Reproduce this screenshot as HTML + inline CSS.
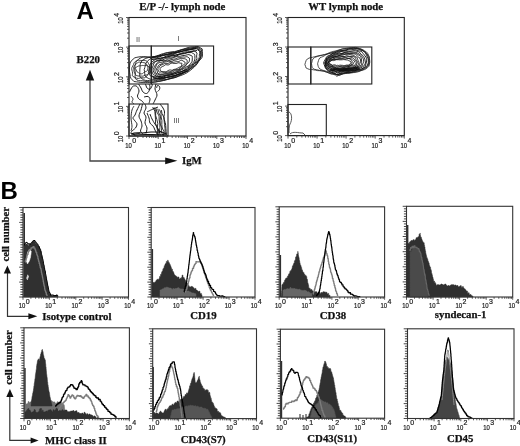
<!DOCTYPE html><html><head><meta charset="utf-8"><style>html,body{margin:0;padding:0;background:#fff;}svg{display:block;filter:blur(0.35px)}</style></head><body>
<svg width="520" height="446" viewBox="0 0 520 446">
<rect width="520" height="446" fill="#fff"/>
<text x="76.6" y="18.7" style="font-family:'Liberation Sans',sans-serif;font-weight:bold;font-size:24px" fill="#000" >A</text>
<text x="139.3" y="10" style="font-family:'Liberation Serif',serif;font-weight:bold;font-size:10.8px" fill="#111" stroke="#111" stroke-width="0.25" >E/P -/- lymph node</text>
<text x="308.3" y="10" style="font-family:'Liberation Serif',serif;font-weight:bold;font-size:10.8px" fill="#111" stroke="#111" stroke-width="0.25" >WT lymph node</text>
<text x="76.6" y="63.3" style="font-family:'Liberation Serif',serif;font-weight:bold;font-size:10.8px" fill="#111" stroke="#111" stroke-width="0.25" >B220</text>
<text x="182" y="163.5" style="font-family:'Liberation Serif',serif;font-weight:bold;font-size:10.8px" fill="#111" stroke="#111" stroke-width="0.25" >IgM</text>
<path d="M90 79 V161 H167" stroke="#444" stroke-width="1.3" fill="none"/>
<polygon points="90,69.8 85.8,80.6 94.2,80.6" fill="#111"/>
<polygon points="177.4,160.8 165.2,157.4 165.2,164.2" fill="#111"/>
<polygon points="129.3,70 129.5,67.7 129.7,65.3 130,63.1 131.1,61.1 133,59.3 134.8,57.8 136.9,57.3 139,56.9 141.2,56.7 143.4,56.8 145.7,57 147.9,57 150.3,56.8 152.4,56.7 154.6,56.5 156.7,55.9 158.8,55.2 161.2,54.2 163.4,53.6 165.7,52.9 167.8,52.5 169.9,52.1 172,51.8 174.4,51.6 176.8,51.1 179.2,50.5 181.4,49.6 183.7,49 185.9,48.3 188,47.5 190.1,47.1 192.1,46.9 194.2,46.8 196.2,46.5 198.3,46.5 200.2,47.7 202.2,48.9 202.4,51.3 202.5,53.9 202.4,56.6 201.4,58.5 199.9,60 198.6,61.6 197.3,63.6 195.7,65.6 193.9,67.4 192.2,68.8 190.7,70.1 189,71.3 187.2,72.6 185.2,73.7 183.1,74.6 180.9,75.5 178.8,76.2 176.8,77 174.5,77.8 172.1,78.4 169.7,78.9 167.8,79.4 165.8,80 163.6,80.5 161.2,81.1 158.7,81.4 156.5,81.9 154.2,82.1 152,82.4 149.6,82.3 147.4,82.4 145.2,82.4 143.1,82.4 140.9,82.4 138.5,82.1 136.3,81.8 133.9,81.5 132.4,79.9 130.9,78.3 130.3,76.5 130,74.3 129.6,72.3" fill="none" stroke="#1a1a1a" stroke-width="0.9" stroke-linejoin="round"/>
<polygon points="134.8,69.5 134.8,67.4 135.1,65.5 135.4,63.7 136.2,61.8 137.6,60.2 139.1,58.6 141,57.8 142.9,57.1 144.9,56.8 147,57.1 149.2,57.4 151.1,57.8 153.4,57.5 155.5,56.9 157.8,56.1 159.8,55.6 161.6,54.9 163.4,54.2 165.4,53.4 167.7,52.9 170.1,52.6 172.4,52.4 174.4,52.2 176,51.6 177.6,50.9 179.5,50.3 181.7,49.8 183.9,49.4 185.9,49 187.8,48.5 189.9,48.1 191.9,47.7 194.2,47.5 196.4,47.1 198.6,47.5 200.2,48.5 201.5,49.9 201.1,51.9 201.1,54 201.1,55.8 200.5,57.5 199.3,59.3 198.2,61.3 197.1,63.4 195.6,65.1 194,66.4 192.3,67.6 190.6,68.8 188.9,70.1 187.2,71.3 185.4,72.2 183.5,73.1 181.9,74.2 180.2,75.1 178.4,76.1 176.3,77 174.1,77.6 172,78.1 169.9,78.6 167.8,79.2 165.7,79.7 163.9,80.3 162.1,80.5 160,81 157.6,81.4 155.4,81.9 153.5,82.1 151.6,82.1 149.3,81.9 146.8,81.6 144.5,81.2 142.7,80.8 140.6,80.7 138.6,80.7 136.8,79.8 135.4,78.7 135,76.7 135.3,74.3 135.2,71.8" fill="none" stroke="#1a1a1a" stroke-width="0.9" stroke-linejoin="round"/>
<polygon points="139.8,69.9 140,67.9 140.1,66.3 140.2,64.3 140.7,62.6 141.8,60.9 143.4,59.6 145.2,58.7 146.9,58 148.7,57.5 150.7,57.4 153,57.4 155.1,57.2 157,56.9 158.8,56.4 160.5,56 162.4,55.4 164.2,55.1 166.1,54.7 167.7,54.3 169.4,53.5 171.2,53.1 173.2,52.6 175.2,52.5 177.1,52 179,51.3 180.9,50.3 182.6,49.6 184.5,49.2 186.2,49.1 188.1,49 190.1,48.9 192.3,48.5 194.4,48.2 196.6,47.7 198.4,48.3 200,49.3 201.2,50.6 201,52.5 200.9,54.6 200.9,56.4 200.3,58 199.1,59.7 198,61.5 196.9,63.4 195.7,64.8 194.3,65.8 192.6,66.8 191,68.1 189.4,69.2 187.8,70.5 186.1,71.3 184.6,72.3 183,73.2 181.5,73.9 179.6,74.8 177.7,75.7 175.9,76.3 174.5,76.8 172.8,77.4 170.9,78.2 168.6,78.9 166.7,79.4 164.8,79.6 163.1,79.7 161.1,79.8 159.2,80 157.3,80.4 155.2,80.6 153.2,80.8 151.2,80.8 149.4,80.6 147.5,80.5 145.6,80.4 143.7,79.9 142,78.7 140.4,77.4 139.7,75.8 139.8,73.9 139.8,71.8" fill="none" stroke="#1a1a1a" stroke-width="0.9" stroke-linejoin="round"/>
<polygon points="144.2,69.5 144.8,67.6 145.2,66 145.6,64.5 145.9,63.1 146.8,62 147.8,60.7 149.3,59.6 150.8,58.5 152.6,58 154.5,57.9 156.4,57.8 158.2,57.4 160,56.7 161.5,56.1 163.2,55.6 165,55.2 167.1,54.8 169,54.6 170.8,54.4 172.4,54 174,53.5 175.8,52.9 177.4,52.5 178.9,52.1 180.4,51.6 182.1,51.1 183.7,50.5 185.3,50 187,49.6 189.1,49.3 191.2,49 193.1,48.5 194.6,48.1 196,47.8 197.4,48.6 199,49.9 200.5,51.1 200.7,52.7 200.9,54.5 200.9,56.3 200.5,58.1 199.5,59.6 198.3,60.8 197,62.1 195.4,63.2 194,64.6 192.6,65.9 191.5,67.2 190.2,68.3 188.8,69.5 187.3,70.4 185.8,71.5 184.4,72.3 182.6,72.8 181,73.3 179.3,73.8 177.7,74.4 176,75 174.2,75.6 172.3,76.3 170.4,76.8 168.6,77.2 167,77.5 165.6,77.9 164,78.4 162.1,79 160.1,79.4 158.4,79.3 156.7,79.2 155.1,79.1 153.4,79.2 151.9,79.3 150.3,79.2 148.8,78.6 147.1,77.6 145.6,76.7 144.9,75.1 144.7,73.4 144.5,71.4" fill="none" stroke="#1a1a1a" stroke-width="0.9" stroke-linejoin="round"/>
<polygon points="149,70.4 149.3,68.7 149.6,66.7 150.1,64.9 150.7,63.2 151.7,62.1 152.9,61.2 154,60.4 155.2,59.5 156.7,59.1 158.6,58.8 160.4,58.5 162,58 163.3,57.5 164.7,56.9 166.2,56.2 167.8,55.5 169.5,55.1 171.3,54.9 172.9,54.6 174.2,54.2 175.4,53.5 176.8,52.9 178.4,52.4 180,52 181.6,51.5 183,51 184.5,50.6 186.1,50.2 187.9,50 189.8,49.7 191.5,49.6 193,49.1 194.6,48.9 196.3,48.7 197.7,49.8 199,50.8 199.8,51.9 199.6,53.5 199.3,55.1 199.4,56.6 199.1,58.1 198.3,59.3 197.2,60.6 196.2,61.7 195.1,63.1 194,64.2 192.7,65.3 191.6,66.2 190.2,67.2 188.9,68.2 187.5,69.4 186.2,70.3 184.9,71.3 183.5,71.9 182.1,72.8 180.7,73.4 179.5,74.1 178.1,74.6 176.7,75.2 175.1,75.9 173.8,76.4 172.2,76.8 170.7,76.9 168.9,77.1 167.1,77.4 165.2,77.9 163.5,78.3 162.1,78.4 160.8,78.3 159.4,78.4 157.7,78.5 156.1,78.5 154.6,78.2 153.4,77.3 151.9,76.5 150.2,75.7 149.5,74.5 149.3,73.2 149.3,72" fill="none" stroke="#111" stroke-width="0.9" stroke-linejoin="round"/>
<polygon points="149.8,70 150.3,68.7 150.9,67.2 151.5,65.4 152,63.8 153,62.6 154.1,62 155.2,61.5 156.3,60.8 157.8,60.4 159.3,59.9 160.9,59.3 162.3,58.7 163.8,58 165.1,57.7 166.4,57.4 167.6,56.9 169,56.1 170.4,55.6 172.3,55.3 173.9,55.4 175.5,55.2 176.8,54.9 178,54.4 179.2,53.9 180.6,53.4 182.2,52.9 183.5,52.4 184.8,52 186,51.8 187.6,51.8 189.3,51.7 191.2,51.3 192.7,51 194.1,50.7 195.1,51.5 196.2,52.1 197,53.1 196.8,54.5 196.6,55.9 196.7,57.2 196.9,58.6 196.2,60.1 195.3,61.5 194.4,62.6 193.7,63.5 193,64.2 191.8,65 190.5,66 189,67.1 187.8,68.1 186.4,69.2 185.1,70 183.7,70.7 182.6,71.2 181.4,71.7 180.2,72.6 178.9,73.6 177.6,74.5 176.4,75.1 175.1,75.5 173.6,75.7 171.8,75.8 170.2,76.1 168.8,76.3 167.6,76.8 166.3,77.2 165,77.5 163.5,77.5 162.1,77.5 160.7,77.7 159.2,77.8 157.5,78 155.8,77.8 154.3,77.2 153,76.6 151.9,76 151.3,74.5 150.8,72.9 150.2,71.3" fill="none" stroke="#111" stroke-width="0.9" stroke-linejoin="round"/>
<polygon points="151.4,70 151.8,68.9 152.5,67.4 153.1,65.8 153.6,64.2 154.1,63 154.9,62.3 155.7,61.6 156.9,61.1 158.3,60.7 160,60.6 161.6,60.2 163,59.8 164.2,59.2 165.3,58.7 166.7,58.3 168.1,57.8 169.4,57.5 170.5,57.2 171.6,57.2 172.8,57 174,56.8 175.3,56.4 176.8,55.8 178.4,55.1 179.8,54.5 181,54 182.2,53.9 183.5,53.8 184.7,53.6 186,53.1 187.3,52.7 188.8,52.6 190.1,52.6 191.4,52.5 192.3,53 193.4,53.6 194.5,54.3 194.8,55.5 194.9,57 194.9,58.5 194.7,60 194.1,61.3 193.3,62.4 192.4,63.4 191.4,64.4 190.2,65.3 188.8,66.1 187.7,66.9 186.7,67.8 185.9,68.6 185,69.4 184.1,70.1 183,70.9 181.9,71.4 180.5,71.7 179.1,72.2 177.6,72.7 176.3,73.4 175.1,73.8 174.2,74.2 173.1,74.3 171.8,74.7 170.4,75 168.9,75.5 167.6,75.7 166.3,75.9 165.1,76.3 163.6,76.8 162,77.2 160.4,77.4 159.1,77.4 158.1,77 157.1,76.6 156,75.7 154.6,75.2 153.3,74.7 152.8,73.8 152.4,72.5 151.9,71.3" fill="none" stroke="#111" stroke-width="0.9" stroke-linejoin="round"/>
<polygon points="152.9,69.9 153.5,68.8 154.1,67.6 154.8,66.2 155.3,65.1 156.1,64.2 157,63.4 157.9,62.4 158.8,61.4 160,60.8 161,60.6 162,60.5 163.1,60.7 164.4,60.7 165.6,60.4 166.6,59.8 167.7,59.2 168.9,58.9 170.1,58.8 171.3,58.5 172.4,58.1 173.6,57.5 174.9,57.1 176.1,56.7 177.4,56.5 178.5,56.4 179.6,56.4 180.6,56.2 181.8,55.8 182.9,55.6 184.2,55.5 185.3,55.3 186.5,55 187.7,54.7 188.9,54.6 190,55.1 191.2,55.5 192.2,56.2 192.3,57.5 192.3,58.9 192.2,60 192.2,61.2 191.6,62.2 190.7,63.4 189.8,64.4 189,65.4 188.5,66 187.7,66.3 186.8,66.7 185.5,67.4 184.3,68.3 183,69.1 181.9,69.6 180.8,70.2 179.8,70.7 178.7,71.4 177.7,71.7 176.6,72 175.6,72.3 174.5,72.7 173.5,73 172.5,73.4 171.3,73.8 170.3,74.3 169.2,74.4 168.1,74.6 166.8,74.8 165.3,75.5 164,75.8 162.6,76 161.2,75.9 159.8,76 158.7,76 157.8,75.9 157.1,75.2 156.3,74.5 155.2,74 154.5,73.1 153.8,72 153.3,70.9" fill="none" stroke="#111" stroke-width="0.9" stroke-linejoin="round"/>
<polygon points="154.8,69.5 155.1,68.6 155.4,67.7 155.8,66.9 156.1,65.8 156.6,64.7 157.4,63.8 158.4,63.1 159.5,62.6 160.7,62.4 161.8,62.2 162.8,61.9 163.7,61.5 164.6,61 165.6,60.9 166.6,60.7 167.6,60.8 168.7,60.6 169.9,60.3 171,59.8 172.1,59.5 173.3,59.2 174.4,59.1 175.7,58.8 176.8,58.3 177.8,57.9 178.7,57.7 179.5,57.7 180.4,57.6 181.5,57.3 182.5,57.1 183.5,57 184.6,57.1 185.6,56.9 186.5,56.7 187.3,56.8 188.2,57.3 189.1,57.9 189.6,58.9 189.5,59.8 189.4,60.7 189.1,61.7 188.6,62.5 187.9,63.1 187.2,63.7 186.6,64.4 185.9,65.3 185.1,66.3 184.2,67.3 183.4,68.1 182.5,68.5 181.5,68.9 180.5,69.5 179.7,70.1 178.8,70.6 177.9,71.1 176.8,71.6 175.8,72.1 174.8,72.5 174,72.8 173.1,73.2 172.2,73.3 171,73.3 169.9,73.3 168.6,73.4 167.6,73.8 166.5,74.1 165.5,74.6 164.6,74.7 163.6,74.6 162.7,74.4 161.6,74.4 160.6,74.7 159.6,74.8 158.6,74.5 157.5,74 156.2,73.4 155.6,72.5 155.2,71.5 155,70.5" fill="none" stroke="#111" stroke-width="0.9" stroke-linejoin="round"/>
<polygon points="156.2,69.1 156.8,68.3 157.2,67.7 157.8,66.9 158.1,66.1 158.6,65.4 159.2,64.8 159.9,64.5 161,64.2 161.8,63.7 162.8,63.2 163.5,62.6 164.5,62.2 165.5,61.9 166.5,61.8 167.3,61.7 168,61.4 168.6,61.2 169.2,61.2 170.1,61.5 171.1,61.4 172.2,61.2 173.2,60.7 174.2,60.3 175.4,60.1 176.6,59.8 177.7,59.5 178.6,59.2 179.4,58.9 180.1,58.7 180.8,58.6 181.5,58.6 182.4,58.6 183.3,58.6 184.4,58.7 185.4,59 186.2,59.3 186.8,59.8 187.1,60.5 187.2,61.5 187.1,62.4 186.9,63.3 186.4,64 185.9,64.6 185.3,65.3 184.8,66 183.8,66.6 182.9,67 182.1,67.6 181.6,68.2 180.8,68.8 180,69.2 179.1,69.7 178.3,70 177.4,70.4 176.4,70.5 175.5,70.8 174.7,70.9 174,71.2 173.3,71.5 172.5,72 171.7,72.4 170.7,72.5 169.8,72.6 168.8,72.8 167.9,73.1 166.9,73.3 165.9,73.4 164.9,73.5 164.1,73.8 163.2,73.9 162.4,74.1 161.4,74.1 160.3,74.2 159.1,73.9 158.1,73.4 157.5,72.9 157.3,71.7 157.1,70.8 156.7,69.9" fill="none" stroke="#111" stroke-width="0.9" stroke-linejoin="round"/>
<polygon points="157.6,68.9 158.2,68.4 158.8,67.8 159.3,67 159.5,66.2 159.9,65.8 160.2,65.5 161,65.3 161.6,64.8 162.5,64.5 163.1,64.2 163.9,63.9 164.5,63.6 165.1,63.4 165.7,63.5 166.5,63.5 167.3,63.6 168.3,63.3 169.3,62.8 170.2,62.4 170.7,62.2 171.4,62.3 172.4,62.3 173.7,62.3 174.5,62.1 175.1,62 175.6,61.8 176.4,61.7 177.3,61.7 178.4,61.6 179.4,61.2 180.2,60.6 180.7,60.4 181.3,60.2 182.1,60.4 182.9,60.9 183.7,61.4 184.4,61.8 185,62.2 185.2,62.8 185,63.6 184.5,64.3 184,64.7 183.4,65 182.8,65.5 182.1,66.1 181.5,66.7 180.8,67.1 180.2,67.5 179.5,68.1 179,68.9 178.6,69.4 178.2,69.5 177.4,69.5 176.4,69.5 175.3,69.8 174.4,70 173.8,70.2 173.3,70.3 172.7,70.6 171.9,71.1 170.8,71.5 169.7,71.7 168.7,71.8 168,72 167.3,72.1 166.6,72.4 165.9,72.4 165.1,72.6 164.5,72.6 163.8,72.7 163.2,72.3 162.4,72.1 161.7,71.9 160.9,71.9 160.1,72.1 159.4,72.2 158.9,71.7 158.5,70.7 158,69.8" fill="none" stroke="#111" stroke-width="0.9" stroke-linejoin="round"/>
<polygon points="159.9,68.7 160.4,68.3 160.7,67.9 161,67.4 161.2,67.1 161.7,66.8 162.1,66.5 162.8,66.3 163.4,66.1 164,65.8 164.7,65.3 165.1,64.9 165.6,64.7 166.1,64.7 166.9,64.8 167.5,64.9 168.2,64.9 168.6,64.9 168.9,64.8 169.2,64.4 169.9,64 170.8,63.4 171.8,63.1 172.5,63.1 173,63.3 173.5,63.5 173.9,63.6 174.6,63.5 175.3,63.5 176.1,63.5 176.8,63.3 177.5,63 178,62.9 178.6,62.7 179.1,62.8 179.9,63 180.7,63.2 181.4,63.2 181.9,63.3 181.9,63.8 181.7,64.6 181.7,65.3 181.6,66.1 181,66.5 180.2,67 179.4,67.2 178.7,67.5 178.2,67.7 177.7,68.1 177.2,68.4 176.6,68.6 176.1,68.9 175.6,69.1 175.2,69.3 174.7,69.3 174.2,69.4 173.6,69.5 173,69.8 172.6,70.1 172,70.3 171.3,70.2 170.5,70 169.7,70 169.1,70.2 168.3,70.5 167.6,70.9 167,71.3 166.6,71.5 165.9,71.7 165.4,71.7 164.8,71.7 164.3,71.5 163.7,71.6 163,71.7 162.3,71.6 161.4,71.4 160.7,71 160.4,70.5 160.2,69.9 160.1,69.3" fill="none" stroke="#111" stroke-width="0.9" stroke-linejoin="round"/>
<polygon points="132,67.4 132.7,66.1 133.5,64.6 134.1,62.8 135.4,61.4 136.9,60.6 138.1,60.1 139.1,60.2 140.3,60.4 142.1,60.6 144.1,60.3 145.6,60.6 146.7,61.1 147.8,62.1 148.6,63.7 149.7,65.5 150.1,67.1 150.1,68.7 150.2,70.1 150.5,71.3 150.3,72 149.3,72.9 148.2,74.2 147.1,75.8 145.9,76.8 145,77.5 144.1,78 142.9,77.8 141.7,77.7 140.2,77.9 138.3,78.5 136.3,78.1 134.5,77.3 132.9,76.4 132.4,75.8 132.4,74.5 132.6,73.2 132.3,71.4 131.9,70 131.7,68.6" fill="none" stroke="#222" stroke-width="0.85" stroke-linejoin="round"/>
<polygon points="133.6,67.9 133.9,66.8 134.4,65.7 135.2,64.8 136.3,63.8 137.4,62.9 138.4,62.3 139.5,62.1 141,62.5 142.4,62.4 143.9,62.7 145,62.9 146,63.7 146.6,64.2 147.1,65.2 147.9,65.9 149,66.9 149.3,68.3 149.2,69.7 148.7,70.8 148.4,71.9 148.3,72.9 148.5,74 147.9,74.6 146.5,74.9 145,75.2 143.9,75.8 142.9,76.2 141.8,76.1 140.4,76 139,76 138,76 137.1,75.7 136.2,75.3 135.2,74.4 134.8,73.2 134.2,72.1 134,71.1 133.9,70.1 133.9,69" fill="none" stroke="#222" stroke-width="0.85" stroke-linejoin="round"/>
<polygon points="135,67.8 135.7,67.5 136.5,67.1 137.5,66.5 138.2,66.1 139.2,65.9 140.3,65.8 141.5,65.6 142.2,65.5 142.9,65.4 143.6,65.5 144.7,65.3 145.8,65.4 146.8,65.3 147.2,66.1 147.7,66.9 147.9,67.7 147.8,68.5 147.5,69.2 147.7,70 147.5,70.5 147.1,70.8 146.5,71.2 145.6,71.5 144.7,71.9 144,72.3 143.4,73 142.5,73.6 141.3,73.9 140.1,73.8 139.2,73.5 138.6,73 138.1,72.4 137.6,72.2 137.3,72 137.1,71.8 136.7,71 136.3,70.1 135.6,69 135.2,68.4" fill="none" stroke="#222" stroke-width="0.85" stroke-linejoin="round"/>
<path d="M152 57 C165 55 178 52 196 48.5 M152 59.5 C166 57.5 180 54 197 50.5 M153 79 C165 78.5 176 76 188 71 M153 77 C165 76.5 176 74 187 69.5" stroke="#111" stroke-width="1.0" fill="none"/>
<polyline points="129.5,92 129.9,91.2 130.4,90.1 131,89 131.5,88 132,87.3 132.4,86.7 132.9,86.3 133.5,86 134.3,85.9 135.2,85.8 136.2,86 137,86.5 137.7,87.3 138.3,88.5 138.8,89.7 139,91 138.8,92.3 138.3,93.6 137.7,94.9 137.5,96 137.6,96.9 138,97.7 138.4,98.4 139,99 139.7,99.6 140.5,100 141.3,100.5 142,101 142.6,101.6 143.2,102.4 143.7,103 144,103.5" fill="none" stroke="#1a1a1a" stroke-width="1.0" stroke-linejoin="round"/>
<polyline points="138.5,84 139,84.7 139.6,85.8 140.4,86.9 141,88 141.5,89.1 141.9,90.2 142.4,91.2 143,92 143.8,92.6 144.7,93.2 145.7,93.5 146.5,93.5 147.2,93.2 147.9,92.6 148.5,91.8 149,91 149.4,90.1 149.7,89 149.9,88 150,87 149.9,86.1 149.6,85.2 149.2,84.5 149,84" fill="none" stroke="#1a1a1a" stroke-width="1.0" stroke-linejoin="round"/>
<polyline points="145.5,84 145.7,84.8 146.1,85.9 146.5,87.1 147,88 147.7,88.6 148.5,89.1 149.3,89.3 150,89.2 150.6,88.7 151.2,87.8 151.6,86.8 152,86 152.2,85.4 152.4,84.8 152.4,84.3 152.5,84" fill="none" stroke="#1a1a1a" stroke-width="1.0" stroke-linejoin="round"/>
<polyline points="156,84 155.8,84.9 155.4,86.1 155.1,87.6 155,89 155.4,90.5 156.1,92 156.7,93.5 157,95 156.8,96.3 156.2,97.6 155.6,98.8 155,100 154.5,101.2 153.9,102.3 153.4,103.3 153,104" fill="none" stroke="#1a1a1a" stroke-width="1.0" stroke-linejoin="round"/>
<polyline points="156.5,88 156.7,87.5 156.9,86.7 157.2,85.9 157.5,85.5 158,85.5 158.6,85.7 159.1,86 159.5,86.5 159.7,87.1 159.8,87.9 159.7,88.8 159.5,89.5 159.1,90.1 158.5,90.7 157.9,91.2 157.5,91.5" fill="none" stroke="#1a1a1a" stroke-width="1.0" stroke-linejoin="round"/>
<polyline points="144,97 144.8,96.8 145.9,96.6 147,96.4 148,96.5 148.7,96.9 149.3,97.4 149.8,98.2 150,99 149.9,100.1 149.6,101.4 149.2,102.6 149,103.5" fill="none" stroke="#1a1a1a" stroke-width="1.0" stroke-linejoin="round"/>
<polyline points="131,96 131.4,96.5 132.1,97.3 132.7,98.2 133,99 132.9,99.8 132.5,100.6 132.1,101.3 132,102 132.3,102.6 132.9,103.2 133.6,103.7 134,104" fill="none" stroke="#333" stroke-width="1.0" stroke-linejoin="round"/>
<polyline points="140,104 139.4,105.1 138.6,106.7 137.8,108.4 137,110 136.4,111.4 135.9,112.7 135.5,113.9 135,115 134.4,115.9 133.8,116.6 133.2,117.3 133,118 133.2,118.8 133.8,119.5 134.4,120.2 135,121 135.6,121.7 136.2,122.4 136.7,123.2 137,124 136.9,125 136.6,126 136.1,127 135.5,128 134.7,128.8 133.7,129.6 132.7,130.3 132,131 131.5,131.7 131.1,132.4 130.9,133 131,133.5 131.4,133.9 132.1,134.2 132.9,134.5 134,134.5 135.4,134.3 137.2,133.8 138.9,133.3 140,133" fill="none" stroke="#1a1a1a" stroke-width="1.0" stroke-linejoin="round"/>
<polyline points="142.5,104 142.2,105.1 141.9,106.6 141.4,108.4 141,110 140.4,111.5 139.8,113.1 139.2,114.6 139,116 139.2,117.3 139.8,118.6 140.5,119.8 141,121 141.4,122.2 141.7,123.5 141.9,124.8 142,126 141.7,127.3 141.2,128.6 140.7,129.9 140.5,131 140.9,132 141.7,132.8 142.5,133.5 143,134" fill="none" stroke="#1a1a1a" stroke-width="1.0" stroke-linejoin="round"/>
<polyline points="145,104 145.2,104.7 145.6,105.7 145.9,106.8 146,108 145.6,109.2 144.9,110.5 144.3,111.8 144,113 144.3,114 144.9,114.9 145.6,115.9 146,117 145.9,118.4 145.5,119.9 145.1,121.5 145,123 145.4,124.3 146,125.5 146.6,126.7 147,128 146.9,129.5 146.6,131.1 146.2,132.5 146,133.5" fill="none" stroke="#1a1a1a" stroke-width="1.0" stroke-linejoin="round"/>
<polyline points="147,112 147.5,111.7 148.3,111.3 149.2,110.9 150,110.5 150.7,110.1 151.4,109.8 152.1,109.4 153,109 154.2,108.5 155.7,107.9 157.1,107.4 158,107" fill="none" stroke="#1a1a1a" stroke-width="1.0" stroke-linejoin="round"/>
<polyline points="147,113 147.4,113.9 147.9,115.2 148.5,116.6 149,118 149.3,119.3 149.4,120.6 149.6,121.9 150,123 150.6,123.9 151.4,124.6 152.3,125.2 153,126 153.6,126.9 154.1,127.9 154.5,129 155,130 155.5,131.1 156.1,132.2 156.6,133.3 157,134" fill="none" stroke="#1a1a1a" stroke-width="1.0" stroke-linejoin="round"/>
<polyline points="150,114 150.3,114.9 150.8,116.2 151.4,117.6 152,119 152.7,120.2 153.4,121.5 154.2,122.8 155,124 155.8,125.3 156.6,126.6 157.3,127.8 158,129 158.6,130.2 159.2,131.3 159.7,132.3 160,133" fill="none" stroke="#1a1a1a" stroke-width="1.0" stroke-linejoin="round"/>
<polyline points="160,104 160.6,104.7 161.4,105.8 162.3,106.9 163,108 163.5,109 164,109.9 164.3,110.9 164.5,112 164.5,113.4 164.2,114.9 164,116.5 164,118 164.3,119.5 164.7,121 165.1,122.5 165.5,124 165.7,125.5 165.8,127.1 165.9,128.6 166,130 166.1,131.4 166.3,132.9 166.4,134.1 166.5,135" fill="none" stroke="#1a1a1a" stroke-width="1.0" stroke-linejoin="round"/>
<polyline points="134,106 133.6,106.6 133.1,107.5 132.5,108.6 132,110 131.6,111.7 131.3,113.8 131.1,115.9 131,118 131.2,120.1 131.5,122.2 131.8,124.2 132,126 131.9,127.6 131.6,129 131.2,130.2 131,131" fill="none" stroke="#333" stroke-width="1.0" stroke-linejoin="round"/>
<path d="M152.7 107 L154.8 111.1 L155.2 115.1 L155.5 119.2 L155.5 123.3 L157 127.4 L157.6 131.4 L157.5 135.5 M154.6 107.6 L155.6 111.6 L155.7 115.6 L156.9 119.6 L157.8 123.5 L157.3 127.5 L159.1 131.5 L158.6 135.5 M155.9 108.2 L156.9 112.1 L159.1 116 L159.1 119.9 L159.9 123.8 L159.9 127.7 L159.4 131.6 L160.4 135.5 M157.8 108.8 L158.6 112.6 L160.6 116.4 L160.1 120.2 L160.2 124.1 L161.9 127.9 L161.1 131.7 L163.1 135.5 M159.4 109.4 L161 113.1 L161.1 116.9 L161.9 120.6 L161.8 124.3 L162.1 128 L164.1 131.8 L163.4 135.5 M161.3 110 L162 113.6 L163.8 117.3 L164.2 120.9 L164.5 124.6 L165 128.2 L165.1 131.9 L165.9 135.5" stroke="#111" stroke-width="0.85" fill="none"/>
<path d="M131 134 C137 131.5 141 134 146 132.5 C151 131 156 133 161 131.5 L166 134 M134 135.2 C142 133.8 150 134.8 165 134.8" stroke="#111" stroke-width="1.1" fill="none"/>
<rect x="129" y="46" width="22.3" height="38" fill="none" stroke="#222" stroke-width="1.1"/>
<rect x="151.3" y="46" width="62.3" height="38" fill="none" stroke="#222" stroke-width="1.1"/>
<rect x="129" y="104" width="39" height="32" fill="none" stroke="#222" stroke-width="1.1"/>
<rect x="129" y="17.5" width="117" height="118.5" fill="none" stroke="#222" stroke-width="1.1"/>
<path d="M129 136v3M137.8 136v2M143 136v2M146.6 136v2M149.4 136v2M151.8 136v2M153.7 136v2M155.4 136v2M156.9 136v2M158.2 136v3M167.1 136v2M172.2 136v2M175.9 136v2M178.7 136v2M181 136v2M183 136v2M184.7 136v2M186.2 136v2M187.5 136v3M196.3 136v2M201.5 136v2M205.1 136v2M207.9 136v2M210.3 136v2M212.2 136v2M213.9 136v2M215.4 136v2M216.8 136v3M225.6 136v2M230.7 136v2M234.4 136v2M237.2 136v2M239.5 136v2M241.5 136v2M243.2 136v2M244.7 136v2M246 136v3" stroke="#333" stroke-width="0.8" fill="none"/>
<path d="M129 136h-3M129 127.1h-2M129 121.9h-2M129 118.2h-2M129 115.3h-2M129 112.9h-2M129 111h-2M129 109.2h-2M129 107.7h-2M129 106.4h-3M129 97.5h-2M129 92.2h-2M129 88.5h-2M129 85.7h-2M129 83.3h-2M129 81.3h-2M129 79.6h-2M129 78.1h-2M129 76.8h-3M129 67.8h-2M129 62.6h-2M129 58.9h-2M129 56h-2M129 53.7h-2M129 51.7h-2M129 50h-2M129 48.5h-2M129 47.1h-3M129 38.2h-2M129 33h-2M129 29.3h-2M129 26.4h-2M129 24.1h-2M129 22.1h-2M129 20.4h-2M129 18.9h-2M129 17.5h-3" stroke="#333" stroke-width="0.8" fill="none"/>
<text x="125.2" y="148" style="font-family:'Liberation Sans',sans-serif;font-size:7.0px" fill="#1a1a1a" stroke="#1a1a1a" stroke-width="0.2" textLength="6.6" lengthAdjust="spacingAndGlyphs">10</text>
<text x="132.2" y="143.4" style="font-family:'Liberation Sans',sans-serif;font-size:7.0px" fill="#1a1a1a" stroke="#1a1a1a" stroke-width="0.2">0</text>
<text x="154.4" y="148" style="font-family:'Liberation Sans',sans-serif;font-size:7.0px" fill="#1a1a1a" stroke="#1a1a1a" stroke-width="0.2" textLength="6.6" lengthAdjust="spacingAndGlyphs">10</text>
<text x="161.4" y="143.4" style="font-family:'Liberation Sans',sans-serif;font-size:7.0px" fill="#1a1a1a" stroke="#1a1a1a" stroke-width="0.2">1</text>
<text x="183.7" y="148" style="font-family:'Liberation Sans',sans-serif;font-size:7.0px" fill="#1a1a1a" stroke="#1a1a1a" stroke-width="0.2" textLength="6.6" lengthAdjust="spacingAndGlyphs">10</text>
<text x="190.7" y="143.4" style="font-family:'Liberation Sans',sans-serif;font-size:7.0px" fill="#1a1a1a" stroke="#1a1a1a" stroke-width="0.2">2</text>
<text x="212.9" y="148" style="font-family:'Liberation Sans',sans-serif;font-size:7.0px" fill="#1a1a1a" stroke="#1a1a1a" stroke-width="0.2" textLength="6.6" lengthAdjust="spacingAndGlyphs">10</text>
<text x="219.9" y="143.4" style="font-family:'Liberation Sans',sans-serif;font-size:7.0px" fill="#1a1a1a" stroke="#1a1a1a" stroke-width="0.2">3</text>
<text x="242.2" y="148" style="font-family:'Liberation Sans',sans-serif;font-size:7.0px" fill="#1a1a1a" stroke="#1a1a1a" stroke-width="0.2" textLength="6.6" lengthAdjust="spacingAndGlyphs">10</text>
<text x="249.2" y="143.4" style="font-family:'Liberation Sans',sans-serif;font-size:7.0px" fill="#1a1a1a" stroke="#1a1a1a" stroke-width="0.2">4</text>
<g transform="translate(123.2,142.2) rotate(-90)"><text x="0" y="0" style="font-family:'Liberation Sans',sans-serif;font-size:7.0px" fill="#1a1a1a" stroke="#1a1a1a" stroke-width="0.2" textLength="6.6" lengthAdjust="spacingAndGlyphs">10</text><text x="7" y="-4.2" style="font-family:'Liberation Sans',sans-serif;font-size:7.0px" fill="#1a1a1a" stroke="#1a1a1a" stroke-width="0.2">0</text></g>
<g transform="translate(123.2,112.6) rotate(-90)"><text x="0" y="0" style="font-family:'Liberation Sans',sans-serif;font-size:7.0px" fill="#1a1a1a" stroke="#1a1a1a" stroke-width="0.2" textLength="6.6" lengthAdjust="spacingAndGlyphs">10</text><text x="7" y="-4.2" style="font-family:'Liberation Sans',sans-serif;font-size:7.0px" fill="#1a1a1a" stroke="#1a1a1a" stroke-width="0.2">1</text></g>
<g transform="translate(123.2,83) rotate(-90)"><text x="0" y="0" style="font-family:'Liberation Sans',sans-serif;font-size:7.0px" fill="#1a1a1a" stroke="#1a1a1a" stroke-width="0.2" textLength="6.6" lengthAdjust="spacingAndGlyphs">10</text><text x="7" y="-4.2" style="font-family:'Liberation Sans',sans-serif;font-size:7.0px" fill="#1a1a1a" stroke="#1a1a1a" stroke-width="0.2">2</text></g>
<g transform="translate(123.2,53.3) rotate(-90)"><text x="0" y="0" style="font-family:'Liberation Sans',sans-serif;font-size:7.0px" fill="#1a1a1a" stroke="#1a1a1a" stroke-width="0.2" textLength="6.6" lengthAdjust="spacingAndGlyphs">10</text><text x="7" y="-4.2" style="font-family:'Liberation Sans',sans-serif;font-size:7.0px" fill="#1a1a1a" stroke="#1a1a1a" stroke-width="0.2">3</text></g>
<g transform="translate(123.2,23.7) rotate(-90)"><text x="0" y="0" style="font-family:'Liberation Sans',sans-serif;font-size:7.0px" fill="#1a1a1a" stroke="#1a1a1a" stroke-width="0.2" textLength="6.6" lengthAdjust="spacingAndGlyphs">10</text><text x="7" y="-4.2" style="font-family:'Liberation Sans',sans-serif;font-size:7.0px" fill="#1a1a1a" stroke="#1a1a1a" stroke-width="0.2">4</text></g>
<text x="136" y="41.8" style="font-family:'Liberation Sans',sans-serif;font-size:7.4px" fill="#444" >II</text>
<text x="177.4" y="41.2" style="font-family:'Liberation Sans',sans-serif;font-size:7.4px" fill="#444" >I</text>
<text x="173.4" y="122.9" style="font-family:'Liberation Sans',sans-serif;font-size:7.4px" fill="#444" >III</text>
<polygon points="304.9,64.4 305.5,62.3 306.2,60.4 307.3,59 309,58.1 310.5,57.6 312.6,57.3 314.7,56.7 317,56.2 318.9,55.7 320.8,55.3 322.7,55.1 324.5,54.7 326.2,54.3 327.7,53.5 329.3,52.7 331.2,52 333.3,51.4 335.2,51.1 336.8,50.6 338.4,50.1 340.2,49.6 342,49.1 344,48.7 346.1,48.3 348.2,48.1 350,47.8 351.8,47.7 353.5,47.5 355.4,47.4 357.3,47.7 359.3,48.4 361,49 362.9,49.7 364.7,50.9 366.5,52 367.7,53.4 368.5,55.1 369.2,56.7 369.4,58.6 369.7,60.3 369.8,62.2 369.4,64.1 369,66.2 367.5,67.7 366.1,68.8 364.5,69.6 362.9,70.1 361,70.7 359,71.5 357,72.1 355,72.5 353.3,72.6 351.7,72.9 349.9,73.1 347.9,73.2 345.8,73.3 343.9,73.4 341.9,73.9 340,74.6 338.1,75.6 336.8,76.3 335.5,75.1 333.9,74.5 332,74 330,73.5 328.1,72.7 326.4,72.2 324.9,71.5 323.2,70.9 321.3,70.7 319.4,70.7 317.5,70.6 315.5,70.1 313.4,69.8 311.4,69.4 309.4,69.4 307.8,68.8 306.1,68 305.5,66.3" fill="none" stroke="#222" stroke-width="0.8" stroke-linejoin="round"/>
<polygon points="311.5,63.6 312,61.8 312.3,60.1 313.1,58.9 314.3,57.7 315.9,57 317.7,56.3 319.4,55.9 321.2,55.5 322.8,55 324.4,54.6 326,54.1 327.5,53.8 329.1,53.4 330.8,53 332.7,52.4 334.4,51.7 336.3,51.1 338,50.6 339.7,49.9 341.1,49.4 342.6,48.9 344.5,48.7 346.5,48.5 348.3,48.3 349.9,48.2 351.4,48 353.1,48 355.1,48.1 357.1,48.3 359,48.5 360.7,49 362.1,49.8 363.5,50.6 364.6,51.6 365.8,52.6 367,53.9 368.1,55.3 369.1,57 369.2,58.8 369.3,60.6 369.4,62.3 369,63.8 368.6,65.4 367.4,66.8 365.9,68 364.3,69 362.8,69.6 361.2,70.1 359.5,70.7 357.8,71.1 356.1,71.5 354.4,71.9 352.8,72.4 351.1,72.5 349.2,72.6 347.4,72.7 345.5,72.8 344,73.3 342.4,74 340.8,74.9 339.1,75.5 337.6,74.6 335.9,74.1 334.1,73.8 332.6,73.8 331.1,73.9 329.7,73.3 328.1,72.6 326.7,72 324.9,71.5 323.1,71.1 321.2,70.8 319.6,70.4 318,70 316.4,69.7 314.7,69.4 313.2,68.6 312.1,67.3 311.8,65.6" fill="none" stroke="#222" stroke-width="0.8" stroke-linejoin="round"/>
<polygon points="317.6,63.8 318,62.2 318.5,60.6 319,59.1 319.9,57.9 321.3,57.2 322.8,56.6 324.2,55.9 325.6,55 327.1,54.2 328.7,53.7 330.3,53.3 331.8,52.9 333.5,52.5 335.1,52.1 336.6,51.7 337.9,51.3 339.4,51 341,50.6 342.5,50.4 344,50 345.4,49.7 347,49.2 348.7,48.9 350.3,48.7 351.8,48.4 353.1,48.2 354.7,48.2 356.3,48.6 357.9,49 359.5,49.3 360.9,49.7 362.4,50.4 363.9,51.3 365.4,52.3 366.4,53.5 367.1,54.8 367.8,56.1 368.5,57.5 368.7,58.9 368.9,60.5 368.9,62 368.5,63.6 368.1,65.1 367.2,66.3 365.8,67.4 364.3,68.6 362.9,69.6 361.5,70.3 360,70.7 358.7,71 357.1,71.1 355.7,71.3 354.1,71.7 352.6,72.2 350.8,72.5 349.1,72.8 347.2,73.1 345.6,73.5 343.9,73.8 342.4,74.2 340.9,74.6 339.5,74.3 338.2,74.4 336.9,74.5 335.8,74.4 334.6,74.5 333.3,73.7 331.9,73.1 330.4,72.6 328.7,72.1 326.8,71.4 325.2,70.9 323.8,70.5 322.7,70.2 321.3,69.6 319.9,69 318.9,67.8 318.3,66.6 317.9,65.1" fill="none" stroke="#222" stroke-width="0.8" stroke-linejoin="round"/>
<polygon points="323.6,62.8 324.1,61.4 324.8,60.1 325.6,58.9 326.1,57.4 327.1,56.5 328,55.9 329.3,55.4 330.7,54.7 332,53.8 333.3,53.2 334.8,52.8 336.1,52.2 337.4,51.7 338.7,51.1 340.1,50.8 341.6,50.7 343.1,50.5 344.6,50.4 345.9,50.1 347,49.7 348.3,49.2 349.4,48.7 350.8,48.7 352.1,48.8 353.6,48.8 355.2,48.7 356.9,48.6 358.2,48.9 359.4,49.5 360.7,50.1 362,50.4 363.2,51.1 364.3,51.9 365.4,52.9 366,54.1 366.6,55.6 367.3,57.1 368,58.6 368.3,60 368.3,61.3 368.3,62.8 367.8,64.1 367.4,65.3 366.6,66.2 365.4,66.9 364.1,67.7 363,68.4 361.7,68.8 360.6,69.2 359.4,69.7 358,70.1 356.4,70.4 354.9,70.8 353.4,71.3 351.9,72 350.6,72.5 349.4,72.7 348.4,72.7 347,72.6 345.3,72.8 343.7,73 342.2,73.3 341,73.5 339.5,73.9 338.1,74.3 337.1,75.3 336.3,74.5 335.6,73.9 334.6,73.3 333.3,72.9 331.7,72.4 330.2,71.8 328.7,71.4 327.8,70.6 326.7,69.7 325.8,68.7 325.2,67.5 324.7,66 324.1,64.5" fill="none" stroke="#111" stroke-width="0.9" stroke-linejoin="round"/>
<polygon points="325.1,62.7 325.7,61.5 326.1,60.2 326.4,58.9 326.7,57.7 327.5,57.1 328.6,56.5 329.8,55.6 331,54.6 332.4,53.7 333.8,53.4 335.2,53.3 336.4,52.9 337.7,52.5 338.8,52.1 339.9,51.8 340.9,51.5 342.1,51.1 343.5,50.9 345,50.7 346.1,50.6 347.5,50.3 348.7,50 350.3,49.8 351.7,49.7 353.1,49.6 354.3,49.7 355.7,49.7 356.9,50.2 358.4,50.7 359.7,51 361.1,51.2 362.1,52.1 362.9,53.2 363.7,54.1 364.4,55 365,55.9 365.9,57 366.5,58.3 366.6,59.6 366.6,60.9 366.5,62.3 366,63.7 365.6,65.2 365.2,66.4 364.3,67.3 363.2,68.1 361.9,69 360.6,69.6 359.4,69.8 358.3,69.9 357.1,69.9 355.8,70.1 354.4,70.2 353,70.5 351.9,70.8 350.7,71.2 349.3,71.6 347.7,71.8 346.1,72.2 344.6,72.2 343.2,72.2 342.1,72.3 341.3,72.9 340.3,73.3 339.1,73.8 337.9,74.8 336.6,74.4 335.3,73.8 334,73.2 332.8,72.7 331.5,72.2 330.3,71.7 329.1,70.9 328.1,69.9 327,68.9 326,68.2 325.6,67.1 325.4,65.5 325.3,64.1" fill="none" stroke="#111" stroke-width="0.9" stroke-linejoin="round"/>
<polygon points="324.8,62.7 325.3,61.7 325.8,60.8 326.2,59.8 326.8,58.6 327.8,58 329,57.2 329.9,56.4 330.8,55.7 331.8,55.1 333.1,54.8 334.2,54.4 335.4,54.1 336.7,53.7 338.3,53.1 339.6,52.3 340.6,51.8 341.5,51.6 342.6,51.7 343.8,52 345.3,52.1 346.9,51.9 348.4,51.7 349.8,51.4 351,51.2 352.2,51 353.3,50.7 354.6,50.6 355.7,50.8 357.1,51.3 358.3,51.7 359.5,52.2 360.1,53.1 360.8,54 361.8,54.7 362.8,55.5 363.7,56.6 364.3,57.8 364.8,59.1 365.1,60.4 365.4,61.8 365.5,63 364.9,64.2 364.4,65.1 363.8,66.1 362.9,66.6 361.9,67.3 360.9,67.8 359.7,68.4 358.5,69 357.2,69.6 356.1,70.1 355,70.6 353.8,70.8 352.6,70.9 351.2,71 349.8,71.1 348.3,71.3 347,71.2 345.7,71.2 344.5,71.2 343.5,71.5 342.4,71.6 341.3,72.1 340,72.2 338.9,72.6 337.7,73 336.6,72.5 335.4,72.1 334.1,72 332.9,71.6 331.7,71.1 330.6,70.6 329.4,70.3 328.5,69.7 327.5,68.9 326.5,67.9 325.8,66.7 325.4,65.4 325.2,63.9" fill="none" stroke="#111" stroke-width="0.9" stroke-linejoin="round"/>
<polygon points="325.5,62.9 325.8,62.1 326.1,61 326.3,59.9 326.6,58.8 327.5,58.3 328.5,57.8 329.5,57.2 330.6,56.4 331.9,55.8 333.2,55.3 334.6,54.7 335.7,54.2 336.9,54 337.8,54.1 338.8,54 339.9,53.8 341.1,53.6 342.1,53.4 343.2,53.1 344.2,52.6 345.4,52.2 346.7,52 348.3,52 349.8,52 351.3,52 352.5,52 353.9,52 355.2,52.2 356.2,52.5 357,52.8 357.7,53.1 358.6,53.7 359.7,54.5 360.8,55.2 361.6,55.9 362,56.6 362.6,57.4 363.1,58.6 363.6,59.8 363.7,61.3 363.6,62.4 362.9,63.7 362.5,64.8 361.9,66 361.1,66.6 360.1,67 359,67.6 357.9,67.9 356.6,68.3 355.5,68.6 354.4,68.9 353.4,69.3 352.3,69.6 351.3,69.9 350.3,70.2 349.2,70.5 347.8,70.7 346.6,70.7 345.3,70.6 343.9,70.6 342.5,70.5 341.3,70.7 340.3,71 339.3,71.6 338.3,72.2 337.5,73 336.5,72.3 335.5,71.5 334.4,70.9 333.4,70.4 332.4,69.9 331.4,69.7 330.2,69.3 329.1,68.8 328,68.1 327.2,67.3 326.7,66.3 326.3,65.1 325.8,63.9" fill="none" stroke="#111" stroke-width="0.9" stroke-linejoin="round"/>
<polygon points="325.4,63.4 326,62.4 326.6,61.3 327.1,60.3 327.5,59.2 328.3,58.5 329.2,57.9 330.1,57.2 331.3,56.7 332.6,56.1 334,55.9 335.3,55.5 336.2,55.1 337.1,54.5 337.7,54.3 338.6,54.1 339.7,54.1 341.1,53.9 342.2,53.5 343.3,53.2 344.2,53 345.1,53 346.1,53 347.2,53.1 348.2,53.3 349.3,53.4 350.6,53.2 352,53 353.3,53 354.6,53.1 355.7,53.3 356.7,53.7 357.6,54.4 358.6,55 359.7,55.6 360.6,56.5 361,57.5 361.3,58.3 361.4,59.1 361.5,60.1 361.6,61.2 361.7,62.4 361.6,63.6 361.3,64.8 360.7,65.6 359.6,66 358.6,66.6 357.4,67.3 356.3,67.9 355.3,68.2 354.3,68.6 353.3,68.7 352.3,68.9 351.2,68.7 350.3,68.8 349.2,69 348.5,69.5 347.4,69.9 346.2,70 344.7,70.2 343.4,70.3 342.4,70.6 341.3,70.7 340.2,70.8 338.9,70.7 337.7,70.9 336.7,71.6 336,71.3 335.4,71 334.6,70.7 333.4,70.6 332.2,70.5 331.1,70.2 330.3,69.7 329.5,68.9 328.7,68.1 327.7,67.3 326.9,66.4 326.3,65.4 325.7,64.4" fill="none" stroke="#111" stroke-width="0.9" stroke-linejoin="round"/>
<polygon points="326.1,62.9 326.5,62 327,61.3 327.3,60.5 327.7,59.8 328.4,59.1 329.5,58.5 330.6,57.7 331.6,57.1 332.4,56.7 333.4,56.6 334.7,56.5 336.1,56.4 337.2,56.1 338.1,55.8 339,55.5 340.1,55.2 341.1,54.8 342.2,54.4 343,54.1 343.9,54 344.7,54.2 345.8,54 346.9,54 348.2,53.8 349.2,53.8 350.1,53.6 350.9,53.6 352.1,53.7 353.3,53.8 354.4,53.9 355.3,54.1 355.9,54.7 356.7,55.3 357.5,56.1 358.5,56.9 359.2,57.8 360,58.4 360.4,59.1 360.5,60.1 360.6,61.3 360.4,62.5 359.9,63.4 359.5,64.4 359.2,65.2 358.6,66.1 357.9,66.8 357,67.5 355.9,67.7 354.6,67.8 353.3,67.9 352.4,68.2 351.6,68.4 350.8,68.5 349.6,68.6 348.4,68.8 347.1,69.3 346.1,69.7 345.2,69.8 344.5,69.8 343.6,69.9 342.6,69.9 341.2,70.1 340.1,70.2 338.8,70.3 337.9,70.2 337,70.4 336.2,70 335.4,69.9 334.5,69.8 333.4,69.5 332.5,69 331.5,68.5 330.5,68.2 329.6,67.7 329,67.1 328.3,66.6 327.7,65.9 327,65 326.5,63.8" fill="none" stroke="#111" stroke-width="0.9" stroke-linejoin="round"/>
<polygon points="326.5,63.2 326.8,62.1 327.3,61.2 327.9,60.4 328.6,59.8 329.4,59.4 330.3,58.9 331.2,58.3 332,57.8 333,57.5 334,57.3 335,56.9 335.9,56.4 336.6,56.2 337.3,56 337.9,55.8 338.9,55.6 339.9,55.4 341,55.2 342,55.1 343.1,54.9 344.1,54.6 345.4,54.2 346.5,54.1 347.6,54.1 348.6,54.2 349.3,54.4 350.2,54.6 350.9,54.7 351.9,55 352.7,55.1 353.7,55.5 354.6,56 355.6,56.7 356.7,57.1 357.3,57.8 357.5,58.6 357.7,59.4 358,60.3 358.4,61 358.7,61.7 358.9,62.5 358.6,63.4 358.2,64.7 357.5,65.5 356.7,65.9 356,66.1 355.2,66.7 354.4,67.3 353.5,67.8 352.7,68 351.8,67.9 350.8,68 349.6,67.9 348.2,68.1 347.1,68.3 345.9,68.5 345,68.7 344,69 343,69.2 342.2,69.3 341.4,69.2 340.6,69.4 339.6,69.6 338.6,69.7 337.7,69.7 337,69.9 336.3,69.7 335.5,69.5 334.7,69.4 333.6,69.2 332.7,68.9 331.7,68.4 330.8,68 329.8,67.6 329,67 328.4,66.4 328.1,65.7 327.7,65 327.1,64.1" fill="none" stroke="#111" stroke-width="0.9" stroke-linejoin="round"/>
<polygon points="327.4,62.9 327.9,62.4 328.6,61.8 329.1,60.9 329.5,59.9 329.9,59.1 330.3,58.7 331,58.3 332,57.8 333,57.5 334,57.2 334.6,57.1 335.3,57 336.1,56.9 337.2,56.7 338.1,56.6 338.9,56.7 339.6,56.7 340.4,56.7 341.3,56.5 342.4,56.4 343.5,56.4 344.4,56.5 345.1,56.3 345.8,56 346.6,55.7 347.4,55.8 348.4,56.1 349.7,56.4 351,56.4 352.1,56.4 353,56.3 353.5,56.6 354.1,56.9 354.9,57.2 355.4,57.6 355.8,58.6 356,59.5 356.5,60.4 356.9,61 357.4,61.7 357.3,62.5 356.9,63.7 356.4,64.9 356.1,65.7 355.3,66.1 354.5,66.2 353.6,66.6 353,66.9 352.2,67.1 351.4,67.2 350.4,67.3 349.6,67.4 348.8,67.5 347.8,67.8 346.8,68.1 345.9,68.3 344.9,68.4 344,68.4 342.9,68.6 341.9,68.7 340.9,68.8 340.1,68.7 339.3,68.8 338.6,68.7 337.6,68.9 336.8,69.2 335.9,69.1 335.1,68.8 334,68.5 333.2,68 332.5,67.5 331.9,67.2 331.1,67 330.3,66.9 329.6,66.5 329.2,66 328.8,65.3 328.5,64.4 327.8,63.6" fill="none" stroke="#111" stroke-width="0.9" stroke-linejoin="round"/>
<polygon points="327.4,63.5 327.7,62.8 328.2,62.1 328.7,61.4 329.2,60.5 329.8,59.9 330.4,59.4 331.2,59.3 332,59.2 332.8,59.2 333.5,58.9 334.3,58.5 335.1,58 336.1,57.8 337,57.7 337.8,57.6 338.7,57.5 339.8,57.3 340.8,57.1 341.6,56.8 342.1,56.6 342.9,56.6 343.9,56.7 344.9,57 345.7,57.1 346.3,57 347.2,56.8 348.1,56.7 349,56.8 349.6,56.9 350.3,57 350.8,57.3 351.4,57.5 352.1,57.8 352.9,57.9 353.6,58.4 354.3,59.2 354.8,59.9 355.3,60.4 355.9,61 356.2,61.9 356.2,62.9 355.7,63.8 355.2,64.6 354.8,65.3 354.2,65.5 353.6,65.7 352.9,65.8 351.9,65.9 350.9,66 349.9,66.2 348.9,66.5 348,66.7 347.2,66.7 346.6,66.8 345.8,67.1 344.9,67.4 343.7,67.6 342.7,67.6 341.8,67.7 341,67.8 340.3,67.9 339.6,68.1 339,68.2 338.5,68.4 337.7,68.4 337,68.6 336.3,68.2 335.6,67.8 334.7,67.4 333.8,67.2 333,66.9 332.1,66.8 331.1,66.6 330.2,66.6 329.6,66.1 329.2,65.8 328.7,65.1 328.4,64.6 327.9,64.1" fill="none" stroke="#111" stroke-width="0.9" stroke-linejoin="round"/>
<polygon points="328,63.4 328.4,62.5 328.9,61.7 329.4,61 329.9,60.5 330.5,60.1 331.1,60 331.8,59.7 332.6,59.4 333.4,59 334.2,59 335,59.1 335.7,59.3 336.5,59.2 337.3,59.1 338.1,58.9 338.8,58.8 339.7,58.6 340.3,58.5 340.9,58.4 341.5,58.3 342.3,58 343.2,57.7 343.9,57.6 344.8,57.7 345.5,57.8 346.3,57.8 346.9,57.9 347.5,58.2 348.2,58.4 349.1,58.6 350.1,58.6 350.9,58.8 351.3,58.9 351.6,59.1 352,59.4 352.5,59.9 353.4,60.3 354.1,60.7 354.6,61.1 354.4,61.8 353.8,62.6 353.4,63.6 353.1,64.2 352.9,64.7 352.1,64.8 351.4,65.1 350.9,65.3 350.3,65.7 349.6,66 348.8,66.5 348,66.7 347.3,66.9 346.7,66.9 346,66.8 345.1,66.9 344.2,67 343.2,67.3 342.6,67.3 342.1,67.2 341.6,66.9 340.9,66.7 340.1,66.8 339.3,66.9 338.6,67 337.9,67.2 337.3,67.6 336.6,67.7 335.8,67.5 335,67.3 334.2,67 333.5,66.8 332.8,66.6 332,66.3 331.4,66.1 330.7,65.5 330.1,65.1 329.2,64.7 328.7,64.5 328.2,64.1" fill="none" stroke="#111" stroke-width="0.9" stroke-linejoin="round"/>
<polygon points="328.1,62.8 328.5,62.4 329.1,62.1 329.7,61.6 330.4,61.1 331,60.6 331.7,60.4 332.1,59.9 332.5,59.7 333.2,59.4 334,59.5 334.9,59.4 335.6,59.5 336.2,59.3 336.7,59.4 337.4,59.2 338,59 338.6,58.9 339.3,58.9 340.1,59 340.9,59 341.5,58.9 342,58.7 342.8,58.6 343.9,58.8 344.8,59 345.6,59.1 346.1,58.9 346.5,58.6 347.1,58.5 347.9,58.6 348.8,58.6 349.6,58.7 350,58.9 350.4,59.2 350.6,59.5 351,59.9 351.3,60.4 351.8,60.9 352.1,61.4 352.3,61.9 352,62.7 351.9,63.4 351.8,64.2 351.6,64.7 351,65 350.2,65.1 349.5,65.3 348.8,65.3 348.1,65.4 347.5,65.4 347,65.7 346.5,65.8 345.9,65.9 345.2,65.9 344.6,66 344,66.2 343.5,66.4 342.9,66.5 342.2,66.2 341.3,66.1 340.3,66.2 339.4,66.6 338.8,66.8 338.3,66.9 337.8,66.7 337.2,66.7 336.4,66.3 335.4,66.1 334.4,66 333.7,66.1 333.3,66 333.1,65.8 332.5,65.5 331.6,65.3 330.8,64.9 330.2,64.6 329.6,64 329.1,63.4 328.5,62.9" fill="none" stroke="#111" stroke-width="0.9" stroke-linejoin="round"/>
<polygon points="328.7,62.9 329.3,62.1 330,61.5 330.6,61.1 331.1,60.8 331.4,60.6 332,60.5 332.3,60.5 332.8,60.6 333.4,60.6 334.2,60.5 334.9,60.2 335.7,59.9 336.2,59.6 336.6,59.7 336.9,59.7 337.4,59.7 338,59.7 338.8,59.7 339.5,59.8 340,59.8 340.5,59.8 341.2,59.8 342.1,59.7 342.8,59.7 343.4,59.6 343.7,59.5 343.9,59.4 344.4,59.6 345.2,59.7 346.1,59.9 346.8,59.9 347.3,60 347.8,60.1 348.2,60.4 348.6,60.6 349,60.9 349.7,61 350.3,61.3 351,61.8 351,62.5 350.7,63.2 350.2,63.8 350,64.2 349.8,64.6 349.4,64.7 348.7,65.1 348.1,65.3 347.4,65.2 346.9,65.2 346.4,65.1 345.9,65.3 345.4,65.4 344.7,65.7 344,65.7 343.2,65.6 342.7,65.4 342.1,65.3 341.6,65.3 340.8,65.2 340.3,65.2 339.8,65.2 339.3,65.4 338.7,65.5 338,65.3 337.4,65.3 336.8,65.4 336.3,65.5 335.8,65.2 335.2,65 334.6,64.9 333.8,64.9 333.1,65.1 332.5,65.2 332.3,65.2 331.9,64.8 331.3,64.4 330.6,64.1 329.9,63.8 329.3,63.4" fill="none" stroke="#111" stroke-width="0.9" stroke-linejoin="round"/>
<path d="M330 70 C338 72 348 71.5 360 69 M331 69 C340 70.8 350 70.3 359 68 M333 68 C342 69.5 351 69 358 66.8" stroke="#111" stroke-width="1.1" fill="none"/>
<path d="M289 112 C292 113 292.5 120 290 124 C289 126 289 130 289 133 M290 134 C293 131 298 133 303 133 L305 135" stroke="#444" stroke-width="0.9" fill="none"/>
<rect x="288" y="47" width="22.8" height="37" fill="none" stroke="#222" stroke-width="1.1"/>
<rect x="310.8" y="47" width="61" height="37" fill="none" stroke="#222" stroke-width="1.1"/>
<rect x="288" y="104.5" width="38.3" height="31.1" fill="none" stroke="#222" stroke-width="1.1"/>
<rect x="288" y="17.5" width="116.3" height="118.1" fill="none" stroke="#222" stroke-width="1.1"/>
<path d="M288 135.6v3M296.8 135.6v2M301.9 135.6v2M305.5 135.6v2M308.3 135.6v2M310.6 135.6v2M312.6 135.6v2M314.3 135.6v2M315.7 135.6v2M317.1 135.6v3M325.8 135.6v2M330.9 135.6v2M334.6 135.6v2M337.4 135.6v2M339.7 135.6v2M341.6 135.6v2M343.3 135.6v2M344.8 135.6v2M346.1 135.6v3M354.9 135.6v2M360 135.6v2M363.7 135.6v2M366.5 135.6v2M368.8 135.6v2M370.7 135.6v2M372.4 135.6v2M373.9 135.6v2M375.2 135.6v3M384 135.6v2M389.1 135.6v2M392.7 135.6v2M395.5 135.6v2M397.8 135.6v2M399.8 135.6v2M401.5 135.6v2M403 135.6v2M404.3 135.6v3" stroke="#333" stroke-width="0.8" fill="none"/>
<path d="M288 135.6h-3M288 126.7h-2M288 121.5h-2M288 117.8h-2M288 115h-2M288 112.6h-2M288 110.6h-2M288 108.9h-2M288 107.4h-2M288 106.1h-3M288 97.2h-2M288 92h-2M288 88.3h-2M288 85.4h-2M288 83.1h-2M288 81.1h-2M288 79.4h-2M288 77.9h-2M288 76.5h-3M288 67.7h-2M288 62.5h-2M288 58.8h-2M288 55.9h-2M288 53.6h-2M288 51.6h-2M288 49.9h-2M288 48.4h-2M288 47h-3M288 38.1h-2M288 32.9h-2M288 29.2h-2M288 26.4h-2M288 24.1h-2M288 22.1h-2M288 20.4h-2M288 18.9h-2M288 17.5h-3" stroke="#333" stroke-width="0.8" fill="none"/>
<text x="284.2" y="148" style="font-family:'Liberation Sans',sans-serif;font-size:7.0px" fill="#1a1a1a" stroke="#1a1a1a" stroke-width="0.2" textLength="6.6" lengthAdjust="spacingAndGlyphs">10</text>
<text x="291.2" y="143.4" style="font-family:'Liberation Sans',sans-serif;font-size:7.0px" fill="#1a1a1a" stroke="#1a1a1a" stroke-width="0.2">0</text>
<text x="313.3" y="148" style="font-family:'Liberation Sans',sans-serif;font-size:7.0px" fill="#1a1a1a" stroke="#1a1a1a" stroke-width="0.2" textLength="6.6" lengthAdjust="spacingAndGlyphs">10</text>
<text x="320.3" y="143.4" style="font-family:'Liberation Sans',sans-serif;font-size:7.0px" fill="#1a1a1a" stroke="#1a1a1a" stroke-width="0.2">1</text>
<text x="342.3" y="148" style="font-family:'Liberation Sans',sans-serif;font-size:7.0px" fill="#1a1a1a" stroke="#1a1a1a" stroke-width="0.2" textLength="6.6" lengthAdjust="spacingAndGlyphs">10</text>
<text x="349.3" y="143.4" style="font-family:'Liberation Sans',sans-serif;font-size:7.0px" fill="#1a1a1a" stroke="#1a1a1a" stroke-width="0.2">2</text>
<text x="371.4" y="148" style="font-family:'Liberation Sans',sans-serif;font-size:7.0px" fill="#1a1a1a" stroke="#1a1a1a" stroke-width="0.2" textLength="6.6" lengthAdjust="spacingAndGlyphs">10</text>
<text x="378.4" y="143.4" style="font-family:'Liberation Sans',sans-serif;font-size:7.0px" fill="#1a1a1a" stroke="#1a1a1a" stroke-width="0.2">3</text>
<text x="400.5" y="148" style="font-family:'Liberation Sans',sans-serif;font-size:7.0px" fill="#1a1a1a" stroke="#1a1a1a" stroke-width="0.2" textLength="6.6" lengthAdjust="spacingAndGlyphs">10</text>
<text x="407.5" y="143.4" style="font-family:'Liberation Sans',sans-serif;font-size:7.0px" fill="#1a1a1a" stroke="#1a1a1a" stroke-width="0.2">4</text>
<g transform="translate(282.2,141.8) rotate(-90)"><text x="0" y="0" style="font-family:'Liberation Sans',sans-serif;font-size:7.0px" fill="#1a1a1a" stroke="#1a1a1a" stroke-width="0.2" textLength="6.6" lengthAdjust="spacingAndGlyphs">10</text><text x="7" y="-4.2" style="font-family:'Liberation Sans',sans-serif;font-size:7.0px" fill="#1a1a1a" stroke="#1a1a1a" stroke-width="0.2">0</text></g>
<g transform="translate(282.2,112.3) rotate(-90)"><text x="0" y="0" style="font-family:'Liberation Sans',sans-serif;font-size:7.0px" fill="#1a1a1a" stroke="#1a1a1a" stroke-width="0.2" textLength="6.6" lengthAdjust="spacingAndGlyphs">10</text><text x="7" y="-4.2" style="font-family:'Liberation Sans',sans-serif;font-size:7.0px" fill="#1a1a1a" stroke="#1a1a1a" stroke-width="0.2">1</text></g>
<g transform="translate(282.2,82.8) rotate(-90)"><text x="0" y="0" style="font-family:'Liberation Sans',sans-serif;font-size:7.0px" fill="#1a1a1a" stroke="#1a1a1a" stroke-width="0.2" textLength="6.6" lengthAdjust="spacingAndGlyphs">10</text><text x="7" y="-4.2" style="font-family:'Liberation Sans',sans-serif;font-size:7.0px" fill="#1a1a1a" stroke="#1a1a1a" stroke-width="0.2">2</text></g>
<g transform="translate(282.2,53.2) rotate(-90)"><text x="0" y="0" style="font-family:'Liberation Sans',sans-serif;font-size:7.0px" fill="#1a1a1a" stroke="#1a1a1a" stroke-width="0.2" textLength="6.6" lengthAdjust="spacingAndGlyphs">10</text><text x="7" y="-4.2" style="font-family:'Liberation Sans',sans-serif;font-size:7.0px" fill="#1a1a1a" stroke="#1a1a1a" stroke-width="0.2">3</text></g>
<g transform="translate(282.2,23.7) rotate(-90)"><text x="0" y="0" style="font-family:'Liberation Sans',sans-serif;font-size:7.0px" fill="#1a1a1a" stroke="#1a1a1a" stroke-width="0.2" textLength="6.6" lengthAdjust="spacingAndGlyphs">10</text><text x="7" y="-4.2" style="font-family:'Liberation Sans',sans-serif;font-size:7.0px" fill="#1a1a1a" stroke="#1a1a1a" stroke-width="0.2">4</text></g>
<text x="0.4" y="198.8" style="font-family:'Liberation Sans',sans-serif;font-weight:bold;font-size:24px" fill="#000" >B</text>
<g transform="translate(9.3,261.5) rotate(-90)"><text x="0" y="0" style="font-family:'Liberation Serif',serif;font-weight:bold;font-size:10.3px" fill="#111" stroke="#111" stroke-width="0.25" textLength="54.6" lengthAdjust="spacingAndGlyphs">cell number</text></g>
<g transform="translate(11.5,384.7) rotate(-90)"><text x="0" y="0" style="font-family:'Liberation Serif',serif;font-weight:bold;font-size:10.3px" fill="#111" stroke="#111" stroke-width="0.25" textLength="54.6" lengthAdjust="spacingAndGlyphs">cell number</text></g>
<path d="M7.5 272 V316.3 H29" stroke="#333" stroke-width="1.2" fill="none"/>
<polygon points="7.4,265.5 3.8,273.5 11,273.5" fill="#111"/>
<polygon points="37.3,316.3 28.4,313.3 28.4,319.3" fill="#111"/>
<path d="M9.8 396 V440.4 H31" stroke="#333" stroke-width="1.2" fill="none"/>
<polygon points="9.9,389 6.3,397 13.5,397" fill="#111"/>
<polygon points="38.6,440.4 30.6,437.4 30.6,443.4" fill="#111"/>
<rect x="23.4" y="213" width="1.6" height="84" fill="#303030"/>
<polygon points="24,297 24,297 24,295.4 24,295.4 24,295.5 24,295.5 24,294.4 24,294.4 24,292.6 24,292.6 24,291.9 24,291.9 24,290.9 24,290.9 24,290.2 24,290.2 24,289.4 24,289.4 24,287.3 24,287.3 24,286.1 24,286.1 24,286.4 24,286.4 24,284.8 24,284.8 24,284.3 24,284.3 24,282.1 24,282.1 24,281.8 24,281.8 24,281.2 24,281.2 24,279.4 24,279.4 24,279.5 24,279.5 24,278.5 24,278.5 24,276.1 24,276.1 24,275 24,275 24,274.9 24,274.9 24,274.5 24,274.5 24,272.6 24,272.6 24,271.3 24,271.3 24,270.6 24,270.6 24,269 24,269 24,268.3 24,268.3 24,267.6 24,267.6 24,266.7 24,266.7 24,265.3 24,265.3 24,264.3 24,264.3 24,263.2 24,263.2 24,262.6 24,262.6 24,261.3 24,261.3 24,259.9 24,259.9 24,260.2 24,260.2 24,258.7 24,258.7 24,257.9 24,257.9 24,256.1 24,256.1 24,256.4 24,256.4 24,255.2 24,255.2 24,253 24,253 24,252.3 24,252.3 24,251.9 24,251.9 24,250.9 24,250.9 24,250.2 24,250.2 24,248.4 24,248.4 24,248.1 24,248.1 24,246.8 24,246.8 24,245.2 24,245.2 24,244.6 25,244.6 25,244.6 26,244.6 26,244.1 27,244.1 27,244.5 28,244.5 28,245.6 29,245.6 29,244.3 30,244.3 30,244.1 31,244.1 31,244 32,244 32,242.4 33,242.4 33,241.5 34,241.5 34,241.6 35,241.6 35,242.8 35.7,242.8 35.7,243.8 36.3,243.8 36.3,244.3 37,244.3 37,245.4 38,245.4 38,246.5 39,246.5 39,247.9 39.4,247.9 39.4,248.6 39.8,248.6 39.8,249.5 40.2,249.5 40.2,250.8 40.6,250.8 40.6,251.1 41,251.1 41,252.3 41.2,252.3 41.2,254.3 41.4,254.3 41.4,255.8 41.7,255.8 41.7,256.1 41.9,256.1 41.9,256.8 42.1,256.8 42.1,257.5 42.3,257.5 42.3,259 42.6,259 42.6,260.8 42.8,260.8 42.8,261.4 43,261.4 43,262.1 43.2,262.1 43.2,263.6 43.4,263.6 43.4,263.6 43.6,263.6 43.6,265 43.8,265 43.8,266.7 44,266.7 44,267.1 44.2,267.1 44.2,267.9 44.4,267.9 44.4,268.6 44.6,268.6 44.6,270.1 44.8,270.1 44.8,271.7 45,271.7 45,271.2 45.2,271.2 45.2,273.5 45.4,273.5 45.4,274.5 45.5,274.5 45.5,275.6 45.7,275.6 45.7,276.4 45.9,276.4 45.9,277.5 46.1,277.5 46.1,278 46.3,278 46.3,279.1 46.5,279.1 46.5,279.9 46.6,279.9 46.6,280.3 46.8,280.3 46.8,282.6 47,282.6 47,283.1 47.2,283.1 47.2,283.5 47.4,283.5 47.4,285 47.6,285 47.6,286 47.8,286 47.8,286.8 48,286.8 48,287.8 48.2,287.8 48.2,289.1 48.4,289.1 48.4,290.2 48.6,290.2 48.6,291.2 48.8,291.2 48.8,291.9 49,291.9 49,292.2 49.5,292.2 49.5,293.8 50,293.8 50,295 51,295 51,295.5 52,295.5 52,295.8 53,295.8 53,295.6 54,295.6 54,295.5 55,295.5 55,295.7 56,295.7 56,295 57,295 57,296.1 58,296.1 58,296.1 58,296.1 58,297" fill="#303030" stroke="#303030" stroke-width="0.5"/>
<polygon points="26.3,261 26.4,261 26.4,260.2 26.6,260.2 26.6,259.2 26.7,259.2 26.7,257.8 26.8,257.8 26.8,256.8 27,256.8 27,256.1 27.1,256.1 27.1,255.1 27.2,255.1 27.2,254.1 27.4,254.1 27.4,252.9 27.5,252.9 27.5,252 28.2,252 28.2,251.2 28.8,251.2 28.8,250.4 29.5,250.4 29.5,249.4 30.1,249.4 30.1,250.3 30.6,250.3 30.6,251.1 31.2,251.1 31.2,252.1 31.1,252.1 31.1,253.2 31,253.2 31,254.2 30.9,254.2 30.9,255 30.7,255 30.7,256 30.6,256 30.6,256.9 30.5,256.9 30.5,257.8 30.1,257.8 30.1,258.8 29.8,258.8 29.8,260 29.4,260 29.4,260.9 29,260.9 29,262 28.2,262 28.2,263.2 27.5,263.2 27.5,264" fill="#fff" stroke="#fff" stroke-width="0.5"/>
<polygon points="26.5,278 26.8,278 26.8,277.1 27.2,277.1 27.2,276.1 27.5,276.1 27.5,274.9 28,274.9 28,275.9 28.5,275.9 28.5,277.1 28.2,277.1 28.2,278 27.8,278 27.8,279 27.5,279 27.5,280" fill="#ddd" stroke="#ddd" stroke-width="0.5"/>
<polyline points="25,262 25.3,262 25.3,260.7 25.7,260.7 25.7,260.1 26,260.1 26,258.8 26.3,258.8 26.3,258.1 26.7,258.1 26.7,257.2 27,257.2 27,255.5 27.3,255.5 27.3,254.4 27.7,254.4 27.7,254.4 28,254.4 28,252.7 28.3,252.7 28.3,251.7 28.7,251.7 28.7,251.6 29,251.6 29,250 30,250 30,249.4 31,249.4 31,248 32,248 32,247.7 33,247.7 33,246.6 34,246.6 34,248.2 35,248.2 35,249.4 35.3,249.4 35.3,250 35.7,250 35.7,251.3 36,251.3 36,252.2 36.3,252.2 36.3,252.5 36.7,252.5 36.7,254.3 37,254.3 37,255.1 37.3,255.1 37.3,255.8 37.6,255.8 37.6,256.4 37.9,256.4 37.9,258.4 38.1,258.4 38.1,259 38.4,259 38.4,260.3 38.7,260.3 38.7,261.5 39,261.5 39,262.3 39.2,262.3 39.2,263.5 39.5,263.5 39.5,263.9 39.8,263.9 39.8,265.4 40,265.4 40,265.9 40.2,265.9 40.2,267.5 40.5,267.5 40.5,268.5 40.8,268.5 40.8,268.5 41,268.5 41,269.6 41.2,269.6 41.2,270.7 41.4,270.7 41.4,272.6 41.6,272.6 41.6,272.9 41.8,272.9 41.8,274.2 42,274.2 42,274.8 42.2,274.8 42.2,276 42.4,276 42.4,276.9 42.6,276.9 42.6,277.8 42.8,277.8 42.8,279.1 43,279.1 43,280.1 43.2,280.1 43.2,281.5 43.4,281.5 43.4,282.2 43.6,282.2 43.6,283.5 43.8,283.5 43.8,284.4 44,284.4 44,285.6 44.2,285.6 44.2,286.2 44.4,286.2 44.4,286.6 44.6,286.6 44.6,288.4 44.8,288.4 44.8,289.6 45,289.6 45,290.5 45.3,290.5 45.3,291.1 45.7,291.1 45.7,292.3 46,292.3 46,292.7 46.3,292.7 46.3,294.4 46.7,294.4 46.7,295.1 47,295.1 47,296" fill="none" stroke="#7c7c7c" stroke-width="1.3" stroke-linejoin="round"/>
<polyline points="24,245 24.7,245 24.7,243.8 25.3,243.8 25.3,242.9 26,242.9 26,242.4 27,242.4 27,243.1 28,243.1 28,244 29,244 29,243.9 30,243.9 30,244 31,244 31,242.9 32,242.9 32,241.8 33,241.8 33,240.7 34,240.7 34,240.5 35,240.5 35,241.7 35.7,241.7 35.7,242.4 36.3,242.4 36.3,243.2 37,243.2 37,244.2 38,244.2 38,246 39,246 39,246.9 39.4,246.9 39.4,248 39.8,248 39.8,249.1 40.2,249.1 40.2,249.4 40.6,249.4 40.6,250.7 41,250.7 41,252.2 41.2,252.2 41.2,253.3 41.4,253.3 41.4,254.4 41.7,254.4 41.7,255.5 41.9,255.5 41.9,255.5 42.1,255.5 42.1,257.1 42.3,257.1 42.3,258.2 42.6,258.2 42.6,259 42.8,259 42.8,259.6 43,259.6 43,261 43.2,261 43.2,261.5 43.4,261.5 43.4,263.5 43.6,263.5 43.6,264.4 43.8,264.4 43.8,265.1 44,265.1 44,265.8 44.2,265.8 44.2,267.5 44.4,267.5 44.4,268.1 44.6,268.1 44.6,269.5 44.8,269.5 44.8,270.4 45,270.4 45,271 45.2,271 45.2,271.9 45.4,271.9 45.4,273.1 45.5,273.1 45.5,273.9 45.7,273.9 45.7,274.6 45.9,274.6 45.9,275.8 46.1,275.8 46.1,277.4 46.3,277.4 46.3,277.5 46.5,277.5 46.5,278.5 46.6,278.5 46.6,280.2 46.8,280.2 46.8,280.7 47,280.7 47,282 47.2,282 47.2,283 47.4,283 47.4,283.8 47.6,283.8 47.6,285.6 47.8,285.6 47.8,285.6 48,285.6 48,286.9 48.2,286.9 48.2,287.6 48.4,287.6 48.4,289.2 48.6,289.2 48.6,289.7 48.8,289.7 48.8,290.8 49,290.8 49,292.3 49.5,292.3 49.5,292.7 50,292.7 50,293.8 50.5,293.8 50.5,295.1 51,295.1 51,295 52,295 52,295 53,295 53,295.2 54,295.2 54,295.8 55,295.8 55,295.6 56,295.6 56,295.2 57,295.2 57,295.3 58,295.3 58,295.5" fill="none" stroke="#000" stroke-width="1.0" stroke-linejoin="round"/>
<rect x="151.6" y="249" width="1.5" height="48" fill="#303030"/>
<polygon points="153,297 153,297 153,296.2 153,296.2 153,295.4 153,295.4 153,294.5 153,294.5 153,293.7 153,293.7 153,292.4 153,292.4 153,291.7 153,291.7 153,289.2 153,289.2 153,288.9 153,288.9 153,288.7 153,288.7 153,287.2 153,287.2 153,286.6 153,286.6 153,284.4 153,284.4 153,284 153,284 153,282.6 154,282.6 154,282.4 155,282.4 155,281.8 156,281.8 156,280.2 156.8,280.2 156.8,279.8 157.5,279.8 157.5,279.1 158.2,279.1 158.2,279.4 159,279.4 159,278.4 159.5,278.4 159.5,276.5 160,276.5 160,276.5 160.5,276.5 160.5,274.4 161,274.4 161,274.2 161.5,274.2 161.5,272.4 162,272.4 162,271.2 162.4,271.2 162.4,271.6 162.8,271.6 162.8,269.5 163.1,269.5 163.1,268.5 163.5,268.5 163.5,268.8 163.9,268.8 163.9,267.6 164.2,267.6 164.2,265.7 164.6,265.7 164.6,265.7 165,265.7 165,264.1 165.7,264.1 165.7,263.2 166.3,263.2 166.3,261.4 167,261.4 167,261.6 167.7,261.6 167.7,260.1 168.1,260.1 168.1,261.6 168.6,261.6 168.6,262.6 169,262.6 169,262.7 169.4,262.7 169.4,263.8 169.8,263.8 169.8,264.5 170.2,264.5 170.2,265.4 170.6,265.4 170.6,266.3 171,266.3 171,267.7 171.5,267.7 171.5,269.2 172,269.2 172,269.2 172.5,269.2 172.5,271.3 173,271.3 173,271.7 173.5,271.7 173.5,272.7 174,272.7 174,274.5 174.5,274.5 174.5,275 175,275 175,275.7 176,275.7 176,276.5 177,276.5 177,277.3 178,277.3 178,277 179,277 179,279.1 180,279.1 180,278.2 180.7,278.2 180.7,278.4 181.3,278.4 181.3,277.6 182,277.6 182,275.2 183,275.2 183,277.5 184,277.5 184,277.8 184.3,277.8 184.3,279.1 184.7,279.1 184.7,279.2 185,279.2 185,280.3 185.7,280.3 185.7,281.5 186.3,281.5 186.3,283.7 187,283.7 187,283.5 188,283.5 188,285.4 189,285.4 189,286.7 190,286.7 190,287 191,287 191,286.4 192,286.4 192,286.8 193,286.8 193,287.7 194,287.7 194,288.8 195,288.8 195,288.4 196,288.4 196,290.1 197,290.1 197,290.8 198,290.8 198,291.6 199,291.6 199,291.3 200,291.3 200,293.7 200.7,293.7 200.7,293.3 201.3,293.3 201.3,294.7 202,294.7 202,296.2 202,296.2 202,297" fill="#303030" stroke="#303030" stroke-width="0.5"/>
<polygon points="160,297 160,297 160,296.2 160,296.2 160,295.3 160,295.3 160,294 160,294 160,292.8 160,292.8 160,291.6 160,291.6 160,291.1 160,291.1 160,290 161,290 161,289.7 162,289.7 162,288.9 163,288.9 163,288.7 164,288.7 164,287.8 165,287.8 165,287.7 166,287.7 166,287.2 167,287.2 167,287.3 168,287.3 168,287.7 169,287.7 169,288.1 170,288.1 170,288.1 171,288.1 171,288.7 172,288.7 172,289.2 173,289.2 173,288.6 174,288.6 174,288.9 175,288.9 175,288.6 176,288.6 176,288.6 177,288.6 177,288 178,288 178,287.7 179,287.7 179,288.6 180,288.6 180,288.9 181,288.9 181,289 182,289 182,289 183,289 183,289.4 184,289.4 184,290.1 185,290.1 185,290.2 186,290.2 186,291 187,291 187,291.1 188,291.1 188,291.1 189,291.1 189,291.8 190,291.8 190,291.9 191,291.9 191,292.7 192,292.7 192,293 193,293 193,293 194,293 194,293.4 195,293.4 195,293.8 196,293.8 196,294.2 196,294.2 196,295.4 196,295.4 196,295.6 196,295.6 196,297" fill="#666" stroke="#666" stroke-width="0.5"/>
<polyline points="185,292 185.5,292 185.5,290.7 186,290.7 186,289.4 186.5,289.4 186.5,289 187,289 187,287.2 187.3,287.2 187.3,286.6 187.6,286.6 187.6,285.3 187.9,285.3 187.9,283.9 188.1,283.9 188.1,283.3 188.4,283.3 188.4,281.6 188.7,281.6 188.7,281 189,281 189,279.5 189.2,279.5 189.2,278.5 189.5,278.5 189.5,277.9 189.8,277.9 189.8,277.4 190,277.4 190,275.5 190.2,275.5 190.2,274.7 190.5,274.7 190.5,274.2 190.8,274.2 190.8,273.5 191,273.5 191,272.1 191.5,272.1 191.5,270.9 192,270.9 192,270.6 192.5,270.6 192.5,268.5 193,268.5 193,268.4 193.5,268.4 193.5,266.7 194,266.7 194,265.6 194.5,265.6 194.5,264.5 195,264.5 195,263.8 195.5,263.8 195.5,263.4 196,263.4 196,261.6 197,261.6 197,261.9 198,261.9 198,261.9 199,261.9 199,261.7 200,261.7 200,262.1 200.5,262.1 200.5,262.5 201,262.5 201,263.5 201.5,263.5 201.5,264.6 202,264.6 202,266.2 202.3,266.2 202.3,266.9 202.7,266.9 202.7,267.8 203,267.8 203,269.1 203.3,269.1 203.3,269.9 203.7,269.9 203.7,270.8 204,270.8 204,272.4 204.3,272.4 204.3,273.2 204.7,273.2 204.7,273.7 205,273.7 205,275.1 205.3,275.1 205.3,276 205.7,276 205.7,277.5 206,277.5 206,278.3 206.3,278.3 206.3,278.7 206.7,278.7 206.7,280.6 207,280.6 207,280.5 207.3,280.5 207.3,281.9 207.7,281.9 207.7,283.3 208,283.3 208,283.6 208.4,283.6 208.4,285 208.8,285 208.8,285.4 209.2,285.4 209.2,287.2 209.6,287.2 209.6,288.3 210,288.3 210,289.1 210.5,289.1 210.5,290.5 211,290.5 211,290.8 211.5,290.8 211.5,292.2 212,292.2 212,293.1 212.5,293.1 212.5,294.1 213,294.1 213,294.9 213.5,294.9 213.5,296" fill="none" stroke="#7c7c7c" stroke-width="1.35" stroke-linejoin="round"/>
<polyline points="184,292 184.2,292 184.2,290.7 184.5,290.7 184.5,290.6 184.8,290.6 184.8,288.6 185,288.6 185,288.2 185.2,288.2 185.2,286.5 185.5,286.5 185.5,285.7 185.8,285.7 185.8,285.6 186,285.6 186,283.7 186.2,283.7 186.2,283.2 186.5,283.2 186.5,282 186.7,282 186.7,280.9 186.8,280.9 186.8,280 186.9,280 186.9,278.6 187.1,278.6 187.1,278.4 187.2,278.4 187.2,276.5 187.4,276.5 187.4,275.7 187.6,275.7 187.6,274.4 187.7,274.4 187.7,273.7 187.8,273.7 187.8,272.9 188,272.9 188,272.5 188.1,272.5 188.1,270.9 188.2,270.9 188.2,269.5 188.4,269.5 188.4,268.7 188.5,268.7 188.5,268.6 188.6,268.6 188.6,266.5 188.7,266.5 188.7,266.1 188.8,266.1 188.8,264.9 188.9,264.9 188.9,264.2 189.1,264.2 189.1,262.8 189.2,262.8 189.2,262.2 189.3,262.2 189.3,261 189.4,261 189.4,260.2 189.5,260.2 189.5,259.5 189.6,259.5 189.6,258.1 189.8,258.1 189.8,256.6 189.9,256.6 189.9,255.5 190,255.5 190,255.5 190.1,255.5 190.1,254 190.3,254 190.3,252.6 190.4,252.6 190.4,252.5 190.5,252.5 190.5,251.1 190.7,251.1 190.7,250.3 190.8,250.3 190.8,249.5 190.9,249.5 190.9,247.7 191.1,247.7 191.1,246.8 191.2,246.8 191.2,246.5 191.3,246.5 191.3,244.6 191.5,244.6 191.5,244.3 191.6,244.3 191.6,242.5 191.7,242.5 191.7,242.2 191.9,242.2 191.9,241.2 192,241.2 192,240.5 192.2,240.5 192.2,239.4 192.4,239.4 192.4,238 192.6,238 192.6,236.6 192.7,236.6 192.7,235.6 192.9,235.6 192.9,235 193.1,235 193.1,234 193.3,234 193.3,232.5 193.6,232.5 193.6,234.5 194,234.5 194,235 194.3,235 194.3,236.2 194.7,236.2 194.7,236.7 195,236.7 195,237.7 195.2,237.7 195.2,238.4 195.4,238.4 195.4,239.8 195.5,239.8 195.5,240.7 195.7,240.7 195.7,241.9 195.9,241.9 195.9,242.9 196.1,242.9 196.1,244.4 196.3,244.4 196.3,245.5 196.5,245.5 196.5,245.6 196.6,245.6 196.6,246.9 196.8,246.9 196.8,247.6 197,247.6 197,249.2 197.2,249.2 197.2,250.5 197.4,250.5 197.4,250.6 197.6,250.6 197.6,252.3 197.8,252.3 197.8,252.7 198,252.7 198,253.3 198.2,253.3 198.2,255.2 198.4,255.2 198.4,255.7 198.6,255.7 198.6,256.4 198.8,256.4 198.8,257.7 199,257.7 199,258.5 199.5,258.5 199.5,259.7 200,259.7 200,260.8 200.5,260.8 200.5,261.9 201,261.9 201,263.1 201.4,263.1 201.4,263.7 201.8,263.7 201.8,264.5 202.2,264.5 202.2,265.5 202.6,265.5 202.6,266.5 203,266.5 203,268 203.3,268 203.3,268.8 203.7,268.8 203.7,270.4 204,270.4 204,271 204.3,271 204.3,272.2 204.7,272.2 204.7,273.6 205,273.6 205,273.5 205.4,273.5 205.4,274.4 205.8,274.4 205.8,275.6 206.2,275.6 206.2,276.9 206.5,276.9 206.5,278.1 206.9,278.1 206.9,279.3 207.3,279.3 207.3,279.8 207.7,279.8 207.7,281.6 208.2,281.6 208.2,281.4 208.6,281.4 208.6,283.4 209.1,283.4 209.1,283.7 209.5,283.7 209.5,285.5 210,285.5 210,285.4 210.6,285.4 210.6,287.4 211.2,287.4 211.2,287.9 211.8,287.9 211.8,289 212.4,289 212.4,289.3 213,289.3 213,289.6 213.6,289.6 213.6,291.4 214.2,291.4 214.2,291.6 214.8,291.6 214.8,292.1 215.5,292.1 215.5,293.6 216.1,293.6 216.1,294.3 216.7,294.3 216.7,295.1 217.3,295.1 217.3,295.6 218.4,295.6 218.4,295.6 219.5,295.6 219.5,296.2 220.6,296.2 220.6,296.2 221.7,296.2 221.7,295.8 222.8,295.8 222.8,296.3 223.9,296.3 223.9,296.7 225,296.7 225,296.5" fill="none" stroke="#000" stroke-width="1.2" stroke-linejoin="round"/>
<rect x="279.6" y="255" width="1.5" height="42" fill="#303030"/>
<polygon points="281,297 281.1,297 281.1,295.9 281.2,295.9 281.2,294.8 281.2,294.8 281.2,293.4 281.3,293.4 281.3,293.5 281.4,293.5 281.4,291.1 281.5,291.1 281.5,290.9 281.6,290.9 281.6,290.5 281.7,290.5 281.7,288.2 281.8,288.2 281.8,287.9 281.8,287.9 281.8,287 281.9,287 281.9,285.1 282,285.1 282,284.6 282.6,284.6 282.6,284.2 283.2,284.2 283.2,282.8 283.8,282.8 283.8,282.3 284.4,282.3 284.4,280.4 285,280.4 285,279.6 285.6,279.6 285.6,278.4 286.2,278.4 286.2,278.1 286.8,278.1 286.8,277.8 287.4,277.8 287.4,276.3 288,276.3 288,275.6 288.6,275.6 288.6,274 289.2,274 289.2,273.5 289.8,273.5 289.8,271.5 290.4,271.5 290.4,270.7 291,270.7 291,270.3 291.5,270.3 291.5,269.3 292,269.3 292,267.7 292.4,267.7 292.4,266.1 292.9,266.1 292.9,265.3 293.4,265.3 293.4,264.1 293.8,264.1 293.8,263.1 294.1,263.1 294.1,262.9 294.4,262.9 294.4,260.8 294.8,260.8 294.8,260.8 295.1,260.8 295.1,259.7 295.5,259.7 295.5,257.3 295.9,257.3 295.9,256.8 296.3,256.8 296.3,256 296.6,256 296.6,254.2 297,254.2 297,253.9 297.4,253.9 297.4,253.7 297.8,253.7 297.8,251.4 298,251.4 298,253.2 298.1,253.2 298.1,253.4 298.3,253.4 298.3,255.1 298.5,255.1 298.5,256.6 298.6,256.6 298.6,256.5 298.8,256.5 298.8,257.2 299,257.2 299,258.3 299.2,258.3 299.2,260.1 299.3,260.1 299.3,260.2 299.5,260.2 299.5,261.3 299.8,261.3 299.8,263 300.1,263 300.1,264.8 300.4,264.8 300.4,265 300.8,265 300.8,266 301.1,266 301.1,267.5 301.4,267.5 301.4,267.6 301.7,267.6 301.7,269.5 302,269.5 302,269.9 302.5,269.9 302.5,271.5 303,271.5 303,272.9 303.5,272.9 303.5,272.4 304,272.4 304,274.1 304.7,274.1 304.7,275.2 305.4,275.2 305.4,275.4 306.1,275.4 306.1,276.6 306.8,276.6 306.8,278.8 307,278.8 307,279.9 307.2,279.9 307.2,279.5 307.5,279.5 307.5,281.6 307.7,281.6 307.7,283 307.9,283 307.9,283 308.1,283 308.1,284.6 308.4,284.6 308.4,284.8 308.6,284.8 308.6,286.4 308.8,286.4 308.8,288 309.6,288 309.6,288.7 310.4,288.7 310.4,289.8 311.2,289.8 311.2,289.5 312,289.5 312,290.8 313,290.8 313,291.8 314,291.8 314,291.6 315,291.6 315,291.7 316,291.7 316,291.8 317,291.8 317,293 318,293 318,292.6 319,292.6 319,292 320,292 320,293.5 321,293.5 321,292.5 322,292.5 322,292.4 323,292.4 323,291.8 324,291.8 324,291.9 325,291.9 325,292.2 326,292.2 326,292.3 327,292.3 327,293.7 328,293.7 328,293.4 328.7,293.4 328.7,295.5 329.3,295.5 329.3,295.2 330,295.2 330,297" fill="#303030" stroke="#303030" stroke-width="0.5"/>
<polygon points="283,297 283,297 283,296.1 283,296.1 283,294.9 283,294.9 283,294.1 283,294.1 283,292.8 283,292.8 283,292.3 283,292.3 283,291.3 283,291.3 283,290.1 284,290.1 284,289.4 285,289.4 285,289.4 286,289.4 286,289 287,289 287,288.7 288,288.7 288,288.9 289,288.9 289,288.7 290,288.7 290,287.6 291,287.6 291,288.5 292,288.5 292,288.4 293,288.4 293,288.4 294,288.4 294,288.5 295,288.5 295,289 296,289 296,289 297,289 297,289.3 298,289.3 298,289.5 299,289.5 299,289.2 300,289.2 300,289.9 301,289.9 301,290.2 302,290.2 302,290.4 303,290.4 303,290.4 304,290.4 304,290.3 305,290.3 305,290.6 306,290.6 306,291 307,291 307,292 308,292 308,291.8 309,291.8 309,292.4 310,292.4 310,293.3 311,293.3 311,293.4 312,293.4 312,294 312,294 312,294.9 312,294.9 312,295.7 312,295.7 312,297" fill="#666" stroke="#666" stroke-width="0.5"/>
<polyline points="313,294 313.3,294 313.3,292.9 313.6,292.9 313.6,292 313.9,292 313.9,291.4 314.2,291.4 314.2,289.9 314.6,289.9 314.6,288.9 314.9,288.9 314.9,288 315.2,288 315.2,286.4 315.5,286.4 315.5,285.8 315.8,285.8 315.8,285 316,285 316,284.2 316.2,284.2 316.2,282.4 316.5,282.4 316.5,281.6 316.8,281.6 316.8,280.4 317,280.4 317,280.3 317.2,280.3 317.2,279.2 317.5,279.2 317.5,277.4 317.8,277.4 317.8,277.6 318,277.6 318,276.6 318.3,276.6 318.3,275.1 318.6,275.1 318.6,274.1 318.9,274.1 318.9,272.5 319.2,272.5 319.2,271.3 319.5,271.3 319.5,270.9 319.8,270.9 319.8,269.3 320.1,269.3 320.1,268.4 320.4,268.4 320.4,267.4 320.7,267.4 320.7,266.1 321,266.1 321,265.6 321.3,265.6 321.3,264.5 321.6,264.5 321.6,264.1 321.9,264.1 321.9,262.7 322.2,262.7 322.2,261.9 322.5,261.9 322.5,260.8 322.8,260.8 322.8,260 323.1,260 323.1,258.8 323.4,258.8 323.4,257.6 323.7,257.6 323.7,257.6 324,257.6 324,256.6 324.3,256.6 324.3,255.4 324.7,255.4 324.7,254.2 325,254.2 325,252.8 325.4,252.8 325.4,251.7 325.7,251.7 325.7,250.7 326.1,250.7 326.1,251.5 326.4,251.5 326.4,253.3 326.8,253.3 326.8,253.9 327.1,253.9 327.1,255.4 327.5,255.4 327.5,255.9 327.7,255.9 327.7,257.5 327.8,257.5 327.8,258.4 328,258.4 328,258.4 328.2,258.4 328.2,259.7 328.3,259.7 328.3,261.5 328.5,261.5 328.5,262 328.7,262 328.7,263.6 328.8,263.6 328.8,263.9 329,263.9 329,264.5 329.3,264.5 329.3,266.2 329.5,266.2 329.5,267.4 329.8,267.4 329.8,267.9 330.1,267.9 330.1,268.7 330.4,268.7 330.4,270 330.6,270 330.6,271.8 330.9,271.8 330.9,272.6 331.2,272.6 331.2,272.9 331.5,272.9 331.5,274.2 331.8,274.2 331.8,275.1 332.1,275.1 332.1,276.2 332.4,276.2 332.4,278.2 332.7,278.2 332.7,278.5 333,278.5 333,280.1 333.2,280.1 333.2,280.9 333.5,280.9 333.5,281.6 333.8,281.6 333.8,283.3 334,283.3 334,283.6 334.2,283.6 334.2,285.2 334.5,285.2 334.5,285.5 334.8,285.5 334.8,286.9 335,286.9 335,287.7 335.3,287.7 335.3,288.7 335.6,288.7 335.6,290.6 336,290.6 336,291.4 336.3,291.4 336.3,291.8 336.6,291.8 336.6,293.5 337,293.5 337,293.7 337.3,293.7 337.3,294.9 337.6,294.9 337.6,296" fill="none" stroke="#7c7c7c" stroke-width="1.35" stroke-linejoin="round"/>
<polyline points="316,296 316.7,296 316.7,295.1 317.3,295.1 317.3,294.4 318,294.4 318,293.5 318.6,293.5 318.6,292 319.3,292 319.3,290.9 319.5,290.9 319.5,290.3 319.7,290.3 319.7,289.1 319.9,289.1 319.9,288.7 320.1,288.7 320.1,287.5 320.2,287.5 320.2,286.3 320.4,286.3 320.4,285.2 320.6,285.2 320.6,284.3 320.8,284.3 320.8,282.6 321,282.6 321,281.9 321.1,281.9 321.1,280.6 321.3,280.6 321.3,280.5 321.4,280.5 321.4,278.5 321.6,278.5 321.6,278.4 321.7,278.4 321.7,276.5 321.9,276.5 321.9,276.2 322,276.2 322,274.8 322.1,274.8 322.1,273.9 322.3,273.9 322.3,273.4 322.4,273.4 322.4,271.4 322.6,271.4 322.6,270.5 322.7,270.5 322.7,270.5 322.9,270.5 322.9,269 323,269 323,267.5 323.1,267.5 323.1,267.6 323.2,267.6 323.2,266.5 323.4,266.5 323.4,264.5 323.5,264.5 323.5,263.9 323.6,263.9 323.6,262.6 323.8,262.6 323.8,261.8 323.9,261.8 323.9,261.1 324,261.1 324,259.6 324.1,259.6 324.1,259.2 324.2,259.2 324.2,257.5 324.4,257.5 324.4,256.6 324.5,256.6 324.5,256.4 324.6,256.4 324.6,254.9 324.8,254.9 324.8,253.9 324.9,253.9 324.9,253.1 325,253.1 325,252 325.1,252 325.1,250.9 325.3,250.9 325.3,249.4 325.4,249.4 325.4,249.3 325.6,249.3 325.6,248.6 325.7,248.6 325.7,247.6 325.9,247.6 325.9,246.2 326,246.2 326,244.8 326.1,244.8 326.1,243.8 326.3,243.8 326.3,243.2 326.4,243.2 326.4,242.2 326.6,242.2 326.6,240.5 326.7,240.5 326.7,239.7 326.9,239.7 326.9,238.8 327,238.8 327,238 327.3,238 327.3,237.3 327.5,237.3 327.5,235.8 327.8,235.8 327.8,234.2 328.1,234.2 328.1,234.1 328.3,234.1 328.3,232.5 328.6,232.5 328.6,231.5 329,231.5 329,232.3 329.3,232.3 329.3,233.7 329.6,233.7 329.6,234.7 330,234.7 330,236.3 330.1,236.3 330.1,236.5 330.3,236.5 330.3,238.1 330.4,238.1 330.4,238.6 330.6,238.6 330.6,240.2 330.7,240.2 330.7,240.4 330.9,240.4 330.9,241.7 331,241.7 331,242.8 331.1,242.8 331.1,244.2 331.3,244.2 331.3,244.5 331.4,244.5 331.4,246 331.6,246 331.6,246.7 331.7,246.7 331.7,247.7 331.9,247.7 331.9,249 332,249 332,250.6 332.1,250.6 332.1,251 332.3,251 332.3,252.7 332.4,252.7 332.4,252.8 332.6,252.8 332.6,254.7 332.8,254.7 332.8,255.1 332.9,255.1 332.9,256 333.1,256 333.1,257.7 333.2,257.7 333.2,259 333.4,259 333.4,258.9 333.5,258.9 333.5,260.3 333.7,260.3 333.7,262 333.8,262 333.8,262.5 334.1,262.5 334.1,263.4 334.4,263.4 334.4,264.2 334.6,264.2 334.6,265.3 334.9,265.3 334.9,267 335.2,267 335.2,268.5 335.4,268.5 335.4,269.5 335.7,269.5 335.7,270 336,270 336,270.4 336.4,270.4 336.4,271.8 336.7,271.8 336.7,273.3 337.1,273.3 337.1,274.4 337.4,274.4 337.4,275.2 337.8,275.2 337.8,275.7 338.1,275.7 338.1,277 338.4,277 338.4,278 338.8,278 338.8,279.2 339.1,279.2 339.1,279.7 339.5,279.7 339.5,281.5 340.1,281.5 340.1,282.3 340.7,282.3 340.7,282.3 341.3,282.3 341.3,283.3 341.9,283.3 341.9,284.8 342.5,284.8 342.5,284.9 343.1,284.9 343.1,286.6 343.7,286.6 343.7,286.9 344.3,286.9 344.3,287.9 345,287.9 345,288.8 345.8,288.8 345.8,289.1 346.5,289.1 346.5,290 347.3,290 347.3,290.8 348,290.8 348,292.2 348.8,292.2 348.8,292.8 349.7,292.8 349.7,292.7 350.5,292.7 350.5,294.2 351.3,294.2 351.3,294.2 352.2,294.2 352.2,294.5 353,294.5 353,295.3 354,295.3 354,296.1 355,296.1 355,295.8 356,295.8 356,296 357,296 357,296.5 358,296.5 358,296.7 359,296.7 359,296.7 360,296.7 360,296.5" fill="none" stroke="#000" stroke-width="1.2" stroke-linejoin="round"/>
<rect x="406.9" y="225" width="1.5" height="72" fill="#303030"/>
<polygon points="408,297 408,297 408,295.6 408,295.6 408,295.3 408,295.3 408,294.3 408,294.3 408,293.6 408,293.6 408,291.5 408,291.5 408,290.6 408,290.6 408,289.4 408,289.4 408,288.6 408,288.6 408,288.4 408,288.4 408,286.4 408,286.4 408,286.1 408,286.1 408,284.5 408,284.5 408,283.7 408,283.7 408,282.9 408,282.9 408,282.5 408,282.5 408,281.2 408,281.2 408,279.2 408,279.2 408,278.6 408,278.6 408,277.4 408,277.4 408,277.6 408,277.6 408,276.5 408,276.5 408,275.5 408,275.5 408,274.5 408,274.5 408,273.4 408,273.4 408,272.7 408,272.7 408,271.5 408,271.5 408,269.6 408,269.6 408,269.6 408,269.6 408,268 408,268 408,267.4 408,267.4 408,266.1 408,266.1 408,264.9 408,264.9 408,263.8 408,263.8 408,262.9 408,262.9 408,261.7 408,261.7 408,260.4 408,260.4 408,260.5 408,260.5 408,259.5 408,259.5 408,258.8 408,258.8 408,257.3 408,257.3 408,256.1 408,256.1 408,255.4 408,255.4 408,253.4 408,253.4 408,253.3 408,253.3 408,251.9 408,251.9 408,250.5 408,250.5 408,249.5 408,249.5 408,249 408,249 408,247.6 408,247.6 408,246.9 408,246.9 408,246.2 408,246.2 408,244.8 408,244.8 408,243.4 408.8,243.4 408.8,243.2 409.5,243.2 409.5,242.1 410.2,242.1 410.2,241.3 411,241.3 411,240.5 412,240.5 412,240.5 413,240.5 413,239.7 414,239.7 414,240.2 415,240.2 415,239.7 416,239.7 416,237.8 417,237.8 417,237.4 418,237.4 418,236.7 419,236.7 419,234.2 420,234.2 420,233.2 420.2,233.2 420.2,235.3 420.5,235.3 420.5,236.4 420.8,236.4 420.8,237.2 421,237.2 421,237.5 421.5,237.5 421.5,238.9 422,238.9 422,240.6 422.5,240.6 422.5,241.6 423.1,241.6 423.1,242.6 423.6,242.6 423.6,242.8 424.2,242.8 424.2,245 424.4,245 424.4,245.3 424.6,245.3 424.6,246.9 424.8,246.9 424.8,247 425,247 425,249.4 425.2,249.4 425.2,249.8 425.3,249.8 425.3,251.1 425.5,251.1 425.5,251.3 425.7,251.3 425.7,253 425.9,253 425.9,254 426.1,254 426.1,255.1 426.3,255.1 426.3,255.8 426.6,255.8 426.6,257.4 426.9,257.4 426.9,257.7 427.2,257.7 427.2,258.7 427.6,258.7 427.6,259.5 427.9,259.5 427.9,261.3 428.2,261.3 428.2,261.4 428.5,261.4 428.5,262.6 428.9,262.6 428.9,263.3 429.2,263.3 429.2,265.2 429.6,265.2 429.6,266.1 429.9,266.1 429.9,267.1 430.2,267.1 430.2,267.3 430.6,267.3 430.6,268.9 430.8,268.9 430.8,269.7 431.1,269.7 431.1,270.3 431.3,270.3 431.3,271.2 431.5,271.2 431.5,273.8 431.8,273.8 431.8,273.4 432,273.4 432,274.7 432.3,274.7 432.3,275.6 432.5,275.6 432.5,277.1 432.8,277.1 432.8,277.2 433,277.2 433,278.8 433.3,278.8 433.3,279.6 433.5,279.6 433.5,281.4 433.8,281.4 433.8,281 434.5,281 434.5,282.4 435.3,282.4 435.3,283.6 436,283.6 436,285.3 437,285.3 437,284.7 438,284.7 438,284.7 439,284.7 439,285.1 440,285.1 440,284.7 441,284.7 441,284 442,284 442,284.5 443,284.5 443,284.9 444,284.9 444,284.4 445,284.4 445,284.1 446,284.1 446,285.3 447,285.3 447,286.1 448,286.1 448,285.6 449,285.6 449,285.9 450,285.9 450,285.3 451,285.3 451,284.8 452,284.8 452,284.7 453,284.7 453,284.8 454,284.8 454,285.3 455,285.3 455,285 456,285 456,285.8 457,285.8 457,285.5 458,285.5 458,286.7 459,286.7 459,286.5 460,286.5 460,285.7 461.3,285.7 461.3,287.2 462.6,287.2 462.6,286.5 463.3,286.5 463.3,287.8 464,287.8 464,288.7 464.6,288.7 464.6,289.1 465.3,289.1 465.3,289.9 466,289.9 466,290.9 466.8,290.9 466.8,291.2 467.6,291.2 467.6,293.2 468.4,293.2 468.4,292.8 469.2,292.8 469.2,294.7 470,294.7 470,294.5 471,294.5 471,295.4 472,295.4 472,296.2 473,296.2 473,297" fill="#303030" stroke="#303030" stroke-width="0.5"/>
<polygon points="410,297 410,297 410,295.8 410,295.8 410,295.1 410,295.1 410,294.1 410,294.1 410,293.3 410,293.3 410,291.9 410,291.9 410,290.9 410,290.9 410,290.1 410,290.1 410,289.1 410,289.1 410,287.9 410,287.9 410,287.1 410,287.1 410,285.9 410,285.9 410,285.2 410,285.2 410,283.8 410,283.8 410,282.8 410,282.8 410,282.2 410,282.2 410,280.9 410,280.9 410,279.9 410,279.9 410,279.2 410,279.2 410,278.1 410,278.1 410,276.8 410,276.8 410,276 410,276 410,275.1 410,275.1 410,273.8 410,273.8 410,273.1 410,273.1 410,271.8 410,271.8 410,270.9 410,270.9 410,269.7 410,269.7 410,268.8 410,268.8 410,268.3 410,268.3 410,266.9 410,266.9 410,266.3 410,266.3 410,265 410,265 410,264.1 410,264.1 410,263.2 410,263.2 410,262.1 410,262.1 410,260.8 410,260.8 410,260.1 410,260.1 410,259.1 410,259.1 410,257.8 410,257.8 410,256.8 410,256.8 410,256.2 410,256.2 410,255 410,255 410,253.8 410,253.8 410,253 410,253 410,251.8 410.6,251.8 410.6,251.4 411.2,251.4 411.2,250.4 411.8,250.4 411.8,249.4 412.4,249.4 412.4,249 413,249 413,247.8 414,247.8 414,247.7 415,247.7 415,247.5 416,247.5 416,247.7 417,247.7 417,248.2 418,248.2 418,249.2 419,249.2 419,249.8 419.4,249.8 419.4,251 419.8,251 419.8,252.1 420.1,252.1 420.1,253 420.5,253 420.5,254 420.9,254 420.9,255 421.2,255 421.2,256 421.6,256 421.6,257.1 422,257.1 422,257.8 422.2,257.8 422.2,259 422.4,259 422.4,259.8 422.5,259.8 422.5,261.2 422.7,261.2 422.7,262.3 422.9,262.3 422.9,262.7 423.1,262.7 423.1,263.8 423.3,263.8 423.3,265.1 423.5,265.1 423.5,266 423.6,266 423.6,266.7 423.8,266.7 423.8,268.1 424,268.1 424,269.3 424.2,269.3 424.2,270 424.4,270 424.4,270.9 424.5,270.9 424.5,272 424.7,272 424.7,273.3 424.9,273.3 424.9,273.9 425.1,273.9 425.1,274.9 425.3,274.9 425.3,275.8 425.5,275.8 425.5,277.1 425.6,277.1 425.6,278 425.8,278 425.8,278.9 426,278.9 426,279.9 426.1,279.9 426.1,280.7 426.2,280.7 426.2,281.9 426.4,281.9 426.4,283.3 426.5,283.3 426.5,284.1 426.6,284.1 426.6,284.9 426.7,284.9 426.7,286.3 426.8,286.3 426.8,286.9 426.9,286.9 426.9,287.9 427.1,287.9 427.1,288.7 427.2,288.7 427.2,289.8 427.3,289.8 427.3,290.8 427.4,290.8 427.4,291.8 427.5,291.8 427.5,293.2 427.6,293.2 427.6,293.9 427.8,293.9 427.8,294.8 427.9,294.8 427.9,296.1 428,296.1 428,297" fill="#4a4a4a" stroke="#4a4a4a" stroke-width="0.5"/>
<polyline points="409,250 409.8,250 409.8,250.2 410.5,250.2 410.5,247.5 411.2,247.5 411.2,248.2 412,248.2 412,246.3 413,246.3 413,247.8 414,247.8 414,245.7 415,245.7 415,247.3 416,247.3 416,247.4 417,247.4 417,248.2 418,248.2 418,249 418.4,249 418.4,248.5 418.9,248.5 418.9,249.7 419.3,249.7 419.3,251.4 419.7,251.4 419.7,251.6 420.1,251.6 420.1,252.5 420.6,252.5 420.6,253.5 421,253.5 421,255.7 421.2,255.7 421.2,256.7 421.4,256.7 421.4,257.6 421.6,257.6 421.6,257.4 421.8,257.4 421.8,259.8 422,259.8 422,260 422.2,260 422.2,260.5 422.4,260.5 422.4,261.9 422.6,261.9 422.6,262.8 422.8,262.8 422.8,263.2 423,263.2 423,265.1 423.2,265.1 423.2,265.7 423.4,265.7 423.4,267.1 423.5,267.1 423.5,268.9 423.7,268.9 423.7,269.3 423.9,269.3 423.9,269.8 424.1,269.8 424.1,271.7 424.3,271.7 424.3,273 424.5,273 424.5,273 424.6,273 424.6,274.9 424.8,274.9 424.8,274 425,274 425,275.3 425.2,275.3 425.2,276.3 425.3,276.3 425.3,278.9 425.5,278.9 425.5,279.4 425.7,279.4 425.7,280.4 425.8,280.4 425.8,280.6 426,280.6 426,282 426.2,282 426.2,283.8 426.3,283.8 426.3,283.2 426.5,283.2 426.5,284.2 426.7,284.2 426.7,285.1 426.8,285.1 426.8,286.9 427,286.9 427,288.7 427.2,288.7 427.2,289.1 427.5,289.1 427.5,289.8 427.8,289.8 427.8,291 428,291 428,291.4 428.2,291.4 428.2,293.9 428.5,293.9 428.5,293.7 428.8,293.7 428.8,294.5 429,294.5 429,296" fill="none" stroke="#666" stroke-width="1.1" stroke-linejoin="round"/>
<rect x="24.2" y="368" width="1.5" height="50.5" fill="#303030"/>
<polygon points="25,418.5 25,418.5 25,417.2 25,417.2 25,416.4 25,416.4 25,415.3 25,415.3 25,414.3 25,414.3 25,413.2 25,413.2 25,412.5 25,412.5 25,410.8 25,410.8 25,410.4 25,410.4 25,408.4 25,408.4 25,407.8 25,407.8 25,406.8 25,406.8 25,405.5 25,405.5 25,405.4 25.8,405.4 25.8,403.9 26.5,403.9 26.5,404 27.2,404 27.2,403.5 28,403.5 28,401.6 29,401.6 29,402.4 30,402.4 30,402 31,402 31,401.5 32,401.5 32,400.2 33,400.2 33,401.1 34,401.1 34,401.5 35,401.5 35,401 36,401 36,401.1 37,401.1 37,401.3 38,401.3 38,401.4 39,401.4 39,402.3 40,402.3 40,401.8 41,401.8 41,401.8 42,401.8 42,402 43,402 43,402.4 44,402.4 44,401.3 45,401.3 45,400.8 46,400.8 46,402.2 47,402.2 47,401.8 48,401.8 48,401.7 49,401.7 49,401.1 50,401.1 50,400.6 51,400.6 51,400.8 52,400.8 52,401.5 53,401.5 53,402.1 54,402.1 54,401.9 55,401.9 55,403.3 56,403.3 56,403.2 57,403.2 57,401.8 58,401.8 58,402.9 59,402.9 59,402.2 60,402.2 60,402.7 60.8,402.7 60.8,402.6 61.6,402.6 61.6,403.7 62.4,403.7 62.4,403.7 63.2,403.7 63.2,404.6 64,404.6 64,405 64.2,405 64.2,405.3 64.3,405.3 64.3,406.5 64.5,406.5 64.5,407.7 64.6,407.7 64.6,409 64.8,409 64.8,410 64.9,410 64.9,411.3 65.1,411.3 65.1,412.5 65.2,412.5 65.2,413.1 65.4,413.1 65.4,414.1 65.5,414.1 65.5,415.4 65.7,415.4 65.7,417.1 65.8,417.1 65.8,417.9 66,417.9 66,418.5" fill="#707070" stroke="#707070" stroke-width="0.5"/>
<polygon points="31,406 31.1,406 31.1,405 31.2,405 31.2,404.4 31.2,404.4 31.2,403.6 31.3,403.6 31.3,401.7 31.4,401.7 31.4,401.3 31.5,401.3 31.5,400.2 31.7,400.2 31.7,399.2 31.9,399.2 31.9,397.5 32.1,397.5 32.1,396.4 32.2,396.4 32.2,395.9 32.4,395.9 32.4,395.3 32.6,395.3 32.6,393.7 32.8,393.7 32.8,393 33,393 33,391.8 33.1,391.8 33.1,391.4 33.3,391.4 33.3,390.5 33.5,390.5 33.5,388.9 33.6,388.9 33.6,388.6 33.8,388.6 33.8,386.5 33.9,386.5 33.9,386.4 34.1,386.4 34.1,385.5 34.2,385.5 34.2,383.6 34.3,383.6 34.3,383.2 34.5,383.2 34.5,382.1 34.6,382.1 34.6,381.5 34.8,381.5 34.8,379.7 34.9,379.7 34.9,379 35,379 35,378.5 35.2,378.5 35.2,377.2 35.3,377.2 35.3,375.8 35.4,375.8 35.4,374.5 35.6,374.5 35.6,374.5 35.7,374.5 35.7,373 35.8,373 35.8,372.6 36,372.6 36,370.6 36.1,370.6 36.1,370.4 36.2,370.4 36.2,369.4 36.4,369.4 36.4,368.5 36.5,368.5 36.5,366.4 36.6,366.4 36.6,365.8 36.8,365.8 36.8,364.5 37,364.5 37,364.3 37.1,364.3 37.1,362.8 37.2,362.8 37.2,362.6 37.4,362.6 37.4,360.8 37.8,360.8 37.8,360.1 38.2,360.1 38.2,358.9 38.6,358.9 38.6,359.4 39,359.4 39,361.1 39.2,361.1 39.2,360.5 39.5,360.5 39.5,359 39.8,359 39.8,357.8 40,357.8 40,356.7 40.2,356.7 40.2,356.3 40.5,356.3 40.5,354.6 40.7,354.6 40.7,354.1 41,354.1 41,353.1 41.2,353.1 41.2,352.1 41.7,352.1 41.7,350.2 42.2,350.2 42.2,349.5 42.5,349.5 42.5,351 42.7,351 42.7,351.4 43,351.4 43,352.6 43.2,352.6 43.2,354.5 43.4,354.5 43.4,355.1 43.6,355.1 43.6,355.7 43.8,355.7 43.8,356.4 44,356.4 44,358.3 44.4,358.3 44.4,358.8 44.9,358.8 44.9,360 45.3,360 45.3,360.7 45.4,360.7 45.4,362.2 45.5,362.2 45.5,363.3 45.6,363.3 45.6,363.8 45.7,363.8 45.7,364.5 45.8,364.5 45.8,366.6 45.9,366.6 45.9,367.5 46,367.5 46,367.4 46.1,367.4 46.1,369.1 46.2,369.1 46.2,370.2 46.3,370.2 46.3,370.9 46.4,370.9 46.4,372.3 46.5,372.3 46.5,373.6 46.6,373.6 46.6,374.1 46.7,374.1 46.7,374.9 46.8,374.9 46.8,375.6 46.9,375.6 46.9,376.7 47,376.7 47,377.6 47.2,377.6 47.2,378.5 47.3,378.5 47.3,379.7 47.4,379.7 47.4,381.4 47.5,381.4 47.5,382 47.7,382 47.7,383.4 47.8,383.4 47.8,384.5 47.9,384.5 47.9,385.4 48.1,385.4 48.1,385.5 48.2,385.5 48.2,387.5 48.4,387.5 48.4,387.5 48.5,387.5 48.5,389.3 48.7,389.3 48.7,390.4 48.9,390.4 48.9,391.2 49,391.2 49,391.9 49.2,391.9 49.2,392.5 49.4,392.5 49.4,393.5 49.6,393.5 49.6,395.2 49.8,395.2 49.8,395.7 49.9,395.7 49.9,397 50.1,397 50.1,397.7 50.3,397.7 50.3,398.6 50.5,398.6 50.5,399.8 50.8,399.8 50.8,401.3 51,401.3 51,402 51.2,402 51.2,402.9 51.5,402.9 51.5,404 51.8,404 51.8,405.1 52,405.1 52,406" fill="#303030" stroke="#303030" stroke-width="0.5"/>
<polygon points="25,418.5 25,418.5 25,416.8 25,416.8 25,416.7 25,416.7 25,414.9 25,414.9 25,413.6 25,413.6 25,413.1 25,413.1 25,412 25.8,412 25.8,411.2 26.5,411.2 26.5,410.4 27.2,410.4 27.2,409.3 28,409.3 28,408.5 28.8,408.5 28.8,410.1 29.5,410.1 29.5,410.1 30.2,410.1 30.2,411.6 31,411.6 31,412.6 32,412.6 32,412.1 33,412.1 33,411.6 34,411.6 34,409.5 34.8,409.5 34.8,410.2 35.5,410.2 35.5,412 36.2,412 36.2,412.4 37,412.4 37,412.4 37.6,412.4 37.6,412.6 38.2,412.6 38.2,412.1 38.8,412.1 38.8,411.3 39.4,411.3 39.4,409.2 40,409.2 40,408.6 40.8,408.6 40.8,408.6 41.6,408.6 41.6,411.2 42.4,411.2 42.4,410.2 43.2,410.2 43.2,411.9 44,411.9 44,412.1 45,412.1 45,411.7 46,411.7 46,411.1 47,411.1 47,411.2 48,411.2 48,410.2 49,410.2 49,409.9 50,409.9 50,409.7 51,409.7 51,410.7 52,410.7 52,411.8 53,411.8 53,409.8 54,409.8 54,410.4 55,410.4 55,409.8 56,409.8 56,408.3 57,408.3 57,408.9 58,408.9 58,410.4 59,410.4 59,410.4 60,410.4 60,410.8 61,410.8 61,410.8 62,410.8 62,409.8 63,409.8 63,410.8 64,410.8 64,410.4 65,410.4 65,410.1 66,410.1 66,410.1 67,410.1 67,411.4 68,411.4 68,411.8 69,411.8 69,411.7 70,411.7 70,411.2 71,411.2 71,411.1 72,411.1 72,410.9 73,410.9 73,410.6 74,410.6 74,411.5 75,411.5 75,411.1 76,411.1 76,410.8 77,410.8 77,412.6 78,412.6 78,412.5 79,412.5 79,413.2 80,413.2 80,413.6 81,413.6 81,413.4 82,413.4 82,413.1 83,413.1 83,414 84,414 84,412.3 85,412.3 85,413.4 86,413.4 86,414.2 87,414.2 87,413.8 88,413.8 88,414.8 89,414.8 89,414 90,414 90,414.8 91,414.8 91,414.9 92,414.9 92,415.6 93,415.6 93,416.6 94,416.6 94,415.9 95,415.9 95,416.7 96,416.7 96,418.2 97,418.2 97,417.6 98,417.6 98,418.5" fill="#303030" stroke="#303030" stroke-width="0.5"/>
<polyline points="58,410 58.6,410 58.6,409.4 59.1,409.4 59.1,408.6 59.7,408.6 59.7,407.5 60.3,407.5 60.3,406.6 60.9,406.6 60.9,405.6 61.4,405.6 61.4,405.5 62,405.5 62,403.7 62.8,403.7 62.8,402.8 63.6,402.8 63.6,402.1 64.4,402.1 64.4,401.3 65.2,401.3 65.2,400.6 66,400.6 66,399.7 66.4,399.7 66.4,398.5 66.8,398.5 66.8,397.8 67.2,397.8 67.2,396.8 67.6,396.8 67.6,396.1 68,396.1 68,394.6 68.7,394.6 68.7,395.5 69.3,395.5 69.3,396.6 70,396.6 70,398.1 70.7,398.1 70.7,396.7 71.3,396.7 71.3,396 72,396 72,395 72.6,395 72.6,395.4 73.2,395.4 73.2,395.9 73.8,395.9 73.8,397.5 74.4,397.5 74.4,398.4 75,398.4 75,398.9 75.5,398.9 75.5,398.2 76,398.2 76,396.8 76.5,396.8 76.5,396.5 77,396.5 77,395.4 78,395.4 78,395.7 79,395.7 79,396.2 80,396.2 80,395.7 81,395.7 81,396.7 82,396.7 82,397.6 83,397.6 83,398.4 83.8,398.4 83.8,397.1 84.5,397.1 84.5,396.1 85.2,396.1 85.2,395.9 86,395.9 86,394.5 86.8,394.5 86.8,396 87.5,396 87.5,395.9 88.2,395.9 88.2,397.2 89,397.2 89,398 89.7,398 89.7,398.5 90.3,398.5 90.3,400 91,400 91,401 91.4,401 91.4,401.8 91.9,401.8 91.9,403.5 92.3,403.5 92.3,404.4 92.7,404.4 92.7,405.5 93.1,405.5 93.1,405.7 93.6,405.7 93.6,406.4 94,406.4 94,407.9 94.3,407.9 94.3,408.5 94.7,408.5 94.7,410.2 95,410.2 95,410.7 95.3,410.7 95.3,411.6 95.7,411.6 95.7,412.7 96,412.7 96,413.9 96.6,413.9 96.6,415.3 97.2,415.3 97.2,416 97.9,416 97.9,416.8 98.5,416.8 98.5,418" fill="none" stroke="#7c7c7c" stroke-width="1.35" stroke-linejoin="round"/>
<polyline points="55,406 55.8,406 55.8,405.7 56.5,405.7 56.5,404.7 57.2,404.7 57.2,404.1 58,404.1 58,403.5 59,403.5 59,402.4 60,402.4 60,402.5 60.5,402.5 60.5,401.7 61,401.7 61,400.6 61.5,400.6 61.5,399.2 62,399.2 62,397.7 62.5,397.7 62.5,396.9 63,396.9 63,396.6 63.5,396.6 63.5,394.6 64,394.6 64,394 64.4,394 64.4,393.8 64.9,393.8 64.9,392.3 65.4,392.3 65.4,391.2 65.9,391.2 65.9,390.4 66.4,390.4 66.4,390.2 67,390.2 67,388.6 67.5,388.6 67.5,387.8 68,387.8 68,387.2 68.9,387.2 68.9,386.8 69.8,386.8 69.8,385.8 70.6,385.8 70.6,384.7 71.5,384.7 71.5,384.7 72.1,384.7 72.1,384.9 72.8,384.9 72.8,385.8 73.4,385.8 73.4,386.8 74,386.8 74,388.2 75,388.2 75,388.4 76,388.4 76,389.6 77,389.6 77,389.6 77.3,389.6 77.3,388.5 77.7,388.5 77.7,387.4 78,387.4 78,387.2 78.3,387.2 78.3,386.4 78.7,386.4 78.7,384.7 79,384.7 79,383.7 79.7,383.7 79.7,382.3 80.5,382.3 80.5,382 81.2,382 81.2,380.6 81.7,380.6 81.7,381.4 82.1,381.4 82.1,383.1 82.5,383.1 82.5,384.1 83,384.1 83,384.9 84,384.9 84,384.9 85,384.9 85,385.8 86,385.8 86,386.1 86.8,386.1 86.8,386.7 87.5,386.7 87.5,387.1 88.2,387.1 88.2,388.8 89,388.8 89,389.4 89.7,389.4 89.7,390.2 90.3,390.2 90.3,391.5 91,391.5 91,392 91.6,392 91.6,392.7 92.3,392.7 92.3,393.3 93.2,393.3 93.2,394.7 94.1,394.7 94.1,395.3 95,395.3 95,395.9 95.9,395.9 95.9,397.4 96.8,397.4 96.8,398 97.6,398 97.6,397.9 98.5,397.9 98.5,399.7 99.3,399.7 99.3,399.5 100.2,399.5 100.2,401.2 101,401.2 101,401.8 101.6,401.8 101.6,403.1 102.2,403.1 102.2,404.2 102.8,404.2 102.8,404.5 103.4,404.5 103.4,405.6 104,405.6 104,405.6 104.6,405.6 104.6,407.2 105.3,407.2 105.3,407.3 106,407.3 106,408.5 106.6,408.5 106.6,409.2 107.3,409.2 107.3,409.7 108,409.7 108,411.3 108.8,411.3 108.8,411.3 109.5,411.3 109.5,412.2 110.2,412.2 110.2,412.8 111,412.8 111,414.2 111.9,414.2 111.9,414.4 112.9,414.4 112.9,414.8 113.8,414.8 113.8,415.4 114.9,415.4 114.9,416.7 116,416.7 116,418" fill="none" stroke="#000" stroke-width="1.3" stroke-linejoin="round"/>
<rect x="152.4" y="367" width="1.5" height="51.6" fill="#303030"/>
<polygon points="153.5,418.6 153.5,418.6 153.5,416.9 153.5,416.9 153.5,416.7 153.5,416.7 153.5,415.5 153.5,415.5 153.5,414.1 153.5,414.1 153.5,412.5 154.8,412.5 154.8,413.2 156,413.2 156,413 157,413 157,413.3 158,413.3 158,414 159,414 159,412.6 160,412.6 160,411.2 161,411.2 161,412.3 162,412.3 162,413.1 163,413.1 163,412.8 163.5,412.8 163.5,413.1 164,413.1 164,411.3 164.5,411.3 164.5,410.4 165,410.4 165,409.3 165.9,409.3 165.9,410.2 166.8,410.2 166.8,409.2 167.6,409.2 167.6,408.7 168.4,408.7 168.4,407.6 169.2,407.6 169.2,406 170,406 170,405.7 171,405.7 171,405.4 172,405.4 172,404.2 173,404.2 173,404.9 174,404.9 174,403.4 175,403.4 175,402.4 176,402.4 176,402.8 177,402.8 177,401.1 178,401.1 178,401.7 178.9,401.7 178.9,400.4 179.8,400.4 179.8,400.1 180.6,400.1 180.6,399.2 181.5,399.2 181.5,399 183,399 183,397.5 183.7,397.5 183.7,396.3 184.3,396.3 184.3,396.6 185,396.6 185,394.6 185.8,394.6 185.8,394.6 186.5,394.6 186.5,392.9 187.2,392.9 187.2,393.3 188,393.3 188,392.3 188.3,392.3 188.3,391.1 188.6,391.1 188.6,390.2 188.9,390.2 188.9,388.9 189.2,388.9 189.2,388.2 189.5,388.2 189.5,386.2 189.8,386.2 189.8,385.8 190.1,385.8 190.1,385.4 190.4,385.4 190.4,383.5 190.7,383.5 190.7,383.6 191,383.6 191,382.6 191.3,382.6 191.3,380.9 191.7,380.9 191.7,379.8 192,379.8 192,378.9 192.3,378.9 192.3,377.8 192.7,377.8 192.7,377.8 193,377.8 193,375.8 193.4,375.8 193.4,374 193.8,374 193.8,372.8 194.2,372.8 194.2,372.5 194.3,372.5 194.3,374 194.4,374 194.4,374.2 194.5,374.2 194.5,375.3 194.6,375.3 194.6,376.4 194.7,376.4 194.7,377.7 194.8,377.7 194.8,377.9 194.9,377.9 194.9,379.6 195,379.6 195,380.5 195.1,380.5 195.1,381.6 195.2,381.6 195.2,382 195.3,382 195.3,383 195.9,383 195.9,382.4 196.4,382.4 196.4,382.5 197,382.5 197,380.8 197.5,380.8 197.5,380.2 198,380.2 198,378.7 198.5,378.7 198.5,377.4 199,377.4 199,376.3 199.3,376.3 199.3,378.6 199.6,378.6 199.6,379.6 199.8,379.6 199.8,380.1 200.1,380.1 200.1,381.7 200.4,381.7 200.4,382.8 200.9,382.8 200.9,384.3 201.5,384.3 201.5,385.6 202,385.6 202,385.9 202.6,385.9 202.6,387.7 203.2,387.7 203.2,388.6 203.9,388.6 203.9,388.9 204.5,388.9 204.5,390.3 205.8,390.3 205.8,389.8 207,389.8 207,389.8 207.7,389.8 207.7,390.5 208.3,390.5 208.3,392.5 209,392.5 209,392.3 209.7,392.3 209.7,393.1 209.9,393.1 209.9,395.3 210.2,395.3 210.2,396.3 210.4,396.3 210.4,396.8 210.7,396.8 210.7,398.4 210.9,398.4 210.9,398.2 211.2,398.2 211.2,399.6 211.4,399.6 211.4,400.6 211.7,400.6 211.7,401.9 212.3,401.9 212.3,402.5 212.8,402.5 212.8,403.3 213.4,403.3 213.4,404.7 214,404.7 214,406.6 214.7,406.6 214.7,407.7 215.3,407.7 215.3,408.2 215.9,408.2 215.9,408.6 216.6,408.6 216.6,409.1 217.2,409.1 217.2,411.2 217.9,411.2 217.9,411.3 218.7,411.3 218.7,412.6 219.4,412.6 219.4,412.4 220.2,412.4 220.2,413.6 221,413.6 221,415.5 221.8,415.5 221.8,416.1 222.7,416.1 222.7,416.8 223.5,416.8 223.5,417 224.3,417 224.3,417.3 225.2,417.3 225.2,418.1 226,418.1 226,418.6" fill="#303030" stroke="#303030" stroke-width="0.5"/>
<polygon points="170,418.6 170.2,418.6 170.2,417.9 170.5,417.9 170.5,416.2 170.8,416.2 170.8,415 171,415 171,414.7 171.2,414.7 171.2,413 171.5,413 171.5,411.8 171.8,411.8 171.8,411.2 172,411.2 172,409.9 173,409.9 173,410.1 174,410.1 174,409.3 175,409.3 175,409.6 176,409.6 176,408.9 177,408.9 177,408.8 178,408.8 178,408.8 179,408.8 179,408.4 180,408.4 180,408.3 181,408.3 181,407.9 182,407.9 182,407 183,407 183,407.4 184,407.4 184,406.9 185,406.9 185,406.3 186,406.3 186,406 187,406 187,406.2 188,406.2 188,405.7 189,405.7 189,405.7 190,405.7 190,405.2 191,405.2 191,405.6 192,405.6 192,405.5 193,405.5 193,405.8 194,405.8 194,405.9 195,405.9 195,405.8 196,405.8 196,406.6 197,406.6 197,406.2 198,406.2 198,406.8 199,406.8 199,407.2 200,407.2 200,407.1 201,407.1 201,407.1 202,407.1 202,408 203,408 203,408.3 204,408.3 204,408.2 205,408.2 205,408.5 206,408.5 206,409.3 207,409.3 207,409.3 208,409.3 208,410.3 208.4,410.3 208.4,411 208.9,411 208.9,411.9 209.3,411.9 209.3,412.8 209.8,412.8 209.8,414 210.2,414 210.2,415.1 210.7,415.1 210.7,415.6 211.1,415.6 211.1,416.6 211.6,416.6 211.6,417.7 212,417.7 212,418.6" fill="#555" stroke="#555" stroke-width="0.5"/>
<polyline points="156,412 156.3,412 156.3,411.5 156.6,411.5 156.6,410.5 156.9,410.5 156.9,409.5 157.1,409.5 157.1,407.5 157.4,407.5 157.4,407.1 157.7,407.1 157.7,405.9 158,405.9 158,405 158.6,405 158.6,403.6 159.2,403.6 159.2,402.6 159.8,402.6 159.8,401.9 160.4,401.9 160.4,400.7 161,400.7 161,399.9 161.4,399.9 161.4,398.4 161.9,398.4 161.9,397.5 162.3,397.5 162.3,397.3 162.8,397.3 162.8,395.9 163.2,395.9 163.2,395 163.6,395 163.6,394.3 164.1,394.3 164.1,392.8 164.5,392.8 164.5,391.5 165,391.5 165,391.3 165.4,391.3 165.4,390.1 165.6,390.1 165.6,389.2 165.8,389.2 165.8,388.1 166.1,388.1 166.1,387.6 166.3,387.6 166.3,385.8 166.5,385.8 166.5,385.3 166.7,385.3 166.7,383.8 166.9,383.8 166.9,383.1 167.1,383.1 167.1,382.2 167.3,382.2 167.3,380.8 167.6,380.8 167.6,379.5 167.8,379.5 167.8,379 168,379 168,378.3 168.2,378.3 168.2,377.1 168.4,377.1 168.4,375.9 168.7,375.9 168.7,375.2 168.9,375.2 168.9,373.6 169.1,373.6 169.1,372.6 169.3,372.6 169.3,371.8 169.5,371.8 169.5,371.4 169.7,371.4 169.7,369.6 169.9,369.6 169.9,368.5 170.2,368.5 170.2,367.5 170.4,367.5 170.4,366.4 170.6,366.4 170.6,365.7 171.6,365.7 171.6,367.1 172.5,367.1 172.5,368.4 172.7,368.4 172.7,368.8 172.9,368.8 172.9,369.8 173.1,369.8 173.1,370.7 173.4,370.7 173.4,371.8 173.6,371.8 173.6,373.3 173.8,373.3 173.8,374.1 174,374.1 174,374.7 174.2,374.7 174.2,375.5 174.4,375.5 174.4,377.3 174.6,377.3 174.6,378.2 174.8,378.2 174.8,379.4 175,379.4 175,379.7 175.2,379.7 175.2,381.1 175.4,381.1 175.4,382.5 175.6,382.5 175.6,383.1 175.8,383.1 175.8,384.5 176,384.5 176,384.6 176.4,384.6 176.4,386.6 176.7,386.6 176.7,386.5 177.1,386.5 177.1,387.9 177.4,387.9 177.4,388.4 177.8,388.4 177.8,390.4 178,390.4 178,391.2 178.1,391.2 178.1,392.6 178.3,392.6 178.3,393.4 178.5,393.4 178.5,394.5 178.7,394.5 178.7,395 178.8,395 178.8,396.6 179,396.6 179,397.3 179.2,397.3 179.2,397.8 179.3,397.8 179.3,399.6 179.5,399.6 179.5,399.9 179.7,399.9 179.7,400.6 179.8,400.6 179.8,401.5 179.9,401.5 179.9,403 180.1,403 180.1,403.6 180.2,403.6 180.2,405.5 180.4,405.5 180.4,406.5 180.6,406.5 180.6,406.7 180.7,406.7 180.7,407.5 180.8,407.5 180.8,409 181,409 181,409.6 181.1,409.6 181.1,411.1 181.2,411.1 181.2,412.4 181.4,412.4 181.4,412.7 181.5,412.7 181.5,413.9 181.6,413.9 181.6,415.5 181.8,415.5 181.8,415.9 181.9,415.9 181.9,416.8 182,416.8 182,418" fill="none" stroke="#7c7c7c" stroke-width="1.35" stroke-linejoin="round"/>
<polyline points="153.5,410 153.9,410 153.9,409.3 154.3,409.3 154.3,408.4 154.8,408.4 154.8,406.6 155.2,406.6 155.2,406.6 155.6,406.6 155.6,404.6 156,404.6 156,404.2 156.5,404.2 156.5,402.6 157,402.6 157,402.5 157.4,402.5 157.4,400.8 157.9,400.8 157.9,400.6 158.4,400.6 158.4,399.7 158.9,399.7 158.9,398.9 159.3,398.9 159.3,397.6 159.8,397.6 159.8,397.2 160.3,397.2 160.3,396.4 160.6,396.4 160.6,394.4 161,394.4 161,393.9 161.3,393.9 161.3,393.4 161.6,393.4 161.6,392.2 162,392.2 162,390.9 162.3,390.9 162.3,389.8 162.7,389.8 162.7,389.5 163,389.5 163,387.3 163.4,387.3 163.4,387.1 163.7,387.1 163.7,386.1 164.1,386.1 164.1,384.2 164.4,384.2 164.4,383.3 164.7,383.3 164.7,382.2 165,382.2 165,381.4 165.3,381.4 165.3,380.1 165.6,380.1 165.6,379.7 165.9,379.7 165.9,378.7 166.2,378.7 166.2,376.9 166.5,376.9 166.5,376.5 166.8,376.5 166.8,374.5 167.1,374.5 167.1,373.5 167.4,373.5 167.4,373.2 167.6,373.2 167.6,372.4 167.9,372.4 167.9,371.4 168.2,371.4 168.2,370.6 168.5,370.6 168.5,369.4 169,369.4 169,367.6 169.5,367.6 169.5,367 170,367 170,366.1 170.5,366.1 170.5,364 171.3,364 171.3,363.5 172.2,363.5 172.2,362.1 173.2,362.1 173.2,361.8 174.2,361.8 174.2,362 174.4,362 174.4,363.2 174.5,363.2 174.5,364.6 174.7,364.6 174.7,364.6 174.9,364.6 174.9,366 175,366 175,367.6 175.2,367.6 175.2,368.3 175.4,368.3 175.4,369 175.5,369 175.5,369.7 175.7,369.7 175.7,371.2 175.9,371.2 175.9,371.7 176.2,371.7 176.2,373.2 176.4,373.2 176.4,374.2 176.6,374.2 176.6,374.9 176.9,374.9 176.9,376.4 177.1,376.4 177.1,376.9 177.3,376.9 177.3,378 177.6,378 177.6,379.4 177.8,379.4 177.8,379.7 178.1,379.7 178.1,380.6 178.3,380.6 178.3,382.1 178.6,382.1 178.6,382.9 178.9,382.9 178.9,384.4 179.2,384.4 179.2,384.7 179.4,384.7 179.4,385.8 179.7,385.8 179.7,386.5 180,386.5 180,387.9 180.2,387.9 180.2,388.8 180.5,388.8 180.5,389.9 180.7,389.9 180.7,391.3 180.8,391.3 180.8,391.4 180.9,391.4 180.9,393.6 181.1,393.6 181.1,394.3 181.2,394.3 181.2,395.4 181.4,395.4 181.4,396 181.6,396 181.6,397.1 181.7,397.1 181.7,397.9 181.8,397.9 181.8,398.9 182,398.9 182,399.7 182.2,399.7 182.2,400.8 182.4,400.8 182.4,401.8 182.6,401.8 182.6,402.8 182.8,402.8 182.8,404.5 182.9,404.5 182.9,405.4 183.1,405.4 183.1,406.2 183.3,406.2 183.3,406.4 183.5,406.4 183.5,407.7 183.7,407.7 183.7,409.1 183.8,409.1 183.8,410.2 183.9,410.2 183.9,410.9 184.1,410.9 184.1,412.2 184.2,412.2 184.2,413.5 184.4,413.5 184.4,413.7 184.6,413.7 184.6,414.9 184.7,414.9 184.7,416.3 184.8,416.3 184.8,416.8 185,416.8 185,418" fill="none" stroke="#000" stroke-width="1.25" stroke-linejoin="round"/>
<rect x="280.7" y="361" width="1.5" height="57.2" fill="#303030"/>
<polygon points="306,418.2 306.7,418.2 306.7,417.1 307.4,417.1 307.4,417 308.2,417 308.2,415.9 308.9,415.9 308.9,413.9 309.3,413.9 309.3,414 309.6,414 309.6,412.7 310,412.7 310,410.8 310.4,410.8 310.4,411.3 310.8,411.3 310.8,409.3 311.1,409.3 311.1,408.4 311.5,408.4 311.5,407.7 311.9,407.7 311.9,407 312.3,407 312.3,405.3 312.6,405.3 312.6,405.2 313,405.2 313,404.5 313.5,404.5 313.5,403 314,403 314,402.5 314.5,402.5 314.5,401.2 315,401.2 315,400.5 315.5,400.5 315.5,398.5 316,398.5 316,397.8 316.4,397.8 316.4,396.9 316.8,396.9 316.8,395.3 317.1,395.3 317.1,395.6 317.5,395.6 317.5,394.1 317.9,394.1 317.9,392.2 318.2,392.2 318.2,391.9 318.6,391.9 318.6,390.6 319,390.6 319,389.2 319.2,389.2 319.2,388.1 319.4,388.1 319.4,387.5 319.6,387.5 319.6,385.8 319.7,385.8 319.7,385.6 319.9,385.6 319.9,384.4 320.1,384.4 320.1,382.8 320.3,382.8 320.3,382.9 320.5,382.9 320.5,380.5 320.6,380.5 320.6,379.7 320.8,379.7 320.8,379.6 321,379.6 321,377.6 321.2,377.6 321.2,376.9 321.4,376.9 321.4,376.1 321.6,376.1 321.6,374.9 321.8,374.9 321.8,374 322,374 322,373 322.2,373 322.2,372 322.3,372 322.3,370.3 322.5,370.3 322.5,370.5 322.7,370.5 322.7,368.7 322.9,368.7 322.9,367.3 323.1,367.3 323.1,366.9 323.3,366.9 323.3,366.5 323.6,366.5 323.6,365.2 323.9,365.2 323.9,363.9 324.3,363.9 324.3,362.9 324.6,362.9 324.6,361.5 324.9,361.5 324.9,361.1 325.2,361.1 325.2,361.7 325.5,361.7 325.5,362.2 325.9,362.2 325.9,363.4 326.2,363.4 326.2,364.3 326.5,364.3 326.5,366.3 327.4,366.3 327.4,367.6 328.4,367.6 328.4,368.4 329.4,368.4 329.4,368.6 330.5,368.6 330.5,369.4 330.9,369.4 330.9,371.7 331.2,371.7 331.2,371.8 331.6,371.8 331.6,372.5 332,372.5 332,374.1 332.3,374.1 332.3,375.3 332.6,375.3 332.6,376.2 332.9,376.2 332.9,377.2 333.2,377.2 333.2,378 333.5,378 333.5,379.4 333.7,379.4 333.7,380.4 333.9,380.4 333.9,381.8 334.1,381.8 334.1,382.5 334.2,382.5 334.2,383.5 334.4,383.5 334.4,385.6 334.6,385.6 334.6,385.2 334.8,385.2 334.8,387.3 335,387.3 335,387.9 335.2,387.9 335.2,389.5 335.3,389.5 335.3,390.3 335.5,390.3 335.5,391.1 335.6,391.1 335.6,392.2 335.8,392.2 335.8,392.6 336,392.6 336,393.2 336.1,393.2 336.1,395.4 336.3,395.4 336.3,395.6 336.4,395.6 336.4,396.4 336.6,396.4 336.6,398.5 336.8,398.5 336.8,399.1 337.1,399.1 337.1,399.3 337.3,399.3 337.3,401 337.5,401 337.5,401.5 337.8,401.5 337.8,403.6 338,403.6 338,403.6 338.3,403.6 338.3,405.7 338.6,405.7 338.6,406.2 338.9,406.2 338.9,406.3 339.1,406.3 339.1,407.9 339.4,407.9 339.4,409.7 339.7,409.7 339.7,410.3 340.3,410.3 340.3,410.4 340.9,410.4 340.9,411.8 341.4,411.8 341.4,412.6 342,412.6 342,413.3 342.8,413.3 342.8,415 343.6,415 343.6,416 344.4,416 344.4,416.1 345.2,416.1 345.2,417.4 346,417.4 346,418.2" fill="#303030" stroke="#303030" stroke-width="0.5"/>
<polygon points="310,418.2 310.2,418.2 310.2,417.4 310.5,417.4 310.5,415.9 310.8,415.9 310.8,414.9 311,414.9 311,414.2 311.2,414.2 311.2,412.7 311.5,412.7 311.5,412.3 311.8,412.3 311.8,411.2 312,411.2 312,409.6 312.6,409.6 312.6,409.3 313.1,409.3 313.1,408.3 313.7,408.3 313.7,407.5 314.3,407.5 314.3,406.9 314.9,406.9 314.9,406.1 315.4,406.1 315.4,404.8 316,404.8 316,404.3 316.8,404.3 316.8,403.4 317.6,403.4 317.6,402.8 318.4,402.8 318.4,401.2 319.2,401.2 319.2,401.2 320,401.2 320,399.8 321,399.8 321,400.1 322,400.1 322,400.9 323,400.9 323,401.5 324,401.5 324,402 325,402 325,401.9 326,401.9 326,402.9 327,402.9 327,402.8 328,402.8 328,404.2 329,404.2 329,404.2 330,404.2 330,405 330.7,405 330.7,405.5 331.3,405.5 331.3,406.3 332,406.3 332,407.1 332.7,407.1 332.7,408.4 333.3,408.4 333.3,409.2 334,409.2 334,410.3 334.2,410.3 334.2,411.3 334.5,411.3 334.5,412 334.8,412 334.8,413.4 335,413.4 335,413.9 335.2,413.9 335.2,415.4 335.5,415.4 335.5,416 335.8,416 335.8,417.5 336,417.5 336,418.2" fill="#5a5a5a" stroke="#5a5a5a" stroke-width="0.5"/>
<polyline points="283,409 283.6,409 283.6,408.2 284.2,408.2 284.2,407.2 284.8,407.2 284.8,406.5 285.4,406.5 285.4,404.6 286,404.6 286,403.5 287.1,403.5 287.1,403.9 288.1,403.9 288.1,402.8 289.2,402.8 289.2,402.3 290.3,402.3 290.3,402.4 291.6,402.4 291.6,401.1 293,401.1 293,401.5 294.2,401.5 294.2,400.7 295.3,400.7 295.3,399.8 296.5,399.8 296.5,400.5 297,400.5 297,399.2 297.4,399.2 297.4,397.7 297.9,397.7 297.9,397.6 298.3,397.6 298.3,396.6 298.8,396.6 298.8,395.7 299.2,395.7 299.2,394.7 299.7,394.7 299.7,394.1 300.1,394.1 300.1,392 300.6,392 300.6,392.3 300.9,392.3 300.9,390.8 301.1,390.8 301.1,389.4 301.4,389.4 301.4,388.8 301.6,388.8 301.6,387.4 301.9,387.4 301.9,386.8 302.1,386.8 302.1,385.8 302.4,385.8 302.4,384.6 302.7,384.6 302.7,383 302.9,383 302.9,382.3 303.2,382.3 303.2,381.2 303.4,381.2 303.4,380.7 303.7,380.7 303.7,379.9 304.5,379.9 304.5,378.9 305.2,378.9 305.2,377.8 306,377.8 306,376.6 307,376.6 307,377.6 307.9,377.6 307.9,377.4 308.9,377.4 308.9,378.6 309.3,378.6 309.3,378.6 309.7,378.6 309.7,380.6 310.2,380.6 310.2,380.4 310.6,380.4 310.6,382.3 311,382.3 311,382.8 311.4,382.8 311.4,384 311.8,384 311.8,384.7 312.2,384.7 312.2,385.5 312.6,385.5 312.6,386.6 313,386.6 313,388 313.8,388 313.8,388.2 314.5,388.2 314.5,389 315.2,389 315.2,390.3 316,390.3 316,390.3 316.4,390.3 316.4,391.6 316.9,391.6 316.9,392.8 317.3,392.8 317.3,393.8 317.7,393.8 317.7,394.5 318.1,394.5 318.1,396.2 318.6,396.2 318.6,396.9 319,396.9 319,397.5 319.2,397.5 319.2,398.8 319.5,398.8 319.5,399.5 319.8,399.5 319.8,400.8 320,400.8 320,401.5 320.2,401.5 320.2,402.7 320.5,402.7 320.5,404.1 320.8,404.1 320.8,405.2 321,405.2 321,405.8 321.2,405.8 321.2,407 321.5,407 321.5,408 321.8,408 321.8,409.1 322,409.1 322,410.5 322.4,410.5 322.4,410.7 322.8,410.7 322.8,412.3 323.1,412.3 323.1,413.1 323.5,413.1 323.5,414.5 323.9,414.5 323.9,415.2 324.2,415.2 324.2,415.4 324.6,415.4 324.6,416.5 325,416.5 325,418" fill="none" stroke="#7c7c7c" stroke-width="1.35" stroke-linejoin="round"/>
<polyline points="282,395 282.2,395 282.2,393.5 282.4,393.5 282.4,392.6 282.7,392.6 282.7,392.1 282.9,392.1 282.9,390.6 283.1,390.6 283.1,389.6 283.3,389.6 283.3,389 283.6,389 283.6,387.9 283.8,387.9 283.8,386.7 284,386.7 284,385.9 284.4,385.9 284.4,385.3 284.7,385.3 284.7,383.4 285.1,383.4 285.1,382.3 285.5,382.3 285.5,381 285.8,381 285.8,380.2 286.2,380.2 286.2,378.9 286.6,378.9 286.6,378.9 287,378.9 287,377.1 287.4,377.1 287.4,376.8 287.8,376.8 287.8,374.7 288.2,374.7 288.2,374.6 288.6,374.6 288.6,373.1 289,373.1 289,372.2 289.8,372.2 289.8,371.2 290.6,371.2 290.6,369.7 291.4,369.7 291.4,368.7 292,368.7 292,370 292.6,370 292.6,370.2 293.3,370.2 293.3,370.8 293.9,370.8 293.9,372.5 294.5,372.5 294.5,373.2 295.5,373.2 295.5,372.4 296.5,372.4 296.5,372.4 297.5,372.4 297.5,372.5 297.8,372.5 297.8,372.8 298.1,372.8 298.1,373.6 298.3,373.6 298.3,375 298.6,375 298.6,375.8 298.9,375.8 298.9,377.1 299.2,377.1 299.2,377.7 299.5,377.7 299.5,379.6 299.8,379.6 299.8,380.7 300,380.7 300,381.3 300.3,381.3 300.3,382.3 300.6,382.3 300.6,383.2 300.9,383.2 300.9,385.1 301.3,385.1 301.3,386 301.6,386 301.6,386.8 302,386.8 302,387.2 302.3,387.2 302.3,388.2 302.6,388.2 302.6,390 303,390 303,390.3 303.3,390.3 303.3,391.9 303.7,391.9 303.7,392.6 304,392.6 304,393.2 304.4,393.2 304.4,394.4 304.7,394.4 304.7,396.3 305.2,396.3 305.2,396.5 305.8,396.5 305.8,397.8 306.3,397.8 306.3,398.8 306.8,398.8 306.8,399.3 307.3,399.3 307.3,400.3 307.8,400.3 307.8,401.6 308.4,401.6 308.4,402.4 308.9,402.4 308.9,403 309.7,403 309.7,403.7 310.5,403.7 310.5,404.1 311.4,404.1 311.4,404.7 312.2,404.7 312.2,405.6 313,405.6 313,405.7 313.6,405.7 313.6,407.3 314.1,407.3 314.1,407.5 314.7,407.5 314.7,408.2 315.3,408.2 315.3,410 315.9,410 315.9,409.7 316.4,409.7 316.4,411 317,411 317,412.1 317.6,412.1 317.6,412.8 318.1,412.8 318.1,414.1 318.7,414.1 318.7,414.8 319.3,414.8 319.3,415.4 319.9,415.4 319.9,415.7 320.4,415.7 320.4,417.7 321,417.7 321,418" fill="none" stroke="#000" stroke-width="1.2" stroke-linejoin="round"/>
<path d="M300 418 v-4 M303 418 v-3 M306 418 v-4" stroke="#222" stroke-width="1"/>
<polygon points="429.5,418.5 430.5,418.5 430.5,418 431.5,418 431.5,417.4 432.3,417.4 432.3,416.9 433.2,416.9 433.2,415.7 434,415.7 434,415 434.9,415 434.9,414 435.8,414 435.8,413.3 436.7,413.3 436.7,412.9 437,412.9 437,411.1 437.4,411.1 437.4,410.3 437.7,410.3 437.7,409.1 438,409.1 438,408.1 438.3,408.1 438.3,407.5 438.7,407.5 438.7,405.9 439,405.9 439,405.1 439.3,405.1 439.3,403.9 439.5,403.9 439.5,403.1 439.8,403.1 439.8,401.8 440,401.8 440,400.5 440.3,400.5 440.3,399.7 440.5,399.7 440.5,398.6 440.8,398.6 440.8,397.8 441,397.8 441,396.6 441.3,396.6 441.3,395.3 441.4,395.3 441.4,394.6 441.5,394.6 441.5,393.3 441.6,393.3 441.6,392.4 441.6,392.4 441.6,391.1 441.7,391.1 441.7,390.3 441.8,390.3 441.8,389.5 441.9,389.5 441.9,388.3 442,388.3 442,387.4 442.1,387.4 442.1,386.4 442.2,386.4 442.2,385.2 442.2,385.2 442.2,384.2 442.3,384.2 442.3,383 442.4,383 442.4,382.1 442.5,382.1 442.5,381.2 442.6,381.2 442.6,379.7 442.8,379.7 442.8,379.4 442.9,379.4 442.9,377.9 443,377.9 443,376.7 443.1,376.7 443.1,375.7 443.3,375.7 443.3,374.9 443.4,374.9 443.4,373.7 443.5,373.7 443.5,372.9 443.7,372.9 443.7,371.9 443.8,371.9 443.8,371.1 443.9,371.1 443.9,370 444.1,370 444.1,369.3 444.2,369.3 444.2,368.1 444.3,368.1 444.3,366.9 444.5,366.9 444.5,366.3 444.6,366.3 444.6,365.2 444.7,365.2 444.7,364.4 444.9,364.4 444.9,363.2 445,363.2 445,362.4 445.4,362.4 445.4,360.8 445.8,360.8 445.8,359.8 446.2,359.8 446.2,359.4 446.6,359.4 446.6,357.6 447,357.6 447,357.3 447.5,357.3 447.5,358.3 448,358.3 448,358.7 448.5,358.7 448.5,359.7 449.2,359.7 449.2,361.3 450,361.3 450,362.4 450.2,362.4 450.2,363.3 450.4,363.3 450.4,364.2 450.6,364.2 450.6,365.2 450.8,365.2 450.8,365.8 450.9,365.8 450.9,366.6 451.1,366.6 451.1,368.1 451.3,368.1 451.3,369.3 451.5,369.3 451.5,370.4 451.6,370.4 451.6,371 451.8,371 451.8,371.6 451.9,371.6 451.9,372.7 452,372.7 452,374 452.1,374 452.1,374.8 452.3,374.8 452.3,375.6 452.4,375.6 452.4,376.8 452.5,376.8 452.5,378 452.7,378 452.7,378.7 452.8,378.7 452.8,379.7 452.9,379.7 452.9,380.7 453,380.7 453,381.6 453.1,381.6 453.1,383.2 453.3,383.2 453.3,384.3 453.4,384.3 453.4,384.8 453.5,384.8 453.5,386.1 453.6,386.1 453.6,387.3 453.7,387.3 453.7,387.8 453.9,387.8 453.9,388.9 454,388.9 454,390.3 454.1,390.3 454.1,391.2 454.2,391.2 454.2,392.1 454.3,392.1 454.3,393.2 454.5,393.2 454.5,394.1 454.6,394.1 454.6,394.9 454.7,394.9 454.7,396.1 454.9,396.1 454.9,397.2 455,397.2 455,397.6 455.1,397.6 455.1,398.9 455.2,398.9 455.2,399.8 455.4,399.8 455.4,401.3 455.5,401.3 455.5,401.8 455.7,401.8 455.7,403.1 455.9,403.1 455.9,403.9 456.1,403.9 456.1,404.9 456.2,404.9 456.2,406 456.4,406 456.4,407.3 456.6,407.3 456.6,408.1 456.8,408.1 456.8,408.9 457,408.9 457,409.7 457.4,409.7 457.4,410.9 457.7,410.9 457.7,412.1 458.1,412.1 458.1,413.3 458.4,413.3 458.4,414.6 458.8,414.6 458.8,415.2 459.1,415.2 459.1,416.7 459.4,416.7 459.4,417.8 459.8,417.8 459.8,418.5" fill="#454545" stroke="#454545" stroke-width="0.5"/>
<polyline points="442,400 442.1,400 442.1,399 442.2,399 442.2,397.9 442.3,397.9 442.3,396.7 442.4,396.7 442.4,396.1 442.5,396.1 442.5,394.8 442.6,394.8 442.6,393.9 442.7,393.9 442.7,392.9 442.8,392.9 442.8,392.1 442.9,392.1 442.9,391.3 443,391.3 443,390 443.1,390 443.1,389.3 443.2,389.3 443.2,388.3 443.3,388.3 443.3,386.8 443.4,386.8 443.4,385.7 443.5,385.7 443.5,384.8 443.6,384.8 443.6,384.2 443.7,384.2 443.7,383.1 443.8,383.1 443.8,382.3 443.9,382.3 443.9,381.3 444,381.3 444,380.1 444.1,380.1 444.1,379 444.2,379 444.2,377.7 444.3,377.7 444.3,376.7 444.4,376.7 444.4,376.2 444.5,376.2 444.5,375.1 444.6,375.1 444.6,374.2 444.7,374.2 444.7,373 444.8,373 444.8,372.1 444.9,372.1 444.9,371.1 445,371.1 445,370.2 445.1,370.2 445.1,368.8 445.3,368.8 445.3,368 445.4,368 445.4,366.9 445.6,366.9 445.6,366.2 445.8,366.2 445.8,365.2 445.9,365.2 445.9,363.9 446.1,363.9 446.1,362.7 446.2,362.7 446.2,361.8 446.4,361.8 446.4,360.9 446.5,360.9 446.5,360.2 446.6,360.2 446.6,358.9 446.7,358.9 446.7,358.1 446.8,358.1 446.8,356.9 446.9,356.9 446.9,356 447,356 447,354.8 447.1,354.8 447.1,354.1 447.2,354.1 447.2,353 447.3,353 447.3,352.2 447.4,352.2 447.4,351.3 447.5,351.3 447.5,350 448,350 448,350.7 448.5,350.7 448.5,352.3 448.6,352.3 448.6,353.3 448.7,353.3 448.7,354 448.8,354 448.8,355 448.9,355 448.9,356.3 449,356.3 449,356.9 449.1,356.9 449.1,357.9 449.2,357.9 449.2,359.1 449.3,359.1 449.3,360.1 449.4,360.1 449.4,361.1 449.5,361.1 449.5,362.2 449.6,362.2 449.6,363 449.7,363 449.7,364 449.8,364 449.8,364.8 450,364.8 450,365.8 450.1,365.8 450.1,366.9 450.2,366.9 450.2,368 450.3,368 450.3,369.1 450.4,369.1 450.4,370.1 450.5,370.1 450.5,371 450.7,371 450.7,371.9 450.8,371.9 450.8,373.1 450.9,373.1 450.9,373.9 451,373.9 451,375.2 451.1,375.2 451.1,376.1 451.2,376.1 451.2,377.1 451.3,377.1 451.3,377.9 451.4,377.9 451.4,379 451.5,379 451.5,380.1 451.6,380.1 451.6,381.3 451.7,381.3 451.7,382 451.8,382 451.8,382.9 451.9,382.9 451.9,384.1 452,384.1 452,384.8 452.1,384.8 452.1,385.9 452.2,385.9 452.2,386.7 452.3,386.7 452.3,388 452.4,388 452.4,388.9 452.5,388.9 452.5,389.9 452.6,389.9 452.6,391.2 452.7,391.2 452.7,392.1 452.8,392.1 452.8,392.7 452.9,392.7 452.9,394 453,394 453,394.7 453.1,394.7 453.1,396.2 453.2,396.2 453.2,397 453.3,397 453.3,398.2 453.4,398.2 453.4,398.9 453.5,398.9 453.5,400.2 453.6,400.2 453.6,400.8 453.7,400.8 453.7,402.2 453.8,402.2 453.8,402.9 453.9,402.9 453.9,403.7 454,403.7 454,405" fill="none" stroke="#8a8a8a" stroke-width="1.0" stroke-linejoin="round"/>
<polyline points="429,418.5 430.2,418.5 430.2,417.5 431.5,417.5 431.5,416.8 432.3,416.8 432.3,416.1 433.2,416.1 433.2,415.4 434,415.4 434,414.3 434.9,414.3 434.9,413.5 435.8,413.5 435.8,412.9 436.7,412.9 436.7,412.5 437,412.5 437,411 437.4,411 437.4,410.3 437.7,410.3 437.7,409.2 438,409.2 438,407.8 438.3,407.8 438.3,407 438.7,407 438.7,405.8 439,405.8 439,404.7 439.2,404.7 439.2,404.1 439.5,404.1 439.5,402.6 439.7,402.6 439.7,401.6 439.9,401.6 439.9,401.1 440.1,401.1 440.1,399.8 440.4,399.8 440.4,398.7 440.6,398.7 440.6,397.8 440.8,397.8 440.8,396.9 441.1,396.9 441.1,396.3 441.3,396.3 441.3,394.8 441.4,394.8 441.4,393.8 441.5,393.8 441.5,393.1 441.5,393.1 441.5,392 441.6,392 441.6,391.3 441.7,391.3 441.7,390.2 441.8,390.2 441.8,388.9 441.9,388.9 441.9,387.8 441.9,387.8 441.9,387.2 442,387.2 442,386.3 442.1,386.3 442.1,384.7 442.2,384.7 442.2,384.1 442.3,384.1 442.3,383.2 442.3,383.2 442.3,382.1 442.4,382.1 442.4,380.8 442.5,380.8 442.5,380.2 442.6,380.2 442.6,379.1 442.8,379.1 442.8,377.8 442.9,377.8 442.9,377.1 443,377.1 443,375.8 443.1,375.8 443.1,374.7 443.3,374.7 443.3,373.9 443.4,373.9 443.4,372.9 443.5,372.9 443.5,371.9 443.7,371.9 443.7,371.1 443.8,371.1 443.8,370.2 443.9,370.2 443.9,369.3 443.9,369.3 443.9,368.3 444,368.3 444,367.3 444.1,367.3 444.1,366.2 444.1,366.2 444.1,364.9 444.2,364.9 444.2,363.8 444.3,363.8 444.3,363.1 444.3,363.1 444.3,362 444.4,362 444.4,361.1 444.5,361.1 444.5,359.8 444.5,359.8 444.5,358.8 444.6,358.8 444.6,358.3 444.7,358.3 444.7,357.1 444.7,357.1 444.7,356.1 444.8,356.1 444.8,354.8 445,354.8 445,353.9 445.1,353.9 445.1,353.2 445.3,353.2 445.3,352.1 445.5,352.1 445.5,351.3 445.6,351.3 445.6,349.8 445.8,349.8 445.8,349 446,349 446,348.2 446.2,348.2 446.2,347 446.3,347 446.3,346.2 446.5,346.2 446.5,345 446.7,345 446.7,343.7 447,343.7 447,342.7 447.2,342.7 447.2,342.2 447.5,342.2 447.5,340.6 447.7,340.6 447.7,339.6 448,339.6 448,338.6 448.2,338.6 448.2,337.8 448.5,337.8 448.5,339 448.8,339 448.8,339.8 449.1,339.8 449.1,340.9 449.4,340.9 449.4,342.1 449.7,342.1 449.7,342.9 449.8,342.9 449.8,343.9 449.9,343.9 449.9,345.1 450,345.1 450,346.1 450.1,346.1 450.1,346.7 450.2,346.7 450.2,347.8 450.3,347.8 450.3,348.8 450.4,348.8 450.4,350.1 450.5,350.1 450.5,351.1 450.6,351.1 450.6,352.3 450.7,352.3 450.7,353.2 450.8,353.2 450.8,353.9 450.9,353.9 450.9,355.2 450.9,355.2 450.9,356.3 451,356.3 451,356.9 451.1,356.9 451.1,357.7 451.1,357.7 451.1,358.9 451.2,358.9 451.2,359.9 451.3,359.9 451.3,360.8 451.4,360.8 451.4,361.7 451.5,361.7 451.5,362.8 451.5,362.8 451.5,364.2 451.6,364.2 451.6,364.7 451.7,364.7 451.7,366.1 451.7,366.1 451.7,366.8 451.8,366.8 451.8,367.8 451.9,367.8 451.9,369.2 451.9,369.2 451.9,369.9 452,369.9 452,370.8 452.1,370.8 452.1,372 452.2,372 452.2,373.1 452.2,373.1 452.2,374 452.3,374 452.3,375.2 452.4,375.2 452.4,375.9 452.4,375.9 452.4,377 452.5,377 452.5,378.1 452.6,378.1 452.6,379 452.7,379 452.7,380.1 452.8,380.1 452.8,381 452.8,381 452.8,381.8 452.9,381.8 452.9,382.8 453,382.8 453,384.2 453.1,384.2 453.1,385.1 453.2,385.1 453.2,386.3 453.2,386.3 453.2,387.1 453.3,387.1 453.3,388 453.4,388 453.4,388.8 453.5,388.8 453.5,390.2 453.8,390.2 453.8,390.8 454.1,390.8 454.1,392 454.4,392 454.4,392.8 454.6,392.8 454.6,393.9 454.9,393.9 454.9,394.9 455.2,394.9 455.2,396 455.5,396 455.5,397.1 455.8,397.1 455.8,398 456.4,398 456.4,398.8 456.9,398.8 456.9,400.2 457.5,400.2 457.5,401.1 458.1,401.1 458.1,402.1 458.7,402.1 458.7,402.5 459.2,402.5 459.2,403.7 459.8,403.7 459.8,404.8 460.4,404.8 460.4,405.3 461,405.3 461,406.2 461.5,406.2 461.5,407.6 462.1,407.6 462.1,408.3 462.7,408.3 462.7,409.3 463.3,409.3 463.3,410.5 463.8,410.5 463.8,411.2 464.4,411.2 464.4,412.1 465.1,412.1 465.1,413.1 465.9,413.1 465.9,414.2 466.6,414.2 466.6,415.4 467.3,415.4 467.3,416.2 468.2,416.2 468.2,416.9 469.2,416.9 469.2,416.9 470.1,416.9 470.1,417.5 471.1,417.5 471.1,418.1 472,418.1 472,418.5" fill="none" stroke="#000" stroke-width="1.25" stroke-linejoin="round"/>
<rect x="23" y="207.5" width="105.5" height="89.5" fill="none" stroke="#333" stroke-width="1.1"/>
<path d="M23 297v2.8M30.9 297v1.8M35.6 297v1.8M38.9 297v1.8M41.4 297v1.8M43.5 297v1.8M45.3 297v1.8M46.8 297v1.8M48.2 297v1.8M49.4 297v2.8M57.3 297v1.8M62 297v1.8M65.3 297v1.8M67.8 297v1.8M69.9 297v1.8M71.7 297v1.8M73.2 297v1.8M74.5 297v1.8M75.8 297v2.8M83.7 297v1.8M88.3 297v1.8M91.6 297v1.8M94.2 297v1.8M96.3 297v1.8M98 297v1.8M99.6 297v1.8M100.9 297v1.8M102.1 297v2.8M110.1 297v1.8M114.7 297v1.8M118 297v1.8M120.6 297v1.8M122.6 297v1.8M124.4 297v1.8M125.9 297v1.8M127.3 297v1.8M128.5 297v2.8" stroke="#333" stroke-width="0.8" fill="none"/>
<path d="M23 297h-3.8M23 294.5h-2.6M23 292h-2.6M23 289.5h-2.6M23 287.1h-2.6M23 284.6h-2.6M23 282.1h-3.8M23 279.6h-2.6M23 277.1h-2.6M23 274.6h-2.6M23 272.1h-2.6M23 269.7h-2.6M23 267.2h-3.8M23 264.7h-2.6M23 262.2h-2.6M23 259.7h-2.6M23 257.2h-2.6M23 254.7h-2.6M23 252.2h-3.8M23 249.8h-2.6M23 247.3h-2.6M23 244.8h-2.6M23 242.3h-2.6M23 239.8h-2.6M23 237.3h-3.8M23 234.8h-2.6M23 232.4h-2.6M23 229.9h-2.6M23 227.4h-2.6M23 224.9h-2.6M23 222.4h-3.8M23 219.9h-2.6M23 217.4h-2.6M23 215h-2.6M23 212.5h-2.6M23 210h-2.6M23 207.5h-3.8" stroke="#333" stroke-width="0.9" fill="none"/>
<text x="18.8" y="308.3" style="font-family:'Liberation Sans',sans-serif;font-size:7.0px" fill="#1a1a1a" stroke="#1a1a1a" stroke-width="0.2" textLength="6.6" lengthAdjust="spacingAndGlyphs">10</text>
<text x="25.8" y="303.7" style="font-family:'Liberation Sans',sans-serif;font-size:7.0px" fill="#1a1a1a" stroke="#1a1a1a" stroke-width="0.2">0</text>
<text x="45.2" y="308.3" style="font-family:'Liberation Sans',sans-serif;font-size:7.0px" fill="#1a1a1a" stroke="#1a1a1a" stroke-width="0.2" textLength="6.6" lengthAdjust="spacingAndGlyphs">10</text>
<text x="52.2" y="303.7" style="font-family:'Liberation Sans',sans-serif;font-size:7.0px" fill="#1a1a1a" stroke="#1a1a1a" stroke-width="0.2">1</text>
<text x="71.5" y="308.3" style="font-family:'Liberation Sans',sans-serif;font-size:7.0px" fill="#1a1a1a" stroke="#1a1a1a" stroke-width="0.2" textLength="6.6" lengthAdjust="spacingAndGlyphs">10</text>
<text x="78.5" y="303.7" style="font-family:'Liberation Sans',sans-serif;font-size:7.0px" fill="#1a1a1a" stroke="#1a1a1a" stroke-width="0.2">2</text>
<text x="97.9" y="308.3" style="font-family:'Liberation Sans',sans-serif;font-size:7.0px" fill="#1a1a1a" stroke="#1a1a1a" stroke-width="0.2" textLength="6.6" lengthAdjust="spacingAndGlyphs">10</text>
<text x="104.9" y="303.7" style="font-family:'Liberation Sans',sans-serif;font-size:7.0px" fill="#1a1a1a" stroke="#1a1a1a" stroke-width="0.2">3</text>
<text x="124.3" y="308.3" style="font-family:'Liberation Sans',sans-serif;font-size:7.0px" fill="#1a1a1a" stroke="#1a1a1a" stroke-width="0.2" textLength="6.6" lengthAdjust="spacingAndGlyphs">10</text>
<text x="131.3" y="303.7" style="font-family:'Liberation Sans',sans-serif;font-size:7.0px" fill="#1a1a1a" stroke="#1a1a1a" stroke-width="0.2">4</text>
<rect x="151.2" y="207.5" width="103.8" height="89.5" fill="none" stroke="#333" stroke-width="1.1"/>
<path d="M151.2 297v2.8M159 297v1.8M163.6 297v1.8M166.8 297v1.8M169.3 297v1.8M171.4 297v1.8M173.1 297v1.8M174.6 297v1.8M176 297v1.8M177.1 297v2.8M185 297v1.8M189.5 297v1.8M192.8 297v1.8M195.3 297v1.8M197.3 297v1.8M199.1 297v1.8M200.6 297v1.8M201.9 297v1.8M203.1 297v2.8M210.9 297v1.8M215.5 297v1.8M218.7 297v1.8M221.2 297v1.8M223.3 297v1.8M225 297v1.8M226.5 297v1.8M227.9 297v1.8M229.1 297v2.8M236.9 297v1.8M241.4 297v1.8M244.7 297v1.8M247.2 297v1.8M249.2 297v1.8M251 297v1.8M252.5 297v1.8M253.8 297v1.8M255 297v2.8" stroke="#333" stroke-width="0.8" fill="none"/>
<path d="M151.2 297h-3.8M151.2 294.5h-2.6M151.2 292h-2.6M151.2 289.5h-2.6M151.2 287.1h-2.6M151.2 284.6h-2.6M151.2 282.1h-3.8M151.2 279.6h-2.6M151.2 277.1h-2.6M151.2 274.6h-2.6M151.2 272.1h-2.6M151.2 269.7h-2.6M151.2 267.2h-3.8M151.2 264.7h-2.6M151.2 262.2h-2.6M151.2 259.7h-2.6M151.2 257.2h-2.6M151.2 254.7h-2.6M151.2 252.2h-3.8M151.2 249.8h-2.6M151.2 247.3h-2.6M151.2 244.8h-2.6M151.2 242.3h-2.6M151.2 239.8h-2.6M151.2 237.3h-3.8M151.2 234.8h-2.6M151.2 232.4h-2.6M151.2 229.9h-2.6M151.2 227.4h-2.6M151.2 224.9h-2.6M151.2 222.4h-3.8M151.2 219.9h-2.6M151.2 217.4h-2.6M151.2 215h-2.6M151.2 212.5h-2.6M151.2 210h-2.6M151.2 207.5h-3.8" stroke="#333" stroke-width="0.9" fill="none"/>
<text x="147" y="308.3" style="font-family:'Liberation Sans',sans-serif;font-size:7.0px" fill="#1a1a1a" stroke="#1a1a1a" stroke-width="0.2" textLength="6.6" lengthAdjust="spacingAndGlyphs">10</text>
<text x="154" y="303.7" style="font-family:'Liberation Sans',sans-serif;font-size:7.0px" fill="#1a1a1a" stroke="#1a1a1a" stroke-width="0.2">0</text>
<text x="172.9" y="308.3" style="font-family:'Liberation Sans',sans-serif;font-size:7.0px" fill="#1a1a1a" stroke="#1a1a1a" stroke-width="0.2" textLength="6.6" lengthAdjust="spacingAndGlyphs">10</text>
<text x="179.9" y="303.7" style="font-family:'Liberation Sans',sans-serif;font-size:7.0px" fill="#1a1a1a" stroke="#1a1a1a" stroke-width="0.2">1</text>
<text x="198.9" y="308.3" style="font-family:'Liberation Sans',sans-serif;font-size:7.0px" fill="#1a1a1a" stroke="#1a1a1a" stroke-width="0.2" textLength="6.6" lengthAdjust="spacingAndGlyphs">10</text>
<text x="205.9" y="303.7" style="font-family:'Liberation Sans',sans-serif;font-size:7.0px" fill="#1a1a1a" stroke="#1a1a1a" stroke-width="0.2">2</text>
<text x="224.8" y="308.3" style="font-family:'Liberation Sans',sans-serif;font-size:7.0px" fill="#1a1a1a" stroke="#1a1a1a" stroke-width="0.2" textLength="6.6" lengthAdjust="spacingAndGlyphs">10</text>
<text x="231.8" y="303.7" style="font-family:'Liberation Sans',sans-serif;font-size:7.0px" fill="#1a1a1a" stroke="#1a1a1a" stroke-width="0.2">3</text>
<text x="250.8" y="308.3" style="font-family:'Liberation Sans',sans-serif;font-size:7.0px" fill="#1a1a1a" stroke="#1a1a1a" stroke-width="0.2" textLength="6.6" lengthAdjust="spacingAndGlyphs">10</text>
<text x="257.8" y="303.7" style="font-family:'Liberation Sans',sans-serif;font-size:7.0px" fill="#1a1a1a" stroke="#1a1a1a" stroke-width="0.2">4</text>
<rect x="279.2" y="206.8" width="105.4" height="90.2" fill="none" stroke="#333" stroke-width="1.1"/>
<path d="M279.2 297v2.8M287.1 297v1.8M291.8 297v1.8M295.1 297v1.8M297.6 297v1.8M299.7 297v1.8M301.5 297v1.8M303 297v1.8M304.3 297v1.8M305.6 297v2.8M313.5 297v1.8M318.1 297v1.8M321.4 297v1.8M324 297v1.8M326.1 297v1.8M327.8 297v1.8M329.3 297v1.8M330.7 297v1.8M331.9 297v2.8M339.8 297v1.8M344.5 297v1.8M347.8 297v1.8M350.3 297v1.8M352.4 297v1.8M354.2 297v1.8M355.7 297v1.8M357 297v1.8M358.2 297v2.8M366.2 297v1.8M370.8 297v1.8M374.1 297v1.8M376.7 297v1.8M378.8 297v1.8M380.5 297v1.8M382 297v1.8M383.4 297v1.8M384.6 297v2.8" stroke="#333" stroke-width="0.8" fill="none"/>
<path d="M279.2 297h-3.8M279.2 294.5h-2.6M279.2 292h-2.6M279.2 289.5h-2.6M279.2 287h-2.6M279.2 284.5h-2.6M279.2 282h-3.8M279.2 279.5h-2.6M279.2 277h-2.6M279.2 274.4h-2.6M279.2 271.9h-2.6M279.2 269.4h-2.6M279.2 266.9h-3.8M279.2 264.4h-2.6M279.2 261.9h-2.6M279.2 259.4h-2.6M279.2 256.9h-2.6M279.2 254.4h-2.6M279.2 251.9h-3.8M279.2 249.4h-2.6M279.2 246.9h-2.6M279.2 244.4h-2.6M279.2 241.9h-2.6M279.2 239.4h-2.6M279.2 236.9h-3.8M279.2 234.4h-2.6M279.2 231.9h-2.6M279.2 229.4h-2.6M279.2 226.8h-2.6M279.2 224.3h-2.6M279.2 221.8h-3.8M279.2 219.3h-2.6M279.2 216.8h-2.6M279.2 214.3h-2.6M279.2 211.8h-2.6M279.2 209.3h-2.6M279.2 206.8h-3.8" stroke="#333" stroke-width="0.9" fill="none"/>
<text x="275" y="308.3" style="font-family:'Liberation Sans',sans-serif;font-size:7.0px" fill="#1a1a1a" stroke="#1a1a1a" stroke-width="0.2" textLength="6.6" lengthAdjust="spacingAndGlyphs">10</text>
<text x="282" y="303.7" style="font-family:'Liberation Sans',sans-serif;font-size:7.0px" fill="#1a1a1a" stroke="#1a1a1a" stroke-width="0.2">0</text>
<text x="301.4" y="308.3" style="font-family:'Liberation Sans',sans-serif;font-size:7.0px" fill="#1a1a1a" stroke="#1a1a1a" stroke-width="0.2" textLength="6.6" lengthAdjust="spacingAndGlyphs">10</text>
<text x="308.4" y="303.7" style="font-family:'Liberation Sans',sans-serif;font-size:7.0px" fill="#1a1a1a" stroke="#1a1a1a" stroke-width="0.2">1</text>
<text x="327.7" y="308.3" style="font-family:'Liberation Sans',sans-serif;font-size:7.0px" fill="#1a1a1a" stroke="#1a1a1a" stroke-width="0.2" textLength="6.6" lengthAdjust="spacingAndGlyphs">10</text>
<text x="334.7" y="303.7" style="font-family:'Liberation Sans',sans-serif;font-size:7.0px" fill="#1a1a1a" stroke="#1a1a1a" stroke-width="0.2">2</text>
<text x="354.1" y="308.3" style="font-family:'Liberation Sans',sans-serif;font-size:7.0px" fill="#1a1a1a" stroke="#1a1a1a" stroke-width="0.2" textLength="6.6" lengthAdjust="spacingAndGlyphs">10</text>
<text x="361.1" y="303.7" style="font-family:'Liberation Sans',sans-serif;font-size:7.0px" fill="#1a1a1a" stroke="#1a1a1a" stroke-width="0.2">3</text>
<text x="380.4" y="308.3" style="font-family:'Liberation Sans',sans-serif;font-size:7.0px" fill="#1a1a1a" stroke="#1a1a1a" stroke-width="0.2" textLength="6.6" lengthAdjust="spacingAndGlyphs">10</text>
<text x="387.4" y="303.7" style="font-family:'Liberation Sans',sans-serif;font-size:7.0px" fill="#1a1a1a" stroke="#1a1a1a" stroke-width="0.2">4</text>
<rect x="406.5" y="206.3" width="106.2" height="90.7" fill="none" stroke="#333" stroke-width="1.1"/>
<path d="M406.5 297v2.8M414.5 297v1.8M419.2 297v1.8M422.5 297v1.8M425.1 297v1.8M427.2 297v1.8M428.9 297v1.8M430.5 297v1.8M431.8 297v1.8M433.1 297v2.8M441 297v1.8M445.7 297v1.8M449 297v1.8M451.6 297v1.8M453.7 297v1.8M455.5 297v1.8M457 297v1.8M458.4 297v1.8M459.6 297v2.8M467.6 297v1.8M472.3 297v1.8M475.6 297v1.8M478.2 297v1.8M480.3 297v1.8M482 297v1.8M483.6 297v1.8M484.9 297v1.8M486.2 297v2.8M494.1 297v1.8M498.8 297v1.8M502.1 297v1.8M504.7 297v1.8M506.8 297v1.8M508.6 297v1.8M510.1 297v1.8M511.5 297v1.8M512.7 297v2.8" stroke="#333" stroke-width="0.8" fill="none"/>
<path d="M406.5 297h-3.8M406.5 294.5h-2.6M406.5 292h-2.6M406.5 289.4h-2.6M406.5 286.9h-2.6M406.5 284.4h-2.6M406.5 281.9h-3.8M406.5 279.4h-2.6M406.5 276.8h-2.6M406.5 274.3h-2.6M406.5 271.8h-2.6M406.5 269.3h-2.6M406.5 266.8h-3.8M406.5 264.2h-2.6M406.5 261.7h-2.6M406.5 259.2h-2.6M406.5 256.7h-2.6M406.5 254.2h-2.6M406.5 251.7h-3.8M406.5 249.1h-2.6M406.5 246.6h-2.6M406.5 244.1h-2.6M406.5 241.6h-2.6M406.5 239.1h-2.6M406.5 236.5h-3.8M406.5 234h-2.6M406.5 231.5h-2.6M406.5 229h-2.6M406.5 226.5h-2.6M406.5 223.9h-2.6M406.5 221.4h-3.8M406.5 218.9h-2.6M406.5 216.4h-2.6M406.5 213.9h-2.6M406.5 211.3h-2.6M406.5 208.8h-2.6M406.5 206.3h-3.8" stroke="#333" stroke-width="0.9" fill="none"/>
<text x="402.3" y="308.3" style="font-family:'Liberation Sans',sans-serif;font-size:7.0px" fill="#1a1a1a" stroke="#1a1a1a" stroke-width="0.2" textLength="6.6" lengthAdjust="spacingAndGlyphs">10</text>
<text x="409.3" y="303.7" style="font-family:'Liberation Sans',sans-serif;font-size:7.0px" fill="#1a1a1a" stroke="#1a1a1a" stroke-width="0.2">0</text>
<text x="428.9" y="308.3" style="font-family:'Liberation Sans',sans-serif;font-size:7.0px" fill="#1a1a1a" stroke="#1a1a1a" stroke-width="0.2" textLength="6.6" lengthAdjust="spacingAndGlyphs">10</text>
<text x="435.9" y="303.7" style="font-family:'Liberation Sans',sans-serif;font-size:7.0px" fill="#1a1a1a" stroke="#1a1a1a" stroke-width="0.2">1</text>
<text x="455.4" y="308.3" style="font-family:'Liberation Sans',sans-serif;font-size:7.0px" fill="#1a1a1a" stroke="#1a1a1a" stroke-width="0.2" textLength="6.6" lengthAdjust="spacingAndGlyphs">10</text>
<text x="462.4" y="303.7" style="font-family:'Liberation Sans',sans-serif;font-size:7.0px" fill="#1a1a1a" stroke="#1a1a1a" stroke-width="0.2">2</text>
<text x="482" y="308.3" style="font-family:'Liberation Sans',sans-serif;font-size:7.0px" fill="#1a1a1a" stroke="#1a1a1a" stroke-width="0.2" textLength="6.6" lengthAdjust="spacingAndGlyphs">10</text>
<text x="489" y="303.7" style="font-family:'Liberation Sans',sans-serif;font-size:7.0px" fill="#1a1a1a" stroke="#1a1a1a" stroke-width="0.2">3</text>
<text x="508.5" y="308.3" style="font-family:'Liberation Sans',sans-serif;font-size:7.0px" fill="#1a1a1a" stroke="#1a1a1a" stroke-width="0.2" textLength="6.6" lengthAdjust="spacingAndGlyphs">10</text>
<text x="515.5" y="303.7" style="font-family:'Liberation Sans',sans-serif;font-size:7.0px" fill="#1a1a1a" stroke="#1a1a1a" stroke-width="0.2">4</text>
<rect x="24" y="327.8" width="105.4" height="90.7" fill="none" stroke="#333" stroke-width="1.1"/>
<path d="M24 418.5v2.8M31.9 418.5v1.8M36.6 418.5v1.8M39.9 418.5v1.8M42.4 418.5v1.8M44.5 418.5v1.8M46.3 418.5v1.8M47.8 418.5v1.8M49.1 418.5v1.8M50.4 418.5v2.8M58.3 418.5v1.8M62.9 418.5v1.8M66.2 418.5v1.8M68.8 418.5v1.8M70.9 418.5v1.8M72.6 418.5v1.8M74.1 418.5v1.8M75.5 418.5v1.8M76.7 418.5v2.8M84.6 418.5v1.8M89.3 418.5v1.8M92.6 418.5v1.8M95.1 418.5v1.8M97.2 418.5v1.8M99 418.5v1.8M100.5 418.5v1.8M101.8 418.5v1.8M103.1 418.5v2.8M111 418.5v1.8M115.6 418.5v1.8M118.9 418.5v1.8M121.5 418.5v1.8M123.6 418.5v1.8M125.3 418.5v1.8M126.8 418.5v1.8M128.2 418.5v1.8M129.4 418.5v2.8" stroke="#333" stroke-width="0.8" fill="none"/>
<path d="M24 418.5h-3.8M24 416h-2.6M24 413.5h-2.6M24 410.9h-2.6M24 408.4h-2.6M24 405.9h-2.6M24 403.4h-3.8M24 400.9h-2.6M24 398.3h-2.6M24 395.8h-2.6M24 393.3h-2.6M24 390.8h-2.6M24 388.3h-3.8M24 385.7h-2.6M24 383.2h-2.6M24 380.7h-2.6M24 378.2h-2.6M24 375.7h-2.6M24 373.1h-3.8M24 370.6h-2.6M24 368.1h-2.6M24 365.6h-2.6M24 363.1h-2.6M24 360.6h-2.6M24 358h-3.8M24 355.5h-2.6M24 353h-2.6M24 350.5h-2.6M24 348h-2.6M24 345.4h-2.6M24 342.9h-3.8M24 340.4h-2.6M24 337.9h-2.6M24 335.4h-2.6M24 332.8h-2.6M24 330.3h-2.6M24 327.8h-3.8" stroke="#333" stroke-width="0.9" fill="none"/>
<text x="19.8" y="429.8" style="font-family:'Liberation Sans',sans-serif;font-size:7.0px" fill="#1a1a1a" stroke="#1a1a1a" stroke-width="0.2" textLength="6.6" lengthAdjust="spacingAndGlyphs">10</text>
<text x="26.8" y="425.2" style="font-family:'Liberation Sans',sans-serif;font-size:7.0px" fill="#1a1a1a" stroke="#1a1a1a" stroke-width="0.2">0</text>
<text x="46.2" y="429.8" style="font-family:'Liberation Sans',sans-serif;font-size:7.0px" fill="#1a1a1a" stroke="#1a1a1a" stroke-width="0.2" textLength="6.6" lengthAdjust="spacingAndGlyphs">10</text>
<text x="53.2" y="425.2" style="font-family:'Liberation Sans',sans-serif;font-size:7.0px" fill="#1a1a1a" stroke="#1a1a1a" stroke-width="0.2">1</text>
<text x="72.5" y="429.8" style="font-family:'Liberation Sans',sans-serif;font-size:7.0px" fill="#1a1a1a" stroke="#1a1a1a" stroke-width="0.2" textLength="6.6" lengthAdjust="spacingAndGlyphs">10</text>
<text x="79.5" y="425.2" style="font-family:'Liberation Sans',sans-serif;font-size:7.0px" fill="#1a1a1a" stroke="#1a1a1a" stroke-width="0.2">2</text>
<text x="98.9" y="429.8" style="font-family:'Liberation Sans',sans-serif;font-size:7.0px" fill="#1a1a1a" stroke="#1a1a1a" stroke-width="0.2" textLength="6.6" lengthAdjust="spacingAndGlyphs">10</text>
<text x="105.9" y="425.2" style="font-family:'Liberation Sans',sans-serif;font-size:7.0px" fill="#1a1a1a" stroke="#1a1a1a" stroke-width="0.2">3</text>
<text x="125.2" y="429.8" style="font-family:'Liberation Sans',sans-serif;font-size:7.0px" fill="#1a1a1a" stroke="#1a1a1a" stroke-width="0.2" textLength="6.6" lengthAdjust="spacingAndGlyphs">10</text>
<text x="132.2" y="425.2" style="font-family:'Liberation Sans',sans-serif;font-size:7.0px" fill="#1a1a1a" stroke="#1a1a1a" stroke-width="0.2">4</text>
<rect x="152.7" y="328.8" width="103.8" height="89.8" fill="none" stroke="#333" stroke-width="1.1"/>
<path d="M152.7 418.6v2.8M160.5 418.6v1.8M165.1 418.6v1.8M168.3 418.6v1.8M170.8 418.6v1.8M172.9 418.6v1.8M174.6 418.6v1.8M176.1 418.6v1.8M177.5 418.6v1.8M178.6 418.6v2.8M186.5 418.6v1.8M191 418.6v1.8M194.3 418.6v1.8M196.8 418.6v1.8M198.8 418.6v1.8M200.6 418.6v1.8M202.1 418.6v1.8M203.4 418.6v1.8M204.6 418.6v2.8M212.4 418.6v1.8M217 418.6v1.8M220.2 418.6v1.8M222.7 418.6v1.8M224.8 418.6v1.8M226.5 418.6v1.8M228 418.6v1.8M229.4 418.6v1.8M230.6 418.6v2.8M238.4 418.6v1.8M242.9 418.6v1.8M246.2 418.6v1.8M248.7 418.6v1.8M250.7 418.6v1.8M252.5 418.6v1.8M254 418.6v1.8M255.3 418.6v1.8M256.5 418.6v2.8" stroke="#333" stroke-width="0.8" fill="none"/>
<path d="M152.7 418.6h-3.8M152.7 416.1h-2.6M152.7 413.6h-2.6M152.7 411.1h-2.6M152.7 408.6h-2.6M152.7 406.1h-2.6M152.7 403.6h-3.8M152.7 401.1h-2.6M152.7 398.6h-2.6M152.7 396.2h-2.6M152.7 393.7h-2.6M152.7 391.2h-2.6M152.7 388.7h-3.8M152.7 386.2h-2.6M152.7 383.7h-2.6M152.7 381.2h-2.6M152.7 378.7h-2.6M152.7 376.2h-2.6M152.7 373.7h-3.8M152.7 371.2h-2.6M152.7 368.7h-2.6M152.7 366.2h-2.6M152.7 363.7h-2.6M152.7 361.2h-2.6M152.7 358.7h-3.8M152.7 356.2h-2.6M152.7 353.7h-2.6M152.7 351.2h-2.6M152.7 348.8h-2.6M152.7 346.3h-2.6M152.7 343.8h-3.8M152.7 341.3h-2.6M152.7 338.8h-2.6M152.7 336.3h-2.6M152.7 333.8h-2.6M152.7 331.3h-2.6M152.7 328.8h-3.8" stroke="#333" stroke-width="0.9" fill="none"/>
<text x="148.5" y="429.9" style="font-family:'Liberation Sans',sans-serif;font-size:7.0px" fill="#1a1a1a" stroke="#1a1a1a" stroke-width="0.2" textLength="6.6" lengthAdjust="spacingAndGlyphs">10</text>
<text x="155.5" y="425.3" style="font-family:'Liberation Sans',sans-serif;font-size:7.0px" fill="#1a1a1a" stroke="#1a1a1a" stroke-width="0.2">0</text>
<text x="174.4" y="429.9" style="font-family:'Liberation Sans',sans-serif;font-size:7.0px" fill="#1a1a1a" stroke="#1a1a1a" stroke-width="0.2" textLength="6.6" lengthAdjust="spacingAndGlyphs">10</text>
<text x="181.4" y="425.3" style="font-family:'Liberation Sans',sans-serif;font-size:7.0px" fill="#1a1a1a" stroke="#1a1a1a" stroke-width="0.2">1</text>
<text x="200.4" y="429.9" style="font-family:'Liberation Sans',sans-serif;font-size:7.0px" fill="#1a1a1a" stroke="#1a1a1a" stroke-width="0.2" textLength="6.6" lengthAdjust="spacingAndGlyphs">10</text>
<text x="207.4" y="425.3" style="font-family:'Liberation Sans',sans-serif;font-size:7.0px" fill="#1a1a1a" stroke="#1a1a1a" stroke-width="0.2">2</text>
<text x="226.3" y="429.9" style="font-family:'Liberation Sans',sans-serif;font-size:7.0px" fill="#1a1a1a" stroke="#1a1a1a" stroke-width="0.2" textLength="6.6" lengthAdjust="spacingAndGlyphs">10</text>
<text x="233.3" y="425.3" style="font-family:'Liberation Sans',sans-serif;font-size:7.0px" fill="#1a1a1a" stroke="#1a1a1a" stroke-width="0.2">3</text>
<text x="252.3" y="429.9" style="font-family:'Liberation Sans',sans-serif;font-size:7.0px" fill="#1a1a1a" stroke="#1a1a1a" stroke-width="0.2" textLength="6.6" lengthAdjust="spacingAndGlyphs">10</text>
<text x="259.3" y="425.3" style="font-family:'Liberation Sans',sans-serif;font-size:7.0px" fill="#1a1a1a" stroke="#1a1a1a" stroke-width="0.2">4</text>
<rect x="280.4" y="329.2" width="104.2" height="89" fill="none" stroke="#333" stroke-width="1.1"/>
<path d="M280.4 418.2v2.8M288.2 418.2v1.8M292.8 418.2v1.8M296.1 418.2v1.8M298.6 418.2v1.8M300.7 418.2v1.8M302.4 418.2v1.8M303.9 418.2v1.8M305.3 418.2v1.8M306.4 418.2v2.8M314.3 418.2v1.8M318.9 418.2v1.8M322.1 418.2v1.8M324.7 418.2v1.8M326.7 418.2v1.8M328.5 418.2v1.8M330 418.2v1.8M331.3 418.2v1.8M332.5 418.2v2.8M340.3 418.2v1.8M344.9 418.2v1.8M348.2 418.2v1.8M350.7 418.2v1.8M352.8 418.2v1.8M354.5 418.2v1.8M356 418.2v1.8M357.4 418.2v1.8M358.6 418.2v2.8M366.4 418.2v1.8M371 418.2v1.8M374.2 418.2v1.8M376.8 418.2v1.8M378.8 418.2v1.8M380.6 418.2v1.8M382.1 418.2v1.8M383.4 418.2v1.8M384.6 418.2v2.8" stroke="#333" stroke-width="0.8" fill="none"/>
<path d="M280.4 418.2h-3.8M280.4 415.7h-2.6M280.4 413.3h-2.6M280.4 410.8h-2.6M280.4 408.3h-2.6M280.4 405.8h-2.6M280.4 403.4h-3.8M280.4 400.9h-2.6M280.4 398.4h-2.6M280.4 395.9h-2.6M280.4 393.5h-2.6M280.4 391h-2.6M280.4 388.5h-3.8M280.4 386.1h-2.6M280.4 383.6h-2.6M280.4 381.1h-2.6M280.4 378.6h-2.6M280.4 376.2h-2.6M280.4 373.7h-3.8M280.4 371.2h-2.6M280.4 368.8h-2.6M280.4 366.3h-2.6M280.4 363.8h-2.6M280.4 361.3h-2.6M280.4 358.9h-3.8M280.4 356.4h-2.6M280.4 353.9h-2.6M280.4 351.4h-2.6M280.4 349h-2.6M280.4 346.5h-2.6M280.4 344h-3.8M280.4 341.6h-2.6M280.4 339.1h-2.6M280.4 336.6h-2.6M280.4 334.1h-2.6M280.4 331.7h-2.6M280.4 329.2h-3.8" stroke="#333" stroke-width="0.9" fill="none"/>
<text x="276.2" y="429.5" style="font-family:'Liberation Sans',sans-serif;font-size:7.0px" fill="#1a1a1a" stroke="#1a1a1a" stroke-width="0.2" textLength="6.6" lengthAdjust="spacingAndGlyphs">10</text>
<text x="283.2" y="424.9" style="font-family:'Liberation Sans',sans-serif;font-size:7.0px" fill="#1a1a1a" stroke="#1a1a1a" stroke-width="0.2">0</text>
<text x="302.2" y="429.5" style="font-family:'Liberation Sans',sans-serif;font-size:7.0px" fill="#1a1a1a" stroke="#1a1a1a" stroke-width="0.2" textLength="6.6" lengthAdjust="spacingAndGlyphs">10</text>
<text x="309.2" y="424.9" style="font-family:'Liberation Sans',sans-serif;font-size:7.0px" fill="#1a1a1a" stroke="#1a1a1a" stroke-width="0.2">1</text>
<text x="328.3" y="429.5" style="font-family:'Liberation Sans',sans-serif;font-size:7.0px" fill="#1a1a1a" stroke="#1a1a1a" stroke-width="0.2" textLength="6.6" lengthAdjust="spacingAndGlyphs">10</text>
<text x="335.3" y="424.9" style="font-family:'Liberation Sans',sans-serif;font-size:7.0px" fill="#1a1a1a" stroke="#1a1a1a" stroke-width="0.2">2</text>
<text x="354.4" y="429.5" style="font-family:'Liberation Sans',sans-serif;font-size:7.0px" fill="#1a1a1a" stroke="#1a1a1a" stroke-width="0.2" textLength="6.6" lengthAdjust="spacingAndGlyphs">10</text>
<text x="361.4" y="424.9" style="font-family:'Liberation Sans',sans-serif;font-size:7.0px" fill="#1a1a1a" stroke="#1a1a1a" stroke-width="0.2">3</text>
<text x="380.4" y="429.5" style="font-family:'Liberation Sans',sans-serif;font-size:7.0px" fill="#1a1a1a" stroke="#1a1a1a" stroke-width="0.2" textLength="6.6" lengthAdjust="spacingAndGlyphs">10</text>
<text x="387.4" y="424.9" style="font-family:'Liberation Sans',sans-serif;font-size:7.0px" fill="#1a1a1a" stroke="#1a1a1a" stroke-width="0.2">4</text>
<rect x="407.5" y="328.8" width="106.5" height="89.7" fill="none" stroke="#333" stroke-width="1.1"/>
<path d="M407.5 418.5v2.8M415.5 418.5v1.8M420.2 418.5v1.8M423.5 418.5v1.8M426.1 418.5v1.8M428.2 418.5v1.8M430 418.5v1.8M431.5 418.5v1.8M432.9 418.5v1.8M434.1 418.5v2.8M442.1 418.5v1.8M446.8 418.5v1.8M450.2 418.5v1.8M452.7 418.5v1.8M454.8 418.5v1.8M456.6 418.5v1.8M458.2 418.5v1.8M459.5 418.5v1.8M460.8 418.5v2.8M468.8 418.5v1.8M473.5 418.5v1.8M476.8 418.5v1.8M479.4 418.5v1.8M481.5 418.5v1.8M483.3 418.5v1.8M484.8 418.5v1.8M486.2 418.5v1.8M487.4 418.5v2.8M495.4 418.5v1.8M500.1 418.5v1.8M503.4 418.5v1.8M506 418.5v1.8M508.1 418.5v1.8M509.9 418.5v1.8M511.4 418.5v1.8M512.8 418.5v1.8M514 418.5v2.8" stroke="#333" stroke-width="0.8" fill="none"/>
<path d="M407.5 418.5h-3.8M407.5 416h-2.6M407.5 413.5h-2.6M407.5 411h-2.6M407.5 408.5h-2.6M407.5 406h-2.6M407.5 403.6h-3.8M407.5 401.1h-2.6M407.5 398.6h-2.6M407.5 396.1h-2.6M407.5 393.6h-2.6M407.5 391.1h-2.6M407.5 388.6h-3.8M407.5 386.1h-2.6M407.5 383.6h-2.6M407.5 381.1h-2.6M407.5 378.6h-2.6M407.5 376.1h-2.6M407.5 373.6h-3.8M407.5 371.2h-2.6M407.5 368.7h-2.6M407.5 366.2h-2.6M407.5 363.7h-2.6M407.5 361.2h-2.6M407.5 358.7h-3.8M407.5 356.2h-2.6M407.5 353.7h-2.6M407.5 351.2h-2.6M407.5 348.7h-2.6M407.5 346.2h-2.6M407.5 343.8h-3.8M407.5 341.3h-2.6M407.5 338.8h-2.6M407.5 336.3h-2.6M407.5 333.8h-2.6M407.5 331.3h-2.6M407.5 328.8h-3.8" stroke="#333" stroke-width="0.9" fill="none"/>
<text x="403.3" y="429.8" style="font-family:'Liberation Sans',sans-serif;font-size:7.0px" fill="#1a1a1a" stroke="#1a1a1a" stroke-width="0.2" textLength="6.6" lengthAdjust="spacingAndGlyphs">10</text>
<text x="410.3" y="425.2" style="font-family:'Liberation Sans',sans-serif;font-size:7.0px" fill="#1a1a1a" stroke="#1a1a1a" stroke-width="0.2">0</text>
<text x="429.9" y="429.8" style="font-family:'Liberation Sans',sans-serif;font-size:7.0px" fill="#1a1a1a" stroke="#1a1a1a" stroke-width="0.2" textLength="6.6" lengthAdjust="spacingAndGlyphs">10</text>
<text x="436.9" y="425.2" style="font-family:'Liberation Sans',sans-serif;font-size:7.0px" fill="#1a1a1a" stroke="#1a1a1a" stroke-width="0.2">1</text>
<text x="456.6" y="429.8" style="font-family:'Liberation Sans',sans-serif;font-size:7.0px" fill="#1a1a1a" stroke="#1a1a1a" stroke-width="0.2" textLength="6.6" lengthAdjust="spacingAndGlyphs">10</text>
<text x="463.6" y="425.2" style="font-family:'Liberation Sans',sans-serif;font-size:7.0px" fill="#1a1a1a" stroke="#1a1a1a" stroke-width="0.2">2</text>
<text x="483.2" y="429.8" style="font-family:'Liberation Sans',sans-serif;font-size:7.0px" fill="#1a1a1a" stroke="#1a1a1a" stroke-width="0.2" textLength="6.6" lengthAdjust="spacingAndGlyphs">10</text>
<text x="490.2" y="425.2" style="font-family:'Liberation Sans',sans-serif;font-size:7.0px" fill="#1a1a1a" stroke="#1a1a1a" stroke-width="0.2">3</text>
<text x="509.8" y="429.8" style="font-family:'Liberation Sans',sans-serif;font-size:7.0px" fill="#1a1a1a" stroke="#1a1a1a" stroke-width="0.2" textLength="6.6" lengthAdjust="spacingAndGlyphs">10</text>
<text x="516.8" y="425.2" style="font-family:'Liberation Sans',sans-serif;font-size:7.0px" fill="#1a1a1a" stroke="#1a1a1a" stroke-width="0.2">4</text>
<text x="42.3" y="319.6" style="font-family:'Liberation Serif',serif;font-weight:bold;font-size:10.8px" fill="#111" stroke="#111" stroke-width="0.25" >Isotype control</text>
<text x="190.2" y="318.8" style="font-family:'Liberation Serif',serif;font-weight:bold;font-size:10.8px" fill="#111" stroke="#111" stroke-width="0.25" >CD19</text>
<text x="319.8" y="318.8" style="font-family:'Liberation Serif',serif;font-weight:bold;font-size:10.8px" fill="#111" stroke="#111" stroke-width="0.25" >CD38</text>
<text x="434.8" y="317.7" style="font-family:'Liberation Serif',serif;font-weight:bold;font-size:10.8px" fill="#111" stroke="#111" stroke-width="0.25" >syndecan-1</text>
<text x="45" y="443.8" style="font-family:'Liberation Serif',serif;font-weight:bold;font-size:10.8px" fill="#111" stroke="#111" stroke-width="0.25" >MHC class II</text>
<text x="180.7" y="442.7" style="font-family:'Liberation Serif',serif;font-weight:bold;font-size:10.8px" fill="#111" stroke="#111" stroke-width="0.25" >CD43(S7)</text>
<text x="307.3" y="442.2" style="font-family:'Liberation Serif',serif;font-weight:bold;font-size:10.8px" fill="#111" stroke="#111" stroke-width="0.25" >CD43(S11)</text>
<text x="447" y="441.8" style="font-family:'Liberation Serif',serif;font-weight:bold;font-size:10.8px" fill="#111" stroke="#111" stroke-width="0.25" >CD45</text>
</svg></body></html>
